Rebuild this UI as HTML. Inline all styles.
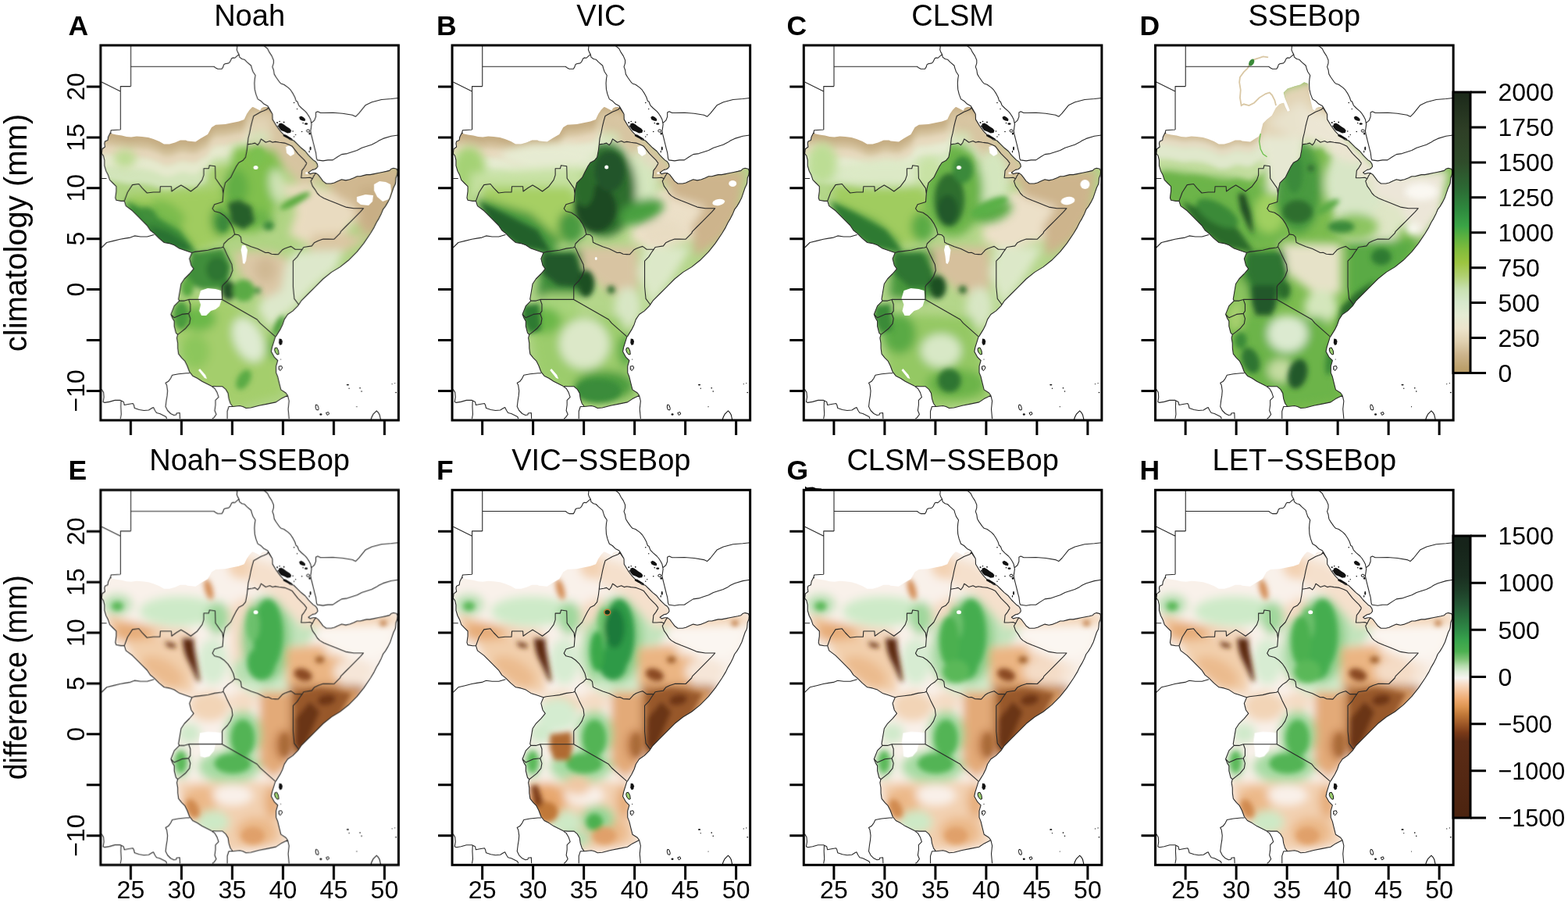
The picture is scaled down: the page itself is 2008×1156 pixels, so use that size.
<!DOCTYPE html><html><head><meta charset="utf-8"><title>Figure</title><style>html,body{margin:0;padding:0;background:#fff;}svg{display:block;}</style></head><body>
<svg width="2008" height="1156" viewBox="0 0 2008 1156">
<rect width="2008" height="1156" fill="#fff"/>
<defs>
<clipPath id="dom" clipPathUnits="userSpaceOnUse"><path d="M13.4 113.0 L20.2 114.5 L27.2 115.5 L33.2 117.0 L39.2 117.5 L46.2 116.5 L53.2 117.0 L61.2 118.0 L67.7 120.0 L75.2 123.0 L81.2 126.4 L88.2 126.4 L95.2 124.5 L102.2 121.5 L109.2 121.5 L111.2 122.5 L121.6 123.4 L128.5 119.0 L137.2 114.0 L142.2 105.0 L147.5 101.8 L159.6 100.9 L168.2 99.2 L176.9 97.5 L183.9 94.9 L187.2 88.0 L190.8 82.8 L194.2 79.3 L195.1 79.0 L199.2 81.0 L204.4 83.7 L206.0 80.5 L209.1 79.0 L213.0 79.0 L215.3 80.5 L218.4 85.2 L220.0 88.0 L220.2 94.9 L225.4 103.5 L230.6 110.4 L235.7 115.6 L242.7 120.8 L247.4 122.0 L251.6 126.2 L256.8 131.3 L262.0 135.5 L266.1 140.7 L269.2 143.8 L272.3 146.9 L275.5 149.0 L277.5 152.1 L278.0 155.2 L276.5 157.3 L274.4 158.8 L271.3 159.4 L268.2 161.4 L266.1 163.0 L268.2 164.6 L272.3 163.5 L275.5 163.5 L278.6 165.6 L281.7 169.7 L284.8 173.9 L288.9 177.0 L295.2 177.0 L299.3 176.0 L303.5 173.9 L308.7 171.8 L313.9 172.9 L319.1 171.8 L324.2 169.7 L328.4 167.7 L332.5 167.7 L336.7 166.6 L340.8 165.6 L345.0 165.6 L350.2 164.6 L355.4 163.5 L360.6 162.5 L365.8 161.4 L369.9 160.4 L372.0 158.3 L375.1 157.3 L379.3 158.3 L380.3 161.4 L379.8 165.6 L378.2 169.7 L377.7 176.0 L377.2 178.1 L375.1 182.2 L373.0 188.4 L370.9 194.7 L367.8 200.9 L364.7 206.1 L361.6 210.2 L359.5 215.4 L356.4 221.6 L353.3 226.8 L350.2 233.1 L345.6 240.7 L336.9 253.6 L328.3 264.4 L317.4 275.3 L306.6 283.9 L295.8 290.4 L285.0 299.0 L274.2 309.9 L265.5 318.5 L256.9 327.2 L252.6 333.6 L246.1 340.1 L239.6 344.5 L235.3 350.9 L233.1 357.4 L229.9 363.9 L224.5 372.6 L223.7 373.4 L219.5 386.9 L218.5 392.1 L222.6 399.4 L226.8 403.5 L224.7 410.8 L224.7 419.1 L226.8 424.3 L228.8 432.6 L230.9 440.9 L237.2 445.0 L239.6 448.3 L230.9 452.6 L224.5 456.9 L213.6 459.1 L202.8 461.2 L192.3 464.0 L186.2 464.5 L182.2 462.5 L178.2 461.5 L169.2 462.5 L166.2 458.5 L164.2 452.4 L163.2 445.4 L160.2 440.3 L156.1 436.8 L148.1 436.8 L142.0 436.3 L136.0 433.3 L130.0 430.3 L123.9 426.3 L117.9 423.2 L113.9 418.2 L110.9 410.2 L107.8 404.1 L103.8 400.1 L99.8 395.1 L98.8 388.0 L98.7 381.2 L97.6 374.7 L98.7 370.4 L96.5 368.2 L94.3 359.6 L94.3 353.1 L92.2 349.8 L90.0 344.4 L94.3 333.6 L100.8 327.1 L99.7 325.0 L100.8 318.5 L103.0 305.5 L107.3 299.0 L113.8 292.5 L119.2 286.1 L116.0 281.7 L113.8 273.1 L117.0 265.5 L113.8 264.4 L107.3 262.3 L100.8 260.1 L94.3 255.8 L87.8 253.6 L81.4 252.5 L74.9 247.1 L68.4 240.6 L63.6 236.8 L59.4 230.5 L53.2 224.3 L47.0 218.1 L40.7 211.8 L32.4 205.6 L30.4 199.4 L26.2 199.4 L20.0 198.3 L18.9 195.2 L20.0 186.9 L20.0 180.7 L15.8 176.5 L11.7 172.4 L9.6 166.1 L7.5 162.0 L7.0 161.2 L4.9 154.1 L4.9 147.0 L3.5 141.3 L1.3 138.5 L2.0 132.8 L5.6 130.0 L4.9 125.7 L5.6 122.9 L9.1 121.5 L9.8 117.2 L12.7 111.5 L13.4 113.0Z"/></clipPath>
<clipPath id="domD" clipPathUnits="userSpaceOnUse"><path d="M13.4 113.0 L20.2 114.5 L27.2 115.5 L33.2 117.0 L39.2 117.5 L46.2 116.5 L53.2 117.0 L61.2 118.0 L67.7 120.0 L75.2 123.0 L81.2 126.4 L88.2 126.4 L95.2 124.5 L102.2 121.5 L109.2 121.5 L111.2 122.5 L121.6 123.4 L128.5 119.0 L137.2 114.0 L142.2 105.0 L147.5 101.8 L159.6 100.9 L168.2 99.2 L176.9 97.5 L183.9 94.9 L187.2 88.0 L190.8 82.8 L194.2 79.3 L195.1 79.0 L199.2 81.0 L204.4 83.7 L206.0 80.5 L209.1 79.0 L213.0 79.0 L215.3 80.5 L218.4 85.2 L220.0 88.0 L220.2 94.9 L225.4 103.5 L230.6 110.4 L235.7 115.6 L242.7 120.8 L247.4 122.0 L251.6 126.2 L256.8 131.3 L262.0 135.5 L266.1 140.7 L269.2 143.8 L272.3 146.9 L275.5 149.0 L277.5 152.1 L278.0 155.2 L276.5 157.3 L274.4 158.8 L271.3 159.4 L268.2 161.4 L266.1 163.0 L268.2 164.6 L272.3 163.5 L275.5 163.5 L278.6 165.6 L281.7 169.7 L284.8 173.9 L288.9 177.0 L295.2 177.0 L299.3 176.0 L303.5 173.9 L308.7 171.8 L313.9 172.9 L319.1 171.8 L324.2 169.7 L328.4 167.7 L332.5 167.7 L336.7 166.6 L340.8 165.6 L345.0 165.6 L350.2 164.6 L355.4 163.5 L360.6 162.5 L365.8 161.4 L369.9 160.4 L372.0 158.3 L375.1 157.3 L379.3 158.3 L380.3 161.4 L379.8 165.6 L378.2 169.7 L377.7 176.0 L377.2 178.1 L375.1 182.2 L373.0 188.4 L370.9 194.7 L367.8 200.9 L364.7 206.1 L361.6 210.2 L359.5 215.4 L356.4 221.6 L353.3 226.8 L350.2 233.1 L345.6 240.7 L336.9 253.6 L328.3 264.4 L317.4 275.3 L306.6 283.9 L295.8 290.4 L285.0 299.0 L274.2 309.9 L265.5 318.5 L256.9 327.2 L252.6 333.6 L246.1 340.1 L239.6 344.5 L235.3 350.9 L233.1 357.4 L229.9 363.9 L224.5 372.6 L223.7 373.4 L219.5 386.9 L218.5 392.1 L222.6 399.4 L226.8 403.5 L224.7 410.8 L224.7 419.1 L226.8 424.3 L228.8 432.6 L230.9 440.9 L237.2 445.0 L239.6 448.3 L230.9 452.6 L224.5 456.9 L213.6 459.1 L202.8 461.2 L192.3 464.0 L186.2 464.5 L182.2 462.5 L178.2 461.5 L169.2 462.5 L166.2 458.5 L164.2 452.4 L163.2 445.4 L160.2 440.3 L156.1 436.8 L148.1 436.8 L142.0 436.3 L136.0 433.3 L130.0 430.3 L123.9 426.3 L117.9 423.2 L113.9 418.2 L110.9 410.2 L107.8 404.1 L103.8 400.1 L99.8 395.1 L98.8 388.0 L98.7 381.2 L97.6 374.7 L98.7 370.4 L96.5 368.2 L94.3 359.6 L94.3 353.1 L92.2 349.8 L90.0 344.4 L94.3 333.6 L100.8 327.1 L99.7 325.0 L100.8 318.5 L103.0 305.5 L107.3 299.0 L113.8 292.5 L119.2 286.1 L116.0 281.7 L113.8 273.1 L117.0 265.5 L113.8 264.4 L107.3 262.3 L100.8 260.1 L94.3 255.8 L87.8 253.6 L81.4 252.5 L74.9 247.1 L68.4 240.6 L63.6 236.8 L59.4 230.5 L53.2 224.3 L47.0 218.1 L40.7 211.8 L32.4 205.6 L30.4 199.4 L26.2 199.4 L20.0 198.3 L18.9 195.2 L20.0 186.9 L20.0 180.7 L15.8 176.5 L11.7 172.4 L9.6 166.1 L7.5 162.0 L7.0 161.2 L4.9 154.1 L4.9 147.0 L3.5 141.3 L1.3 138.5 L2.0 132.8 L5.6 130.0 L4.9 125.7 L5.6 122.9 L9.1 121.5 L9.8 117.2 L12.7 111.5 L13.4 113.0Z"/><path d="M117.2 128.0 L123.2 123.0 L129.8 119.7 L134.7 113.1 L138.0 100.0 L143.0 95.0 L149.5 90.0 L154.5 80.2 L159.4 75.3 L164.3 73.7 L166.0 78.6 L169.3 85.2 L172.6 83.5 L166.0 67.1 L164.3 60.5 L169.3 55.6 L179.1 52.3 L185.7 50.6 L190.6 47.3 L195.6 49.0 L197.2 63.8 L198.9 72.0 L201.2 82.0 L191.2 102.0 L171.2 117.0 L141.2 127.0Z"/></clipPath>
<clipPath id="cETH" clipPathUnits="userSpaceOnUse"><path d="M188.2 126.9 L194.2 126.0 L197.7 125.1 L201.2 127.7 L203.7 124.3 L205.5 119.9 L208.1 121.7 L211.5 124.3 L216.7 122.5 L220.2 124.3 L223.6 123.4 L228.8 124.3 L235.7 125.1 L241.2 127.2 L245.4 129.3 L248.5 133.4 L252.6 138.6 L256.8 142.8 L260.9 146.9 L264.0 151.1 L260.9 156.3 L257.8 160.4 L257.3 165.6 L256.8 169.7 L262.0 169.7 L268.2 169.2 L271.3 170.8 L269.2 173.9 L271.3 180.1 L274.4 184.3 L277.5 189.5 L280.6 192.6 L285.8 195.7 L293.1 198.8 L301.4 201.9 L308.7 205.0 L313.9 207.1 L324.2 208.7 L336.7 208.7 L332.5 213.3 L326.3 219.6 L320.1 225.8 L313.9 232.0 L307.6 238.3 L306.6 240.7 L299.1 248.2 L291.2 248.1 L284.9 248.1 L278.7 250.2 L273.5 252.8 L270.4 256.9 L263.1 258.0 L260.0 258.5 L257.9 261.6 L256.9 261.3 L249.1 261.3 L243.9 257.4 L240.3 258.5 L235.6 260.3 L232.5 262.1 L227.3 267.8 L223.7 267.6 L219.0 267.3 L214.8 265.2 L211.2 265.5 L201.2 260.5 L192.8 257.7 L183.9 254.0 L180.4 252.3 L179.5 245.4 L176.9 242.8 L171.7 241.9 L170.0 235.0 L166.6 228.1 L163.1 222.9 L157.9 217.7 L152.7 214.2 L145.8 212.5 L143.2 209.0 L145.8 203.8 L156.2 200.4 L157.0 190.0 L157.9 183.1 L159.6 176.2 L163.1 172.7 L166.6 169.2 L170.0 162.3 L173.5 155.4 L176.9 150.2 L182.1 147.6 L185.6 143.3 L187.3 134.7 L188.2 126.9Z"/></clipPath>
<clipPath id="cUGA" clipPathUnits="userSpaceOnUse"><path d="M117.0 265.5 L120.3 264.4 L128.9 263.4 L137.6 262.3 L146.2 260.1 L154.9 259.0 L157.0 258.0 L158.7 261.0 L162.3 269.1 L168.0 280.5 L169.0 288.2 L166.2 295.8 L162.3 301.5 L156.6 307.2 L155.7 309.0 L155.7 325.4 L112.7 325.4 L107.3 327.1 L100.8 327.1 L99.7 325.0 L100.8 318.5 L103.0 305.5 L107.3 299.0 L113.8 292.5 L119.2 286.1 L116.0 281.7 L113.8 273.1 L117.0 265.5Z"/></clipPath>
<clipPath id="cSSD" clipPathUnits="userSpaceOnUse"><path d="M30.4 199.4 L34.5 188.2 L40.7 178.6 L49.0 177.5 L53.2 182.7 L59.4 189.0 L67.7 188.0 L76.0 188.0 L76.5 180.7 L90.6 180.7 L91.0 187.0 L96.8 182.8 L103.0 179.0 L109.3 182.8 L115.5 187.0 L123.8 180.7 L130.0 172.4 L132.1 166.1 L132.1 157.8 L138.4 157.8 L139.4 153.7 L146.7 154.7 L147.1 170.3 L152.9 178.6 L156.0 182.8 L157.0 190.0 L156.2 200.4 L145.8 203.8 L143.2 209.0 L145.8 212.5 L152.7 214.2 L157.9 217.7 L163.1 222.9 L166.6 228.1 L170.0 235.0 L171.7 241.9 L168.3 245.4 L163.1 248.8 L157.9 254.0 L157.0 258.0 L154.9 259.0 L146.2 260.1 L137.6 262.3 L128.9 263.4 L120.3 264.4 L117.0 265.5 L113.8 264.4 L107.3 262.3 L100.8 260.1 L94.3 255.8 L87.8 253.6 L81.4 252.5 L74.9 247.1 L68.4 240.6 L63.6 236.8 L59.4 230.5 L53.2 224.3 L47.0 218.1 L40.7 211.8 L32.4 205.6 L30.4 199.4Z"/></clipPath>
<clipPath id="frm" clipPathUnits="userSpaceOnUse"><rect x="0" y="0" width="381.6" height="480.0"/></clipPath>
<filter id="bl2" x="-10%" y="-10%" width="120%" height="120%"><feGaussianBlur stdDeviation="2"/></filter>
<filter id="bl3" x="-10%" y="-10%" width="120%" height="120%"><feGaussianBlur stdDeviation="3"/></filter>
<filter id="bl4" x="-10%" y="-10%" width="120%" height="120%"><feGaussianBlur stdDeviation="4"/></filter>
<filter id="bl6" x="-10%" y="-10%" width="120%" height="120%"><feGaussianBlur stdDeviation="6"/></filter>
<linearGradient id="cb1" x1="0" y1="1" x2="0" y2="0"><stop offset="0.0000" stop-color="#b89c66"/><stop offset="0.0180" stop-color="#bca06c"/><stop offset="0.0650" stop-color="#ccb48c"/><stop offset="0.1120" stop-color="#e0d0b0"/><stop offset="0.1590" stop-color="#ece4cc"/><stop offset="0.2060" stop-color="#e4ecd4"/><stop offset="0.2520" stop-color="#d6e8cc"/><stop offset="0.2990" stop-color="#c8e0b0"/><stop offset="0.3460" stop-color="#b0d070"/><stop offset="0.3930" stop-color="#9cc440"/><stop offset="0.4400" stop-color="#80bc3c"/><stop offset="0.4870" stop-color="#5ab040"/><stop offset="0.5240" stop-color="#3aa446"/><stop offset="0.5810" stop-color="#2e8a3e"/><stop offset="0.6560" stop-color="#2c6a34"/><stop offset="0.7500" stop-color="#2f4c2a"/><stop offset="0.8620" stop-color="#2e3f26"/><stop offset="0.9940" stop-color="#1c2a1a"/><stop offset="1.0000" stop-color="#1c2a1a"/></linearGradient>
<linearGradient id="cb2" x1="0" y1="1" x2="0" y2="0"><stop offset="0.0000" stop-color="#4a2210"/><stop offset="0.0110" stop-color="#4c2410"/><stop offset="0.2710" stop-color="#5c2c16"/><stop offset="0.3020" stop-color="#7a3a18"/><stop offset="0.3350" stop-color="#a05a28"/><stop offset="0.3660" stop-color="#c07838"/><stop offset="0.3930" stop-color="#dc9450"/><stop offset="0.4210" stop-color="#eeaa70"/><stop offset="0.4490" stop-color="#f4c49c"/><stop offset="0.4740" stop-color="#f8dcc6"/><stop offset="0.4960" stop-color="#f6f4f0"/><stop offset="0.5180" stop-color="#dcecd6"/><stop offset="0.5400" stop-color="#b4dcac"/><stop offset="0.5620" stop-color="#80c478"/><stop offset="0.5900" stop-color="#4cb050"/><stop offset="0.6290" stop-color="#38a44c"/><stop offset="0.6680" stop-color="#2e8a46"/><stop offset="0.7120" stop-color="#28703c"/><stop offset="0.7560" stop-color="#245634"/><stop offset="0.8090" stop-color="#1e3e28"/><stop offset="0.8560" stop-color="#1a2e20"/><stop offset="0.9610" stop-color="#16241a"/><stop offset="1.0000" stop-color="#16221a"/></linearGradient>
</defs>
<g transform="translate(128.80 58.00)">
<g clip-path="url(#frm)">
<g clip-path="url(#dom)"><g filter="url(#bl3)"><path d="M-8.8 42.0 L391.2 42.0 L391.2 482.0 L-8.8 482.0Z" fill="#b0d484"/><path d="M-6.6 83.0 L13.4 83.0 L20.2 84.5 L27.2 85.5 L33.2 87.0 L39.2 87.5 L46.2 86.5 L53.2 87.0 L61.2 88.0 L67.7 90.0 L75.2 93.0 L81.2 96.4 L88.2 96.4 L95.2 94.5 L102.2 91.5 L109.2 91.5 L111.2 92.5 L121.6 93.4 L128.5 89.0 L137.2 84.0 L142.2 75.0 L147.5 71.8 L159.6 70.9 L168.2 69.2 L176.9 67.5 L183.9 64.9 L187.2 58.0 L190.8 52.8 L194.2 49.3 L195.1 49.0 L199.2 51.0 L204.4 53.7 L206.0 50.5 L209.1 49.0 L213.0 49.0 L215.3 50.5 L218.4 55.2 L220.0 58.0 L240.0 58.0 L240.0 95.0 L220.0 95.0 L218.4 92.2 L215.3 87.5 L213.0 86.0 L209.1 86.0 L206.0 87.5 L204.4 90.7 L199.2 88.0 L195.1 86.0 L194.2 86.3 L190.8 89.8 L187.2 95.0 L183.9 101.9 L176.9 104.5 L168.2 106.2 L159.6 107.9 L147.5 108.8 L142.2 112.0 L137.2 121.0 L128.5 126.0 L121.6 130.4 L111.2 129.5 L109.2 128.5 L102.2 128.5 L95.2 131.5 L88.2 133.4 L81.2 133.4 L75.2 130.0 L67.7 127.0 L61.2 125.0 L53.2 124.0 L46.2 123.5 L39.2 124.5 L33.2 124.0 L27.2 122.5 L20.2 121.5 L13.4 120.0 L-6.6 120.0Z" fill="#c6ad84"/><path d="M-6.6 120.0 L13.4 120.0 L20.2 121.5 L27.2 122.5 L33.2 124.0 L39.2 124.5 L46.2 123.5 L53.2 124.0 L61.2 125.0 L67.7 127.0 L75.2 130.0 L81.2 133.4 L88.2 133.4 L95.2 131.5 L102.2 128.5 L109.2 128.5 L111.2 129.5 L121.6 130.4 L128.5 126.0 L137.2 121.0 L142.2 112.0 L147.5 108.8 L159.6 107.9 L168.2 106.2 L176.9 104.5 L183.9 101.9 L187.2 95.0 L190.8 89.8 L194.2 86.3 L195.1 86.0 L199.2 88.0 L204.4 90.7 L206.0 87.5 L209.1 86.0 L213.0 86.0 L215.3 87.5 L218.4 92.2 L220.0 95.0 L240.0 95.0 L240.0 103.0 L220.0 103.0 L218.4 100.2 L215.3 95.5 L213.0 94.0 L209.1 94.0 L206.0 95.5 L204.4 98.7 L199.2 96.0 L195.1 94.0 L194.2 94.3 L190.8 97.8 L187.2 103.0 L183.9 109.9 L176.9 112.5 L168.2 114.2 L159.6 115.9 L147.5 116.8 L142.2 120.0 L137.2 129.0 L128.5 134.0 L121.6 138.4 L111.2 137.5 L109.2 136.5 L102.2 136.5 L95.2 139.5 L88.2 141.4 L81.2 141.4 L75.2 138.0 L67.7 135.0 L61.2 133.0 L53.2 132.0 L46.2 131.5 L39.2 132.5 L33.2 132.0 L27.2 130.5 L20.2 129.5 L13.4 128.0 L-6.6 128.0Z" fill="#d3bf99"/><path d="M-6.6 128.0 L13.4 128.0 L20.2 129.5 L27.2 130.5 L33.2 132.0 L39.2 132.5 L46.2 131.5 L53.2 132.0 L61.2 133.0 L67.7 135.0 L75.2 138.0 L81.2 141.4 L88.2 141.4 L95.2 139.5 L102.2 136.5 L109.2 136.5 L111.2 137.5 L121.6 138.4 L128.5 134.0 L137.2 129.0 L142.2 120.0 L147.5 116.8 L159.6 115.9 L168.2 114.2 L176.9 112.5 L183.9 109.9 L187.2 103.0 L190.8 97.8 L194.2 94.3 L195.1 94.0 L199.2 96.0 L204.4 98.7 L206.0 95.5 L209.1 94.0 L213.0 94.0 L215.3 95.5 L218.4 100.2 L220.0 103.0 L240.0 103.0 L240.0 115.0 L220.0 115.0 L218.4 112.2 L215.3 107.5 L213.0 106.0 L209.1 106.0 L206.0 107.5 L204.4 110.7 L199.2 108.0 L195.1 106.0 L194.2 106.3 L190.8 109.8 L187.2 115.0 L183.9 121.9 L176.9 124.5 L168.2 126.2 L159.6 127.9 L147.5 128.8 L142.2 132.0 L137.2 141.0 L128.5 146.0 L121.6 150.4 L111.2 149.5 L109.2 148.5 L102.2 148.5 L95.2 151.5 L88.2 153.4 L81.2 153.4 L75.2 150.0 L67.7 147.0 L61.2 145.0 L53.2 144.0 L46.2 143.5 L39.2 144.5 L33.2 144.0 L27.2 142.5 L20.2 141.5 L13.4 140.0 L-6.6 140.0Z" fill="#e5d6ba"/><path d="M-6.6 140.0 L13.4 140.0 L20.2 141.5 L27.2 142.5 L33.2 144.0 L39.2 144.5 L46.2 143.5 L53.2 144.0 L61.2 145.0 L67.7 147.0 L75.2 150.0 L81.2 153.4 L88.2 153.4 L95.2 151.5 L102.2 148.5 L109.2 148.5 L111.2 149.5 L121.6 150.4 L128.5 146.0 L137.2 141.0 L142.2 132.0 L147.5 128.8 L159.6 127.9 L168.2 126.2 L176.9 124.5 L183.9 121.9 L187.2 115.0 L190.8 109.8 L194.2 106.3 L195.1 106.0 L199.2 108.0 L204.4 110.7 L206.0 107.5 L209.1 106.0 L213.0 106.0 L215.3 107.5 L218.4 112.2 L220.0 115.0 L240.0 115.0 L240.0 130.0 L220.0 130.0 L218.4 127.2 L215.3 122.5 L213.0 121.0 L209.1 121.0 L206.0 122.5 L204.4 125.7 L199.2 123.0 L195.1 121.0 L194.2 121.3 L190.8 124.8 L187.2 130.0 L183.9 136.9 L176.9 139.5 L168.2 141.2 L159.6 142.9 L147.5 143.8 L142.2 147.0 L137.2 156.0 L128.5 161.0 L121.6 165.4 L111.2 164.5 L109.2 163.5 L102.2 163.5 L95.2 166.5 L88.2 168.4 L81.2 168.4 L75.2 165.0 L67.7 162.0 L61.2 160.0 L53.2 159.0 L46.2 158.5 L39.2 159.5 L33.2 159.0 L27.2 157.5 L20.2 156.5 L13.4 155.0 L-6.6 155.0Z" fill="#e5e9cd"/><path d="M-6.6 155.0 L13.4 155.0 L20.2 156.5 L27.2 157.5 L33.2 159.0 L39.2 159.5 L46.2 158.5 L53.2 159.0 L61.2 160.0 L67.7 162.0 L75.2 165.0 L81.2 168.4 L88.2 168.4 L95.2 166.5 L102.2 163.5 L109.2 163.5 L111.2 164.5 L121.6 165.4 L128.5 161.0 L137.2 156.0 L142.2 147.0 L147.5 143.8 L159.6 142.9 L168.2 141.2 L176.9 139.5 L183.9 136.9 L187.2 130.0 L190.8 124.8 L194.2 121.3 L195.1 121.0 L199.2 123.0 L204.4 125.7 L206.0 122.5 L209.1 121.0 L213.0 121.0 L215.3 122.5 L218.4 127.2 L220.0 130.0 L240.0 130.0 L240.0 148.0 L220.0 148.0 L218.4 145.2 L215.3 140.5 L213.0 139.0 L209.1 139.0 L206.0 140.5 L204.4 143.7 L199.2 141.0 L195.1 139.0 L194.2 139.3 L190.8 142.8 L187.2 148.0 L183.9 154.9 L176.9 157.5 L168.2 159.2 L159.6 160.9 L147.5 161.8 L142.2 165.0 L137.2 174.0 L128.5 179.0 L121.6 183.4 L111.2 182.5 L109.2 181.5 L102.2 181.5 L95.2 184.5 L88.2 186.4 L81.2 186.4 L75.2 183.0 L67.7 180.0 L61.2 178.0 L53.2 177.0 L46.2 176.5 L39.2 177.5 L33.2 177.0 L27.2 175.5 L20.2 174.5 L13.4 173.0 L-6.6 173.0Z" fill="#d3e5bb"/></g><g filter="url(#bl6)"><ellipse transform="translate(31.2 145.0) rotate(0.0)" rx="14.0" ry="12.0" fill="#bcdb92"/><ellipse transform="translate(156.2 167.0) rotate(0.0)" rx="20.0" ry="16.0" fill="#a8d070"/><path d="M31.2 192.0 L156.2 182.0 L171.2 242.0 L121.2 264.0 L61.2 242.0Z" fill="#a0cc5e"/><path d="M29.2 198.0 L91.2 218.0 L123.2 264.0 L76.2 262.0 L43.2 234.0Z" fill="#62ae46"/><ellipse transform="translate(86.2 214.0) rotate(30.0)" rx="25.0" ry="12.0" fill="#7cbc4e"/><ellipse transform="translate(155.2 224.0) rotate(0.0)" rx="14.0" ry="20.0" fill="#4f9e40"/><path d="M171.2 130.0 L216.2 127.0 L233.2 142.0 L233.2 192.0 L201.2 240.0 L159.2 240.0 L157.2 190.0Z" fill="#80c04e"/><ellipse transform="translate(226.2 180.0) rotate(-10.0)" rx="10.0" ry="22.0" fill="#cde2b4"/><ellipse transform="translate(173.2 182.0) rotate(0.0)" rx="16.0" ry="24.0" fill="#62ae44"/><ellipse transform="translate(201.2 222.0) rotate(0.0)" rx="20.0" ry="12.0" fill="#6cb448"/><path d="M189.2 82.0 L220.2 82.0 L271.2 140.0 L283.2 154.0 L283.2 172.0 L257.2 180.0 L236.2 157.0 L223.2 134.0 L191.2 128.0Z" fill="#d7c4a0"/><path d="M191.2 92.0 L216.2 92.0 L221.2 127.0 L193.2 126.0Z" fill="#e2d4b6"/><ellipse transform="translate(204.2 118.0) rotate(0.0)" rx="12.0" ry="7.0" fill="#d2e4b8"/><path d="M231.2 178.0 L271.2 178.0 L311.2 192.0 L337.2 210.0 L311.2 242.0 L271.2 258.0 L241.2 242.0 L251.2 212.0Z" fill="#e9dbc0"/><path d="M276.2 164.0 L386.2 152.0 L386.2 182.0 L363.2 227.0 L341.2 247.0 L326.2 227.0 L326.2 207.0 L301.2 192.0Z" fill="#d0b890"/><path d="M331.2 182.0 L376.2 177.0 L366.2 222.0 L351.2 242.0 L336.2 232.0Z" fill="#c8ae85"/><path d="M271.2 242.0 L311.2 240.0 L341.2 247.0 L301.2 272.0 L266.2 262.0Z" fill="#dac6a2"/><path d="M249.2 264.0 L311.2 262.0 L301.2 287.0 L271.2 312.0 L251.2 334.0 L216.2 362.0 L201.2 337.0 L221.2 302.0Z" fill="#dde8cb"/><path d="M171.2 264.0 L216.2 264.0 L239.2 272.0 L231.2 314.0 L211.2 324.0 L191.2 312.0 L176.2 287.0Z" fill="#dbc7a6"/><ellipse transform="translate(211.2 287.0) rotate(0.0)" rx="14.0" ry="16.0" fill="#d0b994"/><path d="M99.2 326.0 L161.2 326.0 L223.2 372.0 L233.2 447.0 L171.2 464.0 L111.2 422.0 L93.2 362.0Z" fill="#a4ce6c"/><ellipse transform="translate(189.2 377.0) rotate(-25.0)" rx="18.0" ry="30.0" fill="#dfebd2"/><ellipse transform="translate(126.2 350.0) rotate(0.0)" rx="22.0" ry="16.0" fill="#6cb848"/><ellipse transform="translate(121.2 392.0) rotate(0.0)" rx="18.0" ry="22.0" fill="#8cc65c"/><ellipse transform="translate(221.2 387.0) rotate(0.0)" rx="6.0" ry="16.0" fill="#5aaa44"/></g><g filter="url(#bl3)"><path d="M33.2 200.0 L71.2 220.0 L101.2 238.0 L123.2 266.0 L103.2 264.0 L76.2 256.0 L49.2 238.0Z" fill="#3a8a38"/><path d="M61.2 230.0 L86.2 238.0 L111.2 254.0 L117.2 264.0 L93.2 260.0 L71.2 248.0Z" fill="#2c7230"/><ellipse transform="translate(61.2 217.0) rotate(35.0)" rx="12.0" ry="8.0" fill="#3f8e3a"/><path d="M163.2 202.0 L177.2 198.0 L193.2 206.0 L197.2 226.0 L183.2 236.0 L167.2 228.0Z" fill="#285e2a"/><ellipse transform="translate(157.2 227.0) rotate(0.0)" rx="8.0" ry="12.0" fill="#3b883a"/><ellipse transform="translate(215.2 231.0) rotate(0.0)" rx="7.0" ry="6.0" fill="#3b883a"/><ellipse transform="translate(249.2 199.0) rotate(-28.0)" rx="22.0" ry="5.0" fill="#58aa3e"/><ellipse transform="translate(201.2 142.0) rotate(0.0)" rx="10.0" ry="12.0" fill="#7cc050"/><path d="M117.2 266.0 L157.2 260.0 L167.2 282.0 L163.2 304.0 L155.2 312.0 L129.2 312.0 L107.2 302.0 L113.2 280.0Z" fill="#3f8e3a"/><ellipse transform="translate(149.2 287.0) rotate(0.0)" rx="14.0" ry="16.0" fill="#2e7430"/><ellipse transform="translate(164.2 314.0) rotate(0.0)" rx="9.0" ry="12.0" fill="#234f26"/><ellipse transform="translate(111.2 310.0) rotate(0.0)" rx="8.0" ry="12.0" fill="#56a640"/><ellipse transform="translate(183.2 314.0) rotate(0.0)" rx="14.0" ry="14.0" fill="#5aaa44"/><ellipse transform="translate(201.2 314.0) rotate(0.0)" rx="4.0" ry="4.0" fill="#3a8c3a"/><ellipse transform="translate(228.2 359.0) rotate(25.0)" rx="5.0" ry="14.0" fill="#4c9e3e"/><ellipse transform="translate(103.2 346.0) rotate(0.0)" rx="10.0" ry="18.0" fill="#4a9a3e"/><ellipse transform="translate(183.2 428.0) rotate(30.0)" rx="8.0" ry="14.0" fill="#5aaa44"/></g><path d="M237.2 130.0 L242.2 128.0 L247.2 132.0 L248.2 139.0 L243.2 142.0 L238.2 138.0Z" fill="#ffffff"/><ellipse transform="translate(264.2 163.5) rotate(0.0)" rx="2.0" ry="1.5" fill="#ffffff"/><path d="M128.2 314.0 L137.2 311.0 L147.2 312.0 L154.2 314.0 L155.2 325.0 L152.2 334.0 L147.2 338.0 L141.2 340.0 L135.2 346.0 L129.2 346.0 L126.2 340.0 L128.2 332.0 L125.2 324.0Z" fill="#ffffff"/><ellipse transform="translate(198.7 156.5) rotate(0.0)" rx="3.0" ry="2.5" fill="#ffffff"/><path d="M181.2 256.0 L185.2 256.0 L188.2 262.0 L187.2 269.0 L186.2 276.0 L184.2 280.0 L182.2 279.0 L181.2 270.0 L179.7 262.0Z" fill="#ffffff"/><path d="M125.2 416.0 L127.2 414.0 L134.2 422.0 L136.2 427.0 L133.2 426.0Z" fill="#ffffff"/><path d="M328.2 194.0 L339.2 191.0 L349.2 192.0 L348.2 200.0 L343.2 205.0 L333.2 204.0 L328.2 200.0Z" fill="#ffffff"/><path d="M350.2 178.0 L357.2 174.0 L365.2 175.0 L371.2 178.0 L372.2 187.0 L369.2 197.0 L361.2 200.0 L354.2 194.0 L350.2 186.0Z" fill="#ffffff"/></g>
<path d="M38.7 0.0 L38.7 52.6 M38.7 52.6 L25.5 52.6 L25.5 108.0 M1.3 47.0 L25.5 59.0 M1.2 170.5 L7.7 170.5 M38.7 27.2 L145.2 27.2 L147.6 29.1 L149.9 30.3 L155.3 30.3 L156.9 27.6 L157.7 24.9 L159.2 23.7 L163.9 22.9 L165.5 21.4 L167.8 16.7 L169.4 15.9 L171.7 16.3 L174.8 13.6 L177.2 11.6 M177.2 11.6 L175.6 8.9 L174.4 5.8 L174.8 2.7 L174.8 0.0 M177.2 11.6 L177.9 15.1 L181.0 17.5 L184.2 18.2 L187.3 21.4 L192.7 26.0 L193.5 29.1 L195.1 33.8 L198.2 38.5 L197.4 43.2 L197.0 48.6 L197.4 56.4 L198.9 62.6 L201.3 68.9 L205.2 71.2 L209.1 75.1 L213.7 77.4 L215.3 79.8 L217.6 83.7 L220.0 88.0 M208.2 0.0 L209.8 1.1 L213.7 4.2 L216.1 8.9 L219.2 13.6 L221.5 19.0 L221.5 22.9 L220.0 27.6 L221.5 31.5 L222.3 36.9 L224.6 40.8 L228.5 46.3 L230.9 49.0 L234.8 50.2 L240.2 54.1 L243.3 57.2 L246.4 61.9 L248.8 66.5 L250.3 71.2 L251.9 72.0 L253.8 76.8 L257.4 80.5 L262.2 84.7 L264.7 87.7 L267.1 91.4 L268.9 95.0 L269.5 98.0 L270.1 101.1 L269.5 105.9 L268.9 109.6 L269.5 113.2 L270.7 118.0 L271.9 122.9 L273.1 127.7 L274.3 132.6 L275.6 137.4 L276.2 142.0 L276.5 144.8 L277.5 146.9 L284.8 147.9 L291.0 146.9 L297.3 146.9 L303.5 142.8 L308.7 139.6 L315.9 138.6 L322.2 136.5 L328.4 134.5 L334.6 131.3 L340.8 129.3 L347.1 127.2 L353.3 124.1 L356.4 122.0 L361.8 119.4 L372.2 116.3 L381.2 115.0 M269.5 99.9 L273.7 96.2 L275.6 91.4 L275.6 85.9 L278.0 84.7 L281.6 86.5 L286.2 86.5 L297.5 86.2 L309.9 87.2 L322.4 89.3 L326.5 91.3 L330.7 87.2 L339.0 76.8 L347.3 72.7 L359.7 69.5 L372.2 68.5 L381.2 67.5 M220.0 88.0 L214.5 79.8 L213.0 82.1 L209.1 83.7 L205.2 85.2 L201.3 87.5 L196.0 90.5 L194.2 96.6 L192.5 103.5 L190.8 112.2 L189.0 119.1 L188.2 126.9 M188.2 126.9 L194.2 126.0 L197.7 125.1 L201.2 127.7 L203.7 124.3 L205.5 119.9 L208.1 121.7 L211.5 124.3 L216.7 122.5 L220.2 124.3 L223.6 123.4 L228.8 124.3 L235.7 125.1 L241.2 127.2 L245.4 129.3 L248.5 133.4 L252.6 138.6 L256.8 142.8 L260.9 146.9 L264.0 151.1 M264.0 151.1 L260.9 156.3 L257.8 160.4 L257.3 165.6 L256.8 169.7 L262.0 169.7 L268.2 169.2 L271.3 170.8 L273.4 166.6 L275.5 163.5 M271.3 170.8 L269.2 173.9 L271.3 180.1 L274.4 184.3 L277.5 189.5 L280.6 192.6 L285.8 195.7 L293.1 198.8 L301.4 201.9 L308.7 205.0 L313.9 207.1 L324.2 208.7 L336.7 208.7 L332.5 213.3 L326.3 219.6 L320.1 225.8 L313.9 232.0 L307.6 238.3 L306.6 240.7 L299.1 248.2 L291.2 248.1 L284.9 248.1 L278.7 250.2 L273.5 252.8 L270.4 256.9 L263.1 258.0 L260.0 258.5 L257.9 261.6 M188.2 126.9 L187.3 134.7 L185.6 143.3 L182.1 147.6 L176.9 150.2 L173.5 155.4 L170.0 162.3 L166.6 169.2 L163.1 172.7 L159.6 176.2 L157.9 183.1 L157.0 190.0 M30.4 199.4 L34.5 188.2 L40.7 178.6 L49.0 177.5 L53.2 182.7 L59.4 189.0 L67.7 188.0 L76.0 188.0 L76.5 180.7 L90.6 180.7 L91.0 187.0 L96.8 182.8 L103.0 179.0 L109.3 182.8 L115.5 187.0 L123.8 180.7 L130.0 172.4 L132.1 166.1 L132.1 157.8 L138.4 157.8 L139.4 153.7 L146.7 154.7 L147.1 170.3 L152.9 178.6 L156.0 182.8 L157.0 190.0 M157.0 190.0 L156.2 200.4 L145.8 203.8 L143.2 209.0 L145.8 212.5 L152.7 214.2 L157.9 217.7 L163.1 222.9 L166.6 228.1 L170.0 235.0 L171.7 241.9 M171.7 241.9 L176.9 242.8 L179.5 245.4 L180.4 252.3 L183.9 254.0 L192.8 257.7 L201.2 260.5 L211.2 265.5 L214.8 265.2 L219.0 267.3 L223.7 267.6 L227.3 267.8 L232.5 262.1 L235.6 260.3 L240.3 258.5 L243.9 257.4 L249.1 261.3 L256.9 261.3 L257.9 261.6 M171.7 241.9 L168.3 245.4 L163.1 248.8 L157.9 254.0 L157.0 258.0 M117.0 265.5 L120.3 264.4 L128.9 263.4 L137.6 262.3 L146.2 260.1 L154.9 259.0 L157.0 258.0 M157.0 258.0 L158.7 261.0 L162.3 269.1 L168.0 280.5 L169.0 288.2 L166.2 295.8 L162.3 301.5 L156.6 307.2 L155.7 309.0 L155.7 325.4 M155.7 325.4 L112.7 325.4 L107.3 327.1 L100.8 327.1 M112.7 325.4 L114.9 331.5 L114.9 340.1 L112.7 343.4 L104.0 344.4 L94.3 348.8 L90.0 344.4 M112.7 343.4 L114.9 349.8 L113.8 356.3 L108.4 362.8 L103.0 367.1 L98.7 370.4 M155.7 325.4 L200.4 351.0 L204.2 355.7 L223.4 372.6 M253.7 332.0 L248.0 324.3 L246.5 309.0 L246.5 292.0 L246.5 276.1 L251.7 270.9 L255.3 265.2 L257.9 261.6 M1.2 259.0 L7.8 252.5 L16.5 250.4 L25.1 248.2 L31.6 247.1 L38.1 246.1 L43.5 243.9 L51.1 245.0 L59.7 245.0 L68.4 242.5 M113.9 419.7 L109.8 419.7 L99.8 420.7 L91.7 422.2 L89.7 426.3 L86.7 430.3 L83.2 432.3 L84.7 435.3 L85.7 442.4 L85.2 448.4 L84.2 454.4 L83.2 462.5 L85.7 467.5 L89.7 471.5 L93.8 473.5 L96.8 473.0 L97.3 471.0 L101.3 470.5 L101.6 478.0 M142.5 436.8 L146.1 439.3 L149.1 444.4 L151.1 450.4 L147.1 454.4 L147.1 460.5 L146.1 467.5 L148.1 472.5 L145.1 476.6 L143.1 478.0 M169.2 462.5 L164.2 462.5 L162.2 468.5 L162.2 478.0 M1.2 440.3 L3.7 444.4 L4.2 450.4 L3.2 456.4 L5.2 457.4 L11.3 456.4 L18.3 454.4 L25.4 454.4 L29.4 456.4 L30.4 460.5 L35.4 459.5 L41.4 458.5 L42.5 460.5 L43.5 464.5 L49.5 466.5 L55.5 467.5 L61.6 467.0 L65.6 464.5 L67.6 463.5 L69.6 467.5 L71.6 470.5 L75.7 471.5 L79.7 473.5 L83.7 475.5 L84.7 478.0 M26.2 454.4 L25.9 462.5 L26.4 472.5 L25.4 478.0 M239.6 448.3 L241.3 455.4 L240.2 465.8 L241.3 478.0 M220.0 88.0 L220.2 94.9 L225.4 103.5 L230.6 110.4 L235.7 115.6 L242.7 120.8 L247.4 122.0 L251.6 126.2 L256.8 131.3 L262.0 135.5 L266.1 140.7 L269.2 143.8 L272.3 146.9 L275.5 149.0 L277.5 152.1 L278.0 155.2 L276.5 157.3 L274.4 158.8 L271.3 159.4 L268.2 161.4 L266.1 163.0 L268.2 164.6 L272.3 163.5 L275.5 163.5 L278.6 165.6 L281.7 169.7 L284.8 173.9 L288.9 177.0 L295.2 177.0 L299.3 176.0 L303.5 173.9 L308.7 171.8 L313.9 172.9 L319.1 171.8 L324.2 169.7 L328.4 167.7 L332.5 167.7 L336.7 166.6 L340.8 165.6 L345.0 165.6 L350.2 164.6 L355.4 163.5 L360.6 162.5 L365.8 161.4 L369.9 160.4 L372.0 158.3 L375.1 157.3 L379.3 158.3 L380.3 161.4 L379.8 165.6 L378.2 169.7 L377.7 176.0 L377.2 178.1 L375.1 182.2 L373.0 188.4 L370.9 194.7 L367.8 200.9 L364.7 206.1 L361.6 210.2 L359.5 215.4 L356.4 221.6 L353.3 226.8 L350.2 233.1 L345.6 240.7 L336.9 253.6 L328.3 264.4 L317.4 275.3 L306.6 283.9 L295.8 290.4 L285.0 299.0 L274.2 309.9 L265.5 318.5 L256.9 327.2 L252.6 333.6 L246.1 340.1 L239.6 344.5 L235.3 350.9 L233.1 357.4 L229.9 363.9 L224.5 372.6 L223.7 373.4 L219.5 386.9 L218.5 392.1 L222.6 399.4 L226.8 403.5 L224.7 410.8 L224.7 419.1 L226.8 424.3 L228.8 432.6 L230.9 440.9 L237.2 445.0 L239.6 448.3 M239.6 448.3 L230.9 452.6 L224.5 456.9 L213.6 459.1 L202.8 461.2 L192.3 464.0 L186.2 464.5 L182.2 462.5 L178.2 461.5 L169.2 462.5 M169.2 462.5 L166.2 458.5 L164.2 452.4 L163.2 445.4 L160.2 440.3 L156.1 436.8 L148.1 436.8 L142.0 436.3 L136.0 433.3 L130.0 430.3 L123.9 426.3 L117.9 423.2 L113.9 418.2 L110.9 410.2 L107.8 404.1 L103.8 400.1 L99.8 395.1 L98.8 388.0 L98.7 381.2 L97.6 374.7 L98.7 370.4 L96.5 368.2 L94.3 359.6 L94.3 353.1 L92.2 349.8 L90.0 344.4 L94.3 333.6 L100.8 327.1 L99.7 325.0 L100.8 318.5 L103.0 305.5 L107.3 299.0 L113.8 292.5 L119.2 286.1 L116.0 281.7 L113.8 273.1 L117.0 265.5 L113.8 264.4 L107.3 262.3 L100.8 260.1 L94.3 255.8 L87.8 253.6 L81.4 252.5 L74.9 247.1 L68.4 240.6 L63.6 236.8 L59.4 230.5 L53.2 224.3 L47.0 218.1 L40.7 211.8 L32.4 205.6 L30.4 199.4 M30.4 199.4 L26.2 199.4 L20.0 198.3 L18.9 195.2 L20.0 186.9 L20.0 180.7 L15.8 176.5 L11.7 172.4 L9.6 166.1 L7.5 162.0 L7.0 161.2 L4.9 154.1 L4.9 147.0 L3.5 141.3 L1.3 138.5 L2.0 132.8 L5.6 130.0 L4.9 125.7 L5.6 122.9 L9.1 121.5 L9.8 117.2 L12.7 111.5 L13.4 113.0 M25.5 108.0 L13.4 108.7 L12.7 111.5" fill="none" stroke="#2a2a2a" stroke-width="1.1" stroke-linejoin="round"/>
<path d="M228.2 100.5 L231.2 99.5 L234.2 101.0 L238.2 104.0 L242.2 106.5 L244.2 109.0 L243.2 112.0 L239.2 112.5 L235.2 110.5 L231.2 109.0 L228.2 105.5Z" fill="#111"/><path d="M234.2 114.0 L237.2 114.5 L241.2 117.0 L245.2 119.5 L246.2 121.5 L242.2 120.0 L237.2 118.0 L233.7 116.0Z" fill="#111"/><path d="M254.2 92.0 L256.7 90.5 L259.7 92.0 L262.2 94.5 L261.7 97.0 L258.2 96.5 L255.2 95.0Z" fill="#111"/><ellipse transform="translate(226.2 99.0) rotate(0.0)" rx="1.0" ry="1.0" fill="#111"/><ellipse transform="translate(227.7 103.5) rotate(0.0)" rx="1.2" ry="1.0" fill="#111"/><ellipse transform="translate(229.2 97.5) rotate(0.0)" rx="0.8" ry="0.8" fill="#111"/><ellipse transform="translate(234.7 98.5) rotate(0.0)" rx="0.9" ry="0.9" fill="#111"/><ellipse transform="translate(246.2 110.0) rotate(0.0)" rx="0.8" ry="0.8" fill="#111"/><ellipse transform="translate(249.7 114.5) rotate(0.0)" rx="0.7" ry="0.7" fill="#111"/><ellipse transform="translate(263.2 100.5) rotate(0.0)" rx="2.0" ry="1.2" fill="#111"/><ellipse transform="translate(259.2 99.5) rotate(0.0)" rx="0.8" ry="0.8" fill="#111"/><ellipse transform="translate(267.7 113.0) rotate(0.0)" rx="1.2" ry="1.5" fill="#111"/><ellipse transform="translate(268.7 132.0) rotate(0.0)" rx="1.0" ry="2.5" fill="#111"/><ellipse transform="translate(267.2 136.0) rotate(0.0)" rx="0.6" ry="1.5" fill="#111"/><ellipse transform="translate(247.7 117.0) rotate(0.0)" rx="0.7" ry="0.7" fill="#111"/><ellipse transform="translate(247.7 73.5) rotate(0.0)" rx="0.8" ry="0.8" fill="#111"/><ellipse transform="translate(251.7 81.5) rotate(0.0)" rx="0.7" ry="0.7" fill="#111"/><ellipse transform="translate(257.7 110.5) rotate(0.0)" rx="0.8" ry="0.8" fill="#111"/><ellipse cx="265.7" cy="109.5" rx="2" ry="1.6" fill="none" stroke="#111" stroke-width="1"/><path d="M228.7 375.5 L231.7 376.0 L233.0 379.0 L232.2 383.0 L229.7 384.0 L228.2 381.0Z" fill="#111"/><path d="M223.2 387.5 L225.7 387.0 L227.7 391.0 L228.2 395.5 L226.2 396.0 L223.7 393.0 L222.7 390.0Z" fill="#9cd070" stroke="#111" stroke-width="1"/><path d="M228.2 411.0 L231.7 410.5 L232.7 413.0 L230.2 416.5 L228.2 415.0Z" fill="none" stroke="#111" stroke-width="1"/><path d="M275.7 460.0 L277.7 460.5 L279.2 464.5 L278.7 467.0 L276.2 466.5 L275.2 463.0Z" fill="none" stroke="#111" stroke-width="1"/><path d="M288.7 470.5 L291.7 469.5 L292.7 472.0 L290.2 473.5Z" fill="none" stroke="#111" stroke-width="1"/><ellipse transform="translate(282.0 472.5) rotate(0.0)" rx="1.5" ry="1.2" fill="#111"/><ellipse transform="translate(316.5 434.6) rotate(0.0)" rx="1.6" ry="0.9" fill="#111"/><ellipse transform="translate(318.2 439.3) rotate(0.0)" rx="0.7" ry="0.7" fill="#111"/><ellipse transform="translate(332.2 438.8) rotate(0.0)" rx="0.9" ry="0.8" fill="#111"/><ellipse transform="translate(334.2 443.0) rotate(0.0)" rx="0.8" ry="0.8" fill="#111"/><ellipse transform="translate(328.0 462.7) rotate(0.0)" rx="0.6" ry="0.6" fill="#111"/><ellipse transform="translate(373.2 433.6) rotate(0.0)" rx="0.6" ry="0.6" fill="#111"/><ellipse transform="translate(376.8 432.6) rotate(0.0)" rx="0.6" ry="0.6" fill="#111"/><ellipse transform="translate(378.2 444.5) rotate(0.0)" rx="0.9" ry="0.8" fill="#111"/><ellipse transform="translate(230.7 402.0) rotate(0.0)" rx="0.6" ry="0.6" fill="#111"/><ellipse transform="translate(229.2 414.0) rotate(0.0)" rx="0.5" ry="0.5" fill="#111"/><path d="M346.2 479.0 L347.2 476.0 L349.2 472.0 L353.4 467.9 L355.5 470.0 L357.2 473.0 L358.6 479.0" fill="none" stroke="#111" stroke-width="1.1"/>
</g>
<rect x="0" y="0" width="381.6" height="480.0" fill="none" stroke="#000" stroke-width="3"/>
<path d="M38.6 480.0 V499.0 M103.6 480.0 V499.0 M168.6 480.0 V499.0 M233.6 480.0 V499.0 M298.6 480.0 V499.0 M363.6 480.0 V499.0 M0 53.0 H-18 M0 117.9 H-18 M0 182.8 H-18 M0 247.7 H-18 M0 312.6 H-18 M0 377.5 H-18 M0 442.4 H-18" stroke="#000" stroke-width="3" fill="none"/>
<text transform="translate(-21 53.0) rotate(-90)" text-anchor="middle" font-family="'Liberation Sans', Arial, Helvetica, sans-serif" font-size="32">20</text>
<text transform="translate(-21 117.9) rotate(-90)" text-anchor="middle" font-family="'Liberation Sans', Arial, Helvetica, sans-serif" font-size="32">15</text>
<text transform="translate(-21 182.8) rotate(-90)" text-anchor="middle" font-family="'Liberation Sans', Arial, Helvetica, sans-serif" font-size="32">10</text>
<text transform="translate(-21 247.7) rotate(-90)" text-anchor="middle" font-family="'Liberation Sans', Arial, Helvetica, sans-serif" font-size="32">5</text>
<text transform="translate(-21 312.6) rotate(-90)" text-anchor="middle" font-family="'Liberation Sans', Arial, Helvetica, sans-serif" font-size="32">0</text>
<text transform="translate(-21 442.4) rotate(-90)" text-anchor="middle" font-family="'Liberation Sans', Arial, Helvetica, sans-serif" font-size="32">−10</text>
<text x="190.8" y="-25.1" text-anchor="middle" font-family="'Liberation Sans', Arial, Helvetica, sans-serif" font-size="38">Noah</text>
<text x="-41.2" y="-13.4" font-family="'Liberation Sans', Arial, Helvetica, sans-serif" font-size="35.5" font-weight="bold">A</text>
</g>
<g transform="translate(579.05 58.00)">
<g clip-path="url(#frm)">
<g clip-path="url(#dom)"><g filter="url(#bl3)"><path d="M-19.2 -7.7 L392.1 -7.7 L392.1 489.3 L-19.2 489.3Z" fill="#b4d68a"/><path d="M-6.6 83.0 L13.4 83.0 L20.2 84.5 L27.2 85.5 L33.2 87.0 L39.2 87.5 L46.2 86.5 L53.2 87.0 L61.2 88.0 L67.7 90.0 L75.2 93.0 L81.2 96.4 L88.2 96.4 L95.2 94.5 L102.2 91.5 L109.2 91.5 L111.2 92.5 L121.6 93.4 L128.5 89.0 L137.2 84.0 L142.2 75.0 L147.5 71.8 L159.6 70.9 L168.2 69.2 L176.9 67.5 L183.9 64.9 L187.2 58.0 L190.8 52.8 L194.2 49.3 L195.1 49.0 L199.2 51.0 L204.4 53.7 L206.0 50.5 L209.1 49.0 L213.0 49.0 L215.3 50.5 L218.4 55.2 L220.0 58.0 L240.0 58.0 L240.0 95.0 L220.0 95.0 L218.4 92.2 L215.3 87.5 L213.0 86.0 L209.1 86.0 L206.0 87.5 L204.4 90.7 L199.2 88.0 L195.1 86.0 L194.2 86.3 L190.8 89.8 L187.2 95.0 L183.9 101.9 L176.9 104.5 L168.2 106.2 L159.6 107.9 L147.5 108.8 L142.2 112.0 L137.2 121.0 L128.5 126.0 L121.6 130.4 L111.2 129.5 L109.2 128.5 L102.2 128.5 L95.2 131.5 L88.2 133.4 L81.2 133.4 L75.2 130.0 L67.7 127.0 L61.2 125.0 L53.2 124.0 L46.2 123.5 L39.2 124.5 L33.2 124.0 L27.2 122.5 L20.2 121.5 L13.4 120.0 L-6.6 120.0Z" fill="#c6ad84"/><path d="M-6.6 120.0 L13.4 120.0 L20.2 121.5 L27.2 122.5 L33.2 124.0 L39.2 124.5 L46.2 123.5 L53.2 124.0 L61.2 125.0 L67.7 127.0 L75.2 130.0 L81.2 133.4 L88.2 133.4 L95.2 131.5 L102.2 128.5 L109.2 128.5 L111.2 129.5 L121.6 130.4 L128.5 126.0 L137.2 121.0 L142.2 112.0 L147.5 108.8 L159.6 107.9 L168.2 106.2 L176.9 104.5 L183.9 101.9 L187.2 95.0 L190.8 89.8 L194.2 86.3 L195.1 86.0 L199.2 88.0 L204.4 90.7 L206.0 87.5 L209.1 86.0 L213.0 86.0 L215.3 87.5 L218.4 92.2 L220.0 95.0 L240.0 95.0 L240.0 103.0 L220.0 103.0 L218.4 100.2 L215.3 95.5 L213.0 94.0 L209.1 94.0 L206.0 95.5 L204.4 98.7 L199.2 96.0 L195.1 94.0 L194.2 94.3 L190.8 97.8 L187.2 103.0 L183.9 109.9 L176.9 112.5 L168.2 114.2 L159.6 115.9 L147.5 116.8 L142.2 120.0 L137.2 129.0 L128.5 134.0 L121.6 138.4 L111.2 137.5 L109.2 136.5 L102.2 136.5 L95.2 139.5 L88.2 141.4 L81.2 141.4 L75.2 138.0 L67.7 135.0 L61.2 133.0 L53.2 132.0 L46.2 131.5 L39.2 132.5 L33.2 132.0 L27.2 130.5 L20.2 129.5 L13.4 128.0 L-6.6 128.0Z" fill="#d5c19c"/><path d="M-6.6 128.0 L13.4 128.0 L20.2 129.5 L27.2 130.5 L33.2 132.0 L39.2 132.5 L46.2 131.5 L53.2 132.0 L61.2 133.0 L67.7 135.0 L75.2 138.0 L81.2 141.4 L88.2 141.4 L95.2 139.5 L102.2 136.5 L109.2 136.5 L111.2 137.5 L121.6 138.4 L128.5 134.0 L137.2 129.0 L142.2 120.0 L147.5 116.8 L159.6 115.9 L168.2 114.2 L176.9 112.5 L183.9 109.9 L187.2 103.0 L190.8 97.8 L194.2 94.3 L195.1 94.0 L199.2 96.0 L204.4 98.7 L206.0 95.5 L209.1 94.0 L213.0 94.0 L215.3 95.5 L218.4 100.2 L220.0 103.0 L240.0 103.0 L240.0 115.0 L220.0 115.0 L218.4 112.2 L215.3 107.5 L213.0 106.0 L209.1 106.0 L206.0 107.5 L204.4 110.7 L199.2 108.0 L195.1 106.0 L194.2 106.3 L190.8 109.8 L187.2 115.0 L183.9 121.9 L176.9 124.5 L168.2 126.2 L159.6 127.9 L147.5 128.8 L142.2 132.0 L137.2 141.0 L128.5 146.0 L121.6 150.4 L111.2 149.5 L109.2 148.5 L102.2 148.5 L95.2 151.5 L88.2 153.4 L81.2 153.4 L75.2 150.0 L67.7 147.0 L61.2 145.0 L53.2 144.0 L46.2 143.5 L39.2 144.5 L33.2 144.0 L27.2 142.5 L20.2 141.5 L13.4 140.0 L-6.6 140.0Z" fill="#e7d9be"/><path d="M-6.6 140.0 L13.4 140.0 L20.2 141.5 L27.2 142.5 L33.2 144.0 L39.2 144.5 L46.2 143.5 L53.2 144.0 L61.2 145.0 L67.7 147.0 L75.2 150.0 L81.2 153.4 L88.2 153.4 L95.2 151.5 L102.2 148.5 L109.2 148.5 L111.2 149.5 L121.6 150.4 L128.5 146.0 L137.2 141.0 L142.2 132.0 L147.5 128.8 L159.6 127.9 L168.2 126.2 L176.9 124.5 L183.9 121.9 L187.2 115.0 L190.8 109.8 L194.2 106.3 L195.1 106.0 L199.2 108.0 L204.4 110.7 L206.0 107.5 L209.1 106.0 L213.0 106.0 L215.3 107.5 L218.4 112.2 L220.0 115.0 L240.0 115.0 L240.0 130.0 L220.0 130.0 L218.4 127.2 L215.3 122.5 L213.0 121.0 L209.1 121.0 L206.0 122.5 L204.4 125.7 L199.2 123.0 L195.1 121.0 L194.2 121.3 L190.8 124.8 L187.2 130.0 L183.9 136.9 L176.9 139.5 L168.2 141.2 L159.6 142.9 L147.5 143.8 L142.2 147.0 L137.2 156.0 L128.5 161.0 L121.6 165.4 L111.2 164.5 L109.2 163.5 L102.2 163.5 L95.2 166.5 L88.2 168.4 L81.2 168.4 L75.2 165.0 L67.7 162.0 L61.2 160.0 L53.2 159.0 L46.2 158.5 L39.2 159.5 L33.2 159.0 L27.2 157.5 L20.2 156.5 L13.4 155.0 L-6.6 155.0Z" fill="#e6ebd2"/><path d="M-6.6 155.0 L13.4 155.0 L20.2 156.5 L27.2 157.5 L33.2 159.0 L39.2 159.5 L46.2 158.5 L53.2 159.0 L61.2 160.0 L67.7 162.0 L75.2 165.0 L81.2 168.4 L88.2 168.4 L95.2 166.5 L102.2 163.5 L109.2 163.5 L111.2 164.5 L121.6 165.4 L128.5 161.0 L137.2 156.0 L142.2 147.0 L147.5 143.8 L159.6 142.9 L168.2 141.2 L176.9 139.5 L183.9 136.9 L187.2 130.0 L190.8 124.8 L194.2 121.3 L195.1 121.0 L199.2 123.0 L204.4 125.7 L206.0 122.5 L209.1 121.0 L213.0 121.0 L215.3 122.5 L218.4 127.2 L220.0 130.0 L240.0 130.0 L240.0 148.0 L220.0 148.0 L218.4 145.2 L215.3 140.5 L213.0 139.0 L209.1 139.0 L206.0 140.5 L204.4 143.7 L199.2 141.0 L195.1 139.0 L194.2 139.3 L190.8 142.8 L187.2 148.0 L183.9 154.9 L176.9 157.5 L168.2 159.2 L159.6 160.9 L147.5 161.8 L142.2 165.0 L137.2 174.0 L128.5 179.0 L121.6 183.4 L111.2 182.5 L109.2 181.5 L102.2 181.5 L95.2 184.5 L88.2 186.4 L81.2 186.4 L75.2 183.0 L67.7 180.0 L61.2 178.0 L53.2 177.0 L46.2 176.5 L39.2 177.5 L33.2 177.0 L27.2 175.5 L20.2 174.5 L13.4 173.0 L-6.6 173.0Z" fill="#d6e7c0"/></g><g filter="url(#bl6)"><ellipse transform="translate(21.5 159.4) rotate(0.0)" rx="21.4" ry="30.0" fill="#a4d274"/><ellipse transform="translate(122.2 142.3) rotate(0.0)" rx="60.0" ry="17.1" fill="#e6ebd2"/><path d="M23.6 163.7 L165.0 155.1 L169.3 189.4 L23.6 193.7Z" fill="#c6e1a2"/><path d="M36.5 180.8 L152.2 180.8 L169.3 215.1 L160.7 249.4 L109.3 257.9 L45.1 215.1Z" fill="#a6cf64"/><path d="M30.1 193.7 L100.8 215.1 L139.3 249.4 L126.5 268.6 L83.6 260.1 L49.4 232.2Z" fill="#4a9a40"/><ellipse transform="translate(152.2 232.2) rotate(0.0)" rx="17.1" ry="21.4" fill="#4a9a40"/><path d="M186.5 82.3 L220.7 90.8 L280.7 150.8 L289.3 172.2 L259.3 176.5 L237.9 163.7 L220.7 129.4 L190.7 120.8Z" fill="#d7c4a0"/><ellipse transform="translate(202.7 117.8) rotate(0.0)" rx="12.0" ry="6.9" fill="#d2e4b8"/><path d="M229.3 193.7 L280.7 180.8 L336.4 208.7 L306.4 249.4 L255.0 262.2 L229.3 249.4Z" fill="#ece0c8"/><path d="M272.1 163.7 L375.0 159.4 L366.4 215.1 L345.0 249.4 L310.7 270.8 L306.4 232.2 L323.6 206.5 L280.7 193.7Z" fill="#cdb48c"/><path d="M246.4 257.9 L306.4 257.9 L280.7 300.8 L255.0 335.1 L237.9 292.2Z" fill="#dce8c8"/><path d="M160.7 257.9 L237.9 257.9 L237.9 317.9 L203.6 317.9 L169.3 292.2Z" fill="#d8c4a2"/><ellipse transform="translate(225.0 335.1) rotate(0.0)" rx="17.1" ry="25.7" fill="#d8e6c4"/><path d="M113.6 266.5 L165.0 262.2 L169.3 317.9 L152.2 326.5 L109.3 322.2Z" fill="#3f8e3a"/><path d="M117.9 317.9 L160.7 317.9 L160.7 347.9 L117.9 347.9Z" fill="#a8d47c"/><path d="M96.5 343.6 L216.4 347.9 L237.9 455.0 L165.0 463.6 L109.3 420.7Z" fill="#9ccc6c"/><ellipse transform="translate(169.3 382.2) rotate(0.0)" rx="32.1" ry="32.1" fill="#dce8c8"/><ellipse transform="translate(117.9 352.2) rotate(0.0)" rx="21.4" ry="17.1" fill="#6cb848"/><ellipse transform="translate(195.0 435.7) rotate(0.0)" rx="38.6" ry="19.3" fill="#4e9e40"/><ellipse transform="translate(222.9 390.8) rotate(0.0)" rx="10.7" ry="21.4" fill="#5aaa44"/></g><g clip-path="url(#cETH)"><g filter="url(#bl6)"><ellipse transform="translate(242.2 172.2) rotate(0.0)" rx="21.4" ry="38.6" fill="#d4e6be"/><ellipse transform="translate(195.0 185.1) rotate(0.0)" rx="40.7" ry="60.0" fill="#2e6e2e"/><ellipse transform="translate(242.2 213.0) rotate(-20.0)" rx="30.0" ry="15.0" fill="#4aa040"/><ellipse transform="translate(259.3 138.0) rotate(0.0)" rx="19.3" ry="19.3" fill="#e2dcc0"/><ellipse transform="translate(272.1 240.8) rotate(0.0)" rx="25.7" ry="17.1" fill="#e8dcc2"/></g></g><g clip-path="url(#cETH)"><g filter="url(#bl3)"><ellipse transform="translate(184.3 208.7) rotate(0.0)" rx="25.7" ry="30.0" fill="#1f4a22"/><ellipse transform="translate(201.5 161.5) rotate(0.0)" rx="19.3" ry="25.7" fill="#24542a"/><ellipse transform="translate(169.3 180.8) rotate(0.0)" rx="12.9" ry="25.7" fill="#2a6a2c"/></g></g><g filter="url(#bl3)"><path d="M34.4 200.1 L66.5 215.1 L109.3 236.5 L126.5 264.4 L87.9 257.9 L53.6 232.2Z" fill="#24602a"/><path d="M115.8 266.5 L156.5 266.5 L165.0 292.2 L160.7 309.4 L135.0 307.2 L115.8 292.2Z" fill="#24582a"/><ellipse transform="translate(171.5 305.1) rotate(0.0)" rx="10.7" ry="17.1" fill="#1f4f24"/><ellipse transform="translate(203.6 312.8) rotate(0.0)" rx="5.1" ry="5.1" fill="#2a6a2c"/><path d="M90.1 332.9 L111.5 330.8 L113.6 365.1 L98.6 369.3 L90.1 352.2Z" fill="#2e7a32"/><ellipse transform="translate(186.5 442.2) rotate(0.0)" rx="30.0" ry="15.0" fill="#3a8c3a"/></g><path d="M237.2 130.0 L242.2 128.0 L247.2 132.0 L248.2 139.0 L243.2 142.0 L238.2 138.0Z" fill="#ffffff"/><ellipse transform="translate(264.2 163.5) rotate(0.0)" rx="2.0" ry="1.5" fill="#ffffff"/><ellipse transform="translate(197.7 156.0) rotate(0.0)" rx="2.5" ry="2.5" fill="#ffffff"/><ellipse transform="translate(184.2 273.0) rotate(0.0)" rx="1.5" ry="2.0" fill="#ffffff"/><path d="M125.2 416.0 L127.2 414.0 L134.2 422.0 L136.2 427.0 L133.2 426.0Z" fill="#ffffff"/><ellipse transform="translate(341.2 201.0) rotate(-10.0)" rx="8.0" ry="4.0" fill="#ffffff"/><ellipse transform="translate(359.2 177.0) rotate(0.0)" rx="5.0" ry="4.0" fill="#ffffff"/></g>
<path d="M38.7 0.0 L38.7 52.6 M38.7 52.6 L25.5 52.6 L25.5 108.0 M1.3 47.0 L25.5 59.0 M1.2 170.5 L7.7 170.5 M38.7 27.2 L145.2 27.2 L147.6 29.1 L149.9 30.3 L155.3 30.3 L156.9 27.6 L157.7 24.9 L159.2 23.7 L163.9 22.9 L165.5 21.4 L167.8 16.7 L169.4 15.9 L171.7 16.3 L174.8 13.6 L177.2 11.6 M177.2 11.6 L175.6 8.9 L174.4 5.8 L174.8 2.7 L174.8 0.0 M177.2 11.6 L177.9 15.1 L181.0 17.5 L184.2 18.2 L187.3 21.4 L192.7 26.0 L193.5 29.1 L195.1 33.8 L198.2 38.5 L197.4 43.2 L197.0 48.6 L197.4 56.4 L198.9 62.6 L201.3 68.9 L205.2 71.2 L209.1 75.1 L213.7 77.4 L215.3 79.8 L217.6 83.7 L220.0 88.0 M208.2 0.0 L209.8 1.1 L213.7 4.2 L216.1 8.9 L219.2 13.6 L221.5 19.0 L221.5 22.9 L220.0 27.6 L221.5 31.5 L222.3 36.9 L224.6 40.8 L228.5 46.3 L230.9 49.0 L234.8 50.2 L240.2 54.1 L243.3 57.2 L246.4 61.9 L248.8 66.5 L250.3 71.2 L251.9 72.0 L253.8 76.8 L257.4 80.5 L262.2 84.7 L264.7 87.7 L267.1 91.4 L268.9 95.0 L269.5 98.0 L270.1 101.1 L269.5 105.9 L268.9 109.6 L269.5 113.2 L270.7 118.0 L271.9 122.9 L273.1 127.7 L274.3 132.6 L275.6 137.4 L276.2 142.0 L276.5 144.8 L277.5 146.9 L284.8 147.9 L291.0 146.9 L297.3 146.9 L303.5 142.8 L308.7 139.6 L315.9 138.6 L322.2 136.5 L328.4 134.5 L334.6 131.3 L340.8 129.3 L347.1 127.2 L353.3 124.1 L356.4 122.0 L361.8 119.4 L372.2 116.3 L381.2 115.0 M269.5 99.9 L273.7 96.2 L275.6 91.4 L275.6 85.9 L278.0 84.7 L281.6 86.5 L286.2 86.5 L297.5 86.2 L309.9 87.2 L322.4 89.3 L326.5 91.3 L330.7 87.2 L339.0 76.8 L347.3 72.7 L359.7 69.5 L372.2 68.5 L381.2 67.5 M220.0 88.0 L214.5 79.8 L213.0 82.1 L209.1 83.7 L205.2 85.2 L201.3 87.5 L196.0 90.5 L194.2 96.6 L192.5 103.5 L190.8 112.2 L189.0 119.1 L188.2 126.9 M188.2 126.9 L194.2 126.0 L197.7 125.1 L201.2 127.7 L203.7 124.3 L205.5 119.9 L208.1 121.7 L211.5 124.3 L216.7 122.5 L220.2 124.3 L223.6 123.4 L228.8 124.3 L235.7 125.1 L241.2 127.2 L245.4 129.3 L248.5 133.4 L252.6 138.6 L256.8 142.8 L260.9 146.9 L264.0 151.1 M264.0 151.1 L260.9 156.3 L257.8 160.4 L257.3 165.6 L256.8 169.7 L262.0 169.7 L268.2 169.2 L271.3 170.8 L273.4 166.6 L275.5 163.5 M271.3 170.8 L269.2 173.9 L271.3 180.1 L274.4 184.3 L277.5 189.5 L280.6 192.6 L285.8 195.7 L293.1 198.8 L301.4 201.9 L308.7 205.0 L313.9 207.1 L324.2 208.7 L336.7 208.7 L332.5 213.3 L326.3 219.6 L320.1 225.8 L313.9 232.0 L307.6 238.3 L306.6 240.7 L299.1 248.2 L291.2 248.1 L284.9 248.1 L278.7 250.2 L273.5 252.8 L270.4 256.9 L263.1 258.0 L260.0 258.5 L257.9 261.6 M188.2 126.9 L187.3 134.7 L185.6 143.3 L182.1 147.6 L176.9 150.2 L173.5 155.4 L170.0 162.3 L166.6 169.2 L163.1 172.7 L159.6 176.2 L157.9 183.1 L157.0 190.0 M30.4 199.4 L34.5 188.2 L40.7 178.6 L49.0 177.5 L53.2 182.7 L59.4 189.0 L67.7 188.0 L76.0 188.0 L76.5 180.7 L90.6 180.7 L91.0 187.0 L96.8 182.8 L103.0 179.0 L109.3 182.8 L115.5 187.0 L123.8 180.7 L130.0 172.4 L132.1 166.1 L132.1 157.8 L138.4 157.8 L139.4 153.7 L146.7 154.7 L147.1 170.3 L152.9 178.6 L156.0 182.8 L157.0 190.0 M157.0 190.0 L156.2 200.4 L145.8 203.8 L143.2 209.0 L145.8 212.5 L152.7 214.2 L157.9 217.7 L163.1 222.9 L166.6 228.1 L170.0 235.0 L171.7 241.9 M171.7 241.9 L176.9 242.8 L179.5 245.4 L180.4 252.3 L183.9 254.0 L192.8 257.7 L201.2 260.5 L211.2 265.5 L214.8 265.2 L219.0 267.3 L223.7 267.6 L227.3 267.8 L232.5 262.1 L235.6 260.3 L240.3 258.5 L243.9 257.4 L249.1 261.3 L256.9 261.3 L257.9 261.6 M171.7 241.9 L168.3 245.4 L163.1 248.8 L157.9 254.0 L157.0 258.0 M117.0 265.5 L120.3 264.4 L128.9 263.4 L137.6 262.3 L146.2 260.1 L154.9 259.0 L157.0 258.0 M157.0 258.0 L158.7 261.0 L162.3 269.1 L168.0 280.5 L169.0 288.2 L166.2 295.8 L162.3 301.5 L156.6 307.2 L155.7 309.0 L155.7 325.4 M155.7 325.4 L112.7 325.4 L107.3 327.1 L100.8 327.1 M112.7 325.4 L114.9 331.5 L114.9 340.1 L112.7 343.4 L104.0 344.4 L94.3 348.8 L90.0 344.4 M112.7 343.4 L114.9 349.8 L113.8 356.3 L108.4 362.8 L103.0 367.1 L98.7 370.4 M155.7 325.4 L200.4 351.0 L204.2 355.7 L223.4 372.6 M253.7 332.0 L248.0 324.3 L246.5 309.0 L246.5 292.0 L246.5 276.1 L251.7 270.9 L255.3 265.2 L257.9 261.6 M1.2 259.0 L7.8 252.5 L16.5 250.4 L25.1 248.2 L31.6 247.1 L38.1 246.1 L43.5 243.9 L51.1 245.0 L59.7 245.0 L68.4 242.5 M113.9 419.7 L109.8 419.7 L99.8 420.7 L91.7 422.2 L89.7 426.3 L86.7 430.3 L83.2 432.3 L84.7 435.3 L85.7 442.4 L85.2 448.4 L84.2 454.4 L83.2 462.5 L85.7 467.5 L89.7 471.5 L93.8 473.5 L96.8 473.0 L97.3 471.0 L101.3 470.5 L101.6 478.0 M142.5 436.8 L146.1 439.3 L149.1 444.4 L151.1 450.4 L147.1 454.4 L147.1 460.5 L146.1 467.5 L148.1 472.5 L145.1 476.6 L143.1 478.0 M169.2 462.5 L164.2 462.5 L162.2 468.5 L162.2 478.0 M1.2 440.3 L3.7 444.4 L4.2 450.4 L3.2 456.4 L5.2 457.4 L11.3 456.4 L18.3 454.4 L25.4 454.4 L29.4 456.4 L30.4 460.5 L35.4 459.5 L41.4 458.5 L42.5 460.5 L43.5 464.5 L49.5 466.5 L55.5 467.5 L61.6 467.0 L65.6 464.5 L67.6 463.5 L69.6 467.5 L71.6 470.5 L75.7 471.5 L79.7 473.5 L83.7 475.5 L84.7 478.0 M26.2 454.4 L25.9 462.5 L26.4 472.5 L25.4 478.0 M239.6 448.3 L241.3 455.4 L240.2 465.8 L241.3 478.0 M220.0 88.0 L220.2 94.9 L225.4 103.5 L230.6 110.4 L235.7 115.6 L242.7 120.8 L247.4 122.0 L251.6 126.2 L256.8 131.3 L262.0 135.5 L266.1 140.7 L269.2 143.8 L272.3 146.9 L275.5 149.0 L277.5 152.1 L278.0 155.2 L276.5 157.3 L274.4 158.8 L271.3 159.4 L268.2 161.4 L266.1 163.0 L268.2 164.6 L272.3 163.5 L275.5 163.5 L278.6 165.6 L281.7 169.7 L284.8 173.9 L288.9 177.0 L295.2 177.0 L299.3 176.0 L303.5 173.9 L308.7 171.8 L313.9 172.9 L319.1 171.8 L324.2 169.7 L328.4 167.7 L332.5 167.7 L336.7 166.6 L340.8 165.6 L345.0 165.6 L350.2 164.6 L355.4 163.5 L360.6 162.5 L365.8 161.4 L369.9 160.4 L372.0 158.3 L375.1 157.3 L379.3 158.3 L380.3 161.4 L379.8 165.6 L378.2 169.7 L377.7 176.0 L377.2 178.1 L375.1 182.2 L373.0 188.4 L370.9 194.7 L367.8 200.9 L364.7 206.1 L361.6 210.2 L359.5 215.4 L356.4 221.6 L353.3 226.8 L350.2 233.1 L345.6 240.7 L336.9 253.6 L328.3 264.4 L317.4 275.3 L306.6 283.9 L295.8 290.4 L285.0 299.0 L274.2 309.9 L265.5 318.5 L256.9 327.2 L252.6 333.6 L246.1 340.1 L239.6 344.5 L235.3 350.9 L233.1 357.4 L229.9 363.9 L224.5 372.6 L223.7 373.4 L219.5 386.9 L218.5 392.1 L222.6 399.4 L226.8 403.5 L224.7 410.8 L224.7 419.1 L226.8 424.3 L228.8 432.6 L230.9 440.9 L237.2 445.0 L239.6 448.3 M239.6 448.3 L230.9 452.6 L224.5 456.9 L213.6 459.1 L202.8 461.2 L192.3 464.0 L186.2 464.5 L182.2 462.5 L178.2 461.5 L169.2 462.5 M169.2 462.5 L166.2 458.5 L164.2 452.4 L163.2 445.4 L160.2 440.3 L156.1 436.8 L148.1 436.8 L142.0 436.3 L136.0 433.3 L130.0 430.3 L123.9 426.3 L117.9 423.2 L113.9 418.2 L110.9 410.2 L107.8 404.1 L103.8 400.1 L99.8 395.1 L98.8 388.0 L98.7 381.2 L97.6 374.7 L98.7 370.4 L96.5 368.2 L94.3 359.6 L94.3 353.1 L92.2 349.8 L90.0 344.4 L94.3 333.6 L100.8 327.1 L99.7 325.0 L100.8 318.5 L103.0 305.5 L107.3 299.0 L113.8 292.5 L119.2 286.1 L116.0 281.7 L113.8 273.1 L117.0 265.5 L113.8 264.4 L107.3 262.3 L100.8 260.1 L94.3 255.8 L87.8 253.6 L81.4 252.5 L74.9 247.1 L68.4 240.6 L63.6 236.8 L59.4 230.5 L53.2 224.3 L47.0 218.1 L40.7 211.8 L32.4 205.6 L30.4 199.4 M30.4 199.4 L26.2 199.4 L20.0 198.3 L18.9 195.2 L20.0 186.9 L20.0 180.7 L15.8 176.5 L11.7 172.4 L9.6 166.1 L7.5 162.0 L7.0 161.2 L4.9 154.1 L4.9 147.0 L3.5 141.3 L1.3 138.5 L2.0 132.8 L5.6 130.0 L4.9 125.7 L5.6 122.9 L9.1 121.5 L9.8 117.2 L12.7 111.5 L13.4 113.0 M25.5 108.0 L13.4 108.7 L12.7 111.5" fill="none" stroke="#2a2a2a" stroke-width="1.1" stroke-linejoin="round"/>
<path d="M228.2 100.5 L231.2 99.5 L234.2 101.0 L238.2 104.0 L242.2 106.5 L244.2 109.0 L243.2 112.0 L239.2 112.5 L235.2 110.5 L231.2 109.0 L228.2 105.5Z" fill="#111"/><path d="M234.2 114.0 L237.2 114.5 L241.2 117.0 L245.2 119.5 L246.2 121.5 L242.2 120.0 L237.2 118.0 L233.7 116.0Z" fill="#111"/><path d="M254.2 92.0 L256.7 90.5 L259.7 92.0 L262.2 94.5 L261.7 97.0 L258.2 96.5 L255.2 95.0Z" fill="#111"/><ellipse transform="translate(226.2 99.0) rotate(0.0)" rx="1.0" ry="1.0" fill="#111"/><ellipse transform="translate(227.7 103.5) rotate(0.0)" rx="1.2" ry="1.0" fill="#111"/><ellipse transform="translate(229.2 97.5) rotate(0.0)" rx="0.8" ry="0.8" fill="#111"/><ellipse transform="translate(234.7 98.5) rotate(0.0)" rx="0.9" ry="0.9" fill="#111"/><ellipse transform="translate(246.2 110.0) rotate(0.0)" rx="0.8" ry="0.8" fill="#111"/><ellipse transform="translate(249.7 114.5) rotate(0.0)" rx="0.7" ry="0.7" fill="#111"/><ellipse transform="translate(263.2 100.5) rotate(0.0)" rx="2.0" ry="1.2" fill="#111"/><ellipse transform="translate(259.2 99.5) rotate(0.0)" rx="0.8" ry="0.8" fill="#111"/><ellipse transform="translate(267.7 113.0) rotate(0.0)" rx="1.2" ry="1.5" fill="#111"/><ellipse transform="translate(268.7 132.0) rotate(0.0)" rx="1.0" ry="2.5" fill="#111"/><ellipse transform="translate(267.2 136.0) rotate(0.0)" rx="0.6" ry="1.5" fill="#111"/><ellipse transform="translate(247.7 117.0) rotate(0.0)" rx="0.7" ry="0.7" fill="#111"/><ellipse transform="translate(247.7 73.5) rotate(0.0)" rx="0.8" ry="0.8" fill="#111"/><ellipse transform="translate(251.7 81.5) rotate(0.0)" rx="0.7" ry="0.7" fill="#111"/><ellipse transform="translate(257.7 110.5) rotate(0.0)" rx="0.8" ry="0.8" fill="#111"/><ellipse cx="265.7" cy="109.5" rx="2" ry="1.6" fill="none" stroke="#111" stroke-width="1"/><path d="M228.7 375.5 L231.7 376.0 L233.0 379.0 L232.2 383.0 L229.7 384.0 L228.2 381.0Z" fill="#111"/><path d="M223.2 387.5 L225.7 387.0 L227.7 391.0 L228.2 395.5 L226.2 396.0 L223.7 393.0 L222.7 390.0Z" fill="#9cd070" stroke="#111" stroke-width="1"/><path d="M228.2 411.0 L231.7 410.5 L232.7 413.0 L230.2 416.5 L228.2 415.0Z" fill="none" stroke="#111" stroke-width="1"/><path d="M275.7 460.0 L277.7 460.5 L279.2 464.5 L278.7 467.0 L276.2 466.5 L275.2 463.0Z" fill="none" stroke="#111" stroke-width="1"/><path d="M288.7 470.5 L291.7 469.5 L292.7 472.0 L290.2 473.5Z" fill="none" stroke="#111" stroke-width="1"/><ellipse transform="translate(282.0 472.5) rotate(0.0)" rx="1.5" ry="1.2" fill="#111"/><ellipse transform="translate(316.5 434.6) rotate(0.0)" rx="1.6" ry="0.9" fill="#111"/><ellipse transform="translate(318.2 439.3) rotate(0.0)" rx="0.7" ry="0.7" fill="#111"/><ellipse transform="translate(332.2 438.8) rotate(0.0)" rx="0.9" ry="0.8" fill="#111"/><ellipse transform="translate(334.2 443.0) rotate(0.0)" rx="0.8" ry="0.8" fill="#111"/><ellipse transform="translate(328.0 462.7) rotate(0.0)" rx="0.6" ry="0.6" fill="#111"/><ellipse transform="translate(373.2 433.6) rotate(0.0)" rx="0.6" ry="0.6" fill="#111"/><ellipse transform="translate(376.8 432.6) rotate(0.0)" rx="0.6" ry="0.6" fill="#111"/><ellipse transform="translate(378.2 444.5) rotate(0.0)" rx="0.9" ry="0.8" fill="#111"/><ellipse transform="translate(230.7 402.0) rotate(0.0)" rx="0.6" ry="0.6" fill="#111"/><ellipse transform="translate(229.2 414.0) rotate(0.0)" rx="0.5" ry="0.5" fill="#111"/><path d="M346.2 479.0 L347.2 476.0 L349.2 472.0 L353.4 467.9 L355.5 470.0 L357.2 473.0 L358.6 479.0" fill="none" stroke="#111" stroke-width="1.1"/>
</g>
<rect x="0" y="0" width="381.6" height="480.0" fill="none" stroke="#000" stroke-width="3"/>
<path d="M38.6 480.0 V499.0 M103.6 480.0 V499.0 M168.6 480.0 V499.0 M233.6 480.0 V499.0 M298.6 480.0 V499.0 M363.6 480.0 V499.0 M0 53.0 H-18 M0 117.9 H-18 M0 182.8 H-18 M0 247.7 H-18 M0 312.6 H-18 M0 377.5 H-18 M0 442.4 H-18" stroke="#000" stroke-width="3" fill="none"/>
<text x="190.8" y="-25.1" text-anchor="middle" font-family="'Liberation Sans', Arial, Helvetica, sans-serif" font-size="38">VIC</text>
<text x="-20.0" y="-13.4" font-family="'Liberation Sans', Arial, Helvetica, sans-serif" font-size="35.5" font-weight="bold">B</text>
</g>
<g transform="translate(1029.30 58.00)">
<g clip-path="url(#frm)">
<g clip-path="url(#dom)"><g filter="url(#bl3)"><path d="M-19.2 -7.7 L392.1 -7.7 L392.1 489.3 L-19.2 489.3Z" fill="#b4d68a"/><path d="M-6.6 83.0 L13.4 83.0 L20.2 84.5 L27.2 85.5 L33.2 87.0 L39.2 87.5 L46.2 86.5 L53.2 87.0 L61.2 88.0 L67.7 90.0 L75.2 93.0 L81.2 96.4 L88.2 96.4 L95.2 94.5 L102.2 91.5 L109.2 91.5 L111.2 92.5 L121.6 93.4 L128.5 89.0 L137.2 84.0 L142.2 75.0 L147.5 71.8 L159.6 70.9 L168.2 69.2 L176.9 67.5 L183.9 64.9 L187.2 58.0 L190.8 52.8 L194.2 49.3 L195.1 49.0 L199.2 51.0 L204.4 53.7 L206.0 50.5 L209.1 49.0 L213.0 49.0 L215.3 50.5 L218.4 55.2 L220.0 58.0 L240.0 58.0 L240.0 95.0 L220.0 95.0 L218.4 92.2 L215.3 87.5 L213.0 86.0 L209.1 86.0 L206.0 87.5 L204.4 90.7 L199.2 88.0 L195.1 86.0 L194.2 86.3 L190.8 89.8 L187.2 95.0 L183.9 101.9 L176.9 104.5 L168.2 106.2 L159.6 107.9 L147.5 108.8 L142.2 112.0 L137.2 121.0 L128.5 126.0 L121.6 130.4 L111.2 129.5 L109.2 128.5 L102.2 128.5 L95.2 131.5 L88.2 133.4 L81.2 133.4 L75.2 130.0 L67.7 127.0 L61.2 125.0 L53.2 124.0 L46.2 123.5 L39.2 124.5 L33.2 124.0 L27.2 122.5 L20.2 121.5 L13.4 120.0 L-6.6 120.0Z" fill="#c6ad84"/><path d="M-6.6 120.0 L13.4 120.0 L20.2 121.5 L27.2 122.5 L33.2 124.0 L39.2 124.5 L46.2 123.5 L53.2 124.0 L61.2 125.0 L67.7 127.0 L75.2 130.0 L81.2 133.4 L88.2 133.4 L95.2 131.5 L102.2 128.5 L109.2 128.5 L111.2 129.5 L121.6 130.4 L128.5 126.0 L137.2 121.0 L142.2 112.0 L147.5 108.8 L159.6 107.9 L168.2 106.2 L176.9 104.5 L183.9 101.9 L187.2 95.0 L190.8 89.8 L194.2 86.3 L195.1 86.0 L199.2 88.0 L204.4 90.7 L206.0 87.5 L209.1 86.0 L213.0 86.0 L215.3 87.5 L218.4 92.2 L220.0 95.0 L240.0 95.0 L240.0 103.0 L220.0 103.0 L218.4 100.2 L215.3 95.5 L213.0 94.0 L209.1 94.0 L206.0 95.5 L204.4 98.7 L199.2 96.0 L195.1 94.0 L194.2 94.3 L190.8 97.8 L187.2 103.0 L183.9 109.9 L176.9 112.5 L168.2 114.2 L159.6 115.9 L147.5 116.8 L142.2 120.0 L137.2 129.0 L128.5 134.0 L121.6 138.4 L111.2 137.5 L109.2 136.5 L102.2 136.5 L95.2 139.5 L88.2 141.4 L81.2 141.4 L75.2 138.0 L67.7 135.0 L61.2 133.0 L53.2 132.0 L46.2 131.5 L39.2 132.5 L33.2 132.0 L27.2 130.5 L20.2 129.5 L13.4 128.0 L-6.6 128.0Z" fill="#d5c19c"/><path d="M-6.6 128.0 L13.4 128.0 L20.2 129.5 L27.2 130.5 L33.2 132.0 L39.2 132.5 L46.2 131.5 L53.2 132.0 L61.2 133.0 L67.7 135.0 L75.2 138.0 L81.2 141.4 L88.2 141.4 L95.2 139.5 L102.2 136.5 L109.2 136.5 L111.2 137.5 L121.6 138.4 L128.5 134.0 L137.2 129.0 L142.2 120.0 L147.5 116.8 L159.6 115.9 L168.2 114.2 L176.9 112.5 L183.9 109.9 L187.2 103.0 L190.8 97.8 L194.2 94.3 L195.1 94.0 L199.2 96.0 L204.4 98.7 L206.0 95.5 L209.1 94.0 L213.0 94.0 L215.3 95.5 L218.4 100.2 L220.0 103.0 L240.0 103.0 L240.0 115.0 L220.0 115.0 L218.4 112.2 L215.3 107.5 L213.0 106.0 L209.1 106.0 L206.0 107.5 L204.4 110.7 L199.2 108.0 L195.1 106.0 L194.2 106.3 L190.8 109.8 L187.2 115.0 L183.9 121.9 L176.9 124.5 L168.2 126.2 L159.6 127.9 L147.5 128.8 L142.2 132.0 L137.2 141.0 L128.5 146.0 L121.6 150.4 L111.2 149.5 L109.2 148.5 L102.2 148.5 L95.2 151.5 L88.2 153.4 L81.2 153.4 L75.2 150.0 L67.7 147.0 L61.2 145.0 L53.2 144.0 L46.2 143.5 L39.2 144.5 L33.2 144.0 L27.2 142.5 L20.2 141.5 L13.4 140.0 L-6.6 140.0Z" fill="#e7d9be"/><path d="M-6.6 140.0 L13.4 140.0 L20.2 141.5 L27.2 142.5 L33.2 144.0 L39.2 144.5 L46.2 143.5 L53.2 144.0 L61.2 145.0 L67.7 147.0 L75.2 150.0 L81.2 153.4 L88.2 153.4 L95.2 151.5 L102.2 148.5 L109.2 148.5 L111.2 149.5 L121.6 150.4 L128.5 146.0 L137.2 141.0 L142.2 132.0 L147.5 128.8 L159.6 127.9 L168.2 126.2 L176.9 124.5 L183.9 121.9 L187.2 115.0 L190.8 109.8 L194.2 106.3 L195.1 106.0 L199.2 108.0 L204.4 110.7 L206.0 107.5 L209.1 106.0 L213.0 106.0 L215.3 107.5 L218.4 112.2 L220.0 115.0 L240.0 115.0 L240.0 130.0 L220.0 130.0 L218.4 127.2 L215.3 122.5 L213.0 121.0 L209.1 121.0 L206.0 122.5 L204.4 125.7 L199.2 123.0 L195.1 121.0 L194.2 121.3 L190.8 124.8 L187.2 130.0 L183.9 136.9 L176.9 139.5 L168.2 141.2 L159.6 142.9 L147.5 143.8 L142.2 147.0 L137.2 156.0 L128.5 161.0 L121.6 165.4 L111.2 164.5 L109.2 163.5 L102.2 163.5 L95.2 166.5 L88.2 168.4 L81.2 168.4 L75.2 165.0 L67.7 162.0 L61.2 160.0 L53.2 159.0 L46.2 158.5 L39.2 159.5 L33.2 159.0 L27.2 157.5 L20.2 156.5 L13.4 155.0 L-6.6 155.0Z" fill="#e6ebd2"/><path d="M-6.6 155.0 L13.4 155.0 L20.2 156.5 L27.2 157.5 L33.2 159.0 L39.2 159.5 L46.2 158.5 L53.2 159.0 L61.2 160.0 L67.7 162.0 L75.2 165.0 L81.2 168.4 L88.2 168.4 L95.2 166.5 L102.2 163.5 L109.2 163.5 L111.2 164.5 L121.6 165.4 L128.5 161.0 L137.2 156.0 L142.2 147.0 L147.5 143.8 L159.6 142.9 L168.2 141.2 L176.9 139.5 L183.9 136.9 L187.2 130.0 L190.8 124.8 L194.2 121.3 L195.1 121.0 L199.2 123.0 L204.4 125.7 L206.0 122.5 L209.1 121.0 L213.0 121.0 L215.3 122.5 L218.4 127.2 L220.0 130.0 L240.0 130.0 L240.0 148.0 L220.0 148.0 L218.4 145.2 L215.3 140.5 L213.0 139.0 L209.1 139.0 L206.0 140.5 L204.4 143.7 L199.2 141.0 L195.1 139.0 L194.2 139.3 L190.8 142.8 L187.2 148.0 L183.9 154.9 L176.9 157.5 L168.2 159.2 L159.6 160.9 L147.5 161.8 L142.2 165.0 L137.2 174.0 L128.5 179.0 L121.6 183.4 L111.2 182.5 L109.2 181.5 L102.2 181.5 L95.2 184.5 L88.2 186.4 L81.2 186.4 L75.2 183.0 L67.7 180.0 L61.2 178.0 L53.2 177.0 L46.2 176.5 L39.2 177.5 L33.2 177.0 L27.2 175.5 L20.2 174.5 L13.4 173.0 L-6.6 173.0Z" fill="#d6e7c0"/></g><g filter="url(#bl6)"><ellipse transform="translate(23.6 150.8) rotate(0.0)" rx="19.3" ry="25.7" fill="#bcdd94"/><ellipse transform="translate(105.1 163.7) rotate(0.0)" rx="64.3" ry="17.1" fill="#dce9c6"/><ellipse transform="translate(160.7 163.7) rotate(0.0)" rx="17.1" ry="21.4" fill="#c8e2a4"/><path d="M36.5 180.8 L152.2 180.8 L169.3 215.1 L160.7 249.4 L109.3 257.9 L45.1 215.1Z" fill="#a0cc5e"/><path d="M32.2 198.0 L92.2 223.7 L122.2 249.4 L122.2 266.5 L83.6 257.9 L49.4 232.2Z" fill="#5aa646"/><ellipse transform="translate(152.2 232.2) rotate(0.0)" rx="15.0" ry="19.3" fill="#5aaa44"/><path d="M186.5 82.3 L220.7 90.8 L280.7 150.8 L289.3 172.2 L259.3 176.5 L237.9 163.7 L220.7 129.4 L190.7 120.8Z" fill="#d7c4a0"/><ellipse transform="translate(202.7 117.8) rotate(0.0)" rx="12.0" ry="6.9" fill="#d2e4b8"/><path d="M229.3 198.0 L280.7 185.1 L336.4 208.7 L306.4 249.4 L255.0 262.2 L229.3 249.4Z" fill="#ece0c8"/><path d="M272.1 163.7 L375.0 159.4 L366.4 215.1 L345.0 249.4 L310.7 270.8 L306.4 232.2 L323.6 206.5 L280.7 193.7Z" fill="#cdb48c"/><path d="M246.4 257.9 L306.4 257.9 L280.7 300.8 L255.0 335.1 L237.9 292.2Z" fill="#dce8c8"/><path d="M160.7 257.9 L237.9 257.9 L237.9 317.9 L203.6 317.9 L169.3 292.2Z" fill="#d6c09c"/><ellipse transform="translate(225.0 335.1) rotate(0.0)" rx="17.1" ry="25.7" fill="#d8e6c4"/><path d="M113.6 266.5 L165.0 262.2 L169.3 317.9 L152.2 326.5 L109.3 322.2Z" fill="#4a983e"/><path d="M96.5 343.6 L216.4 347.9 L237.9 455.0 L165.0 463.6 L109.3 420.7Z" fill="#94c864"/><ellipse transform="translate(175.7 390.8) rotate(0.0)" rx="25.7" ry="21.4" fill="#d8e8c6"/><ellipse transform="translate(122.2 369.3) rotate(0.0)" rx="21.4" ry="25.7" fill="#5aaa44"/><ellipse transform="translate(195.0 433.6) rotate(0.0)" rx="38.6" ry="19.3" fill="#6cb448"/></g><g clip-path="url(#cETH)"><g filter="url(#bl6)"><ellipse transform="translate(242.2 172.2) rotate(0.0)" rx="21.4" ry="38.6" fill="#d4e6be"/><ellipse transform="translate(190.7 185.1) rotate(0.0)" rx="38.6" ry="60.0" fill="#6cb448"/><ellipse transform="translate(242.2 213.0) rotate(-20.0)" rx="25.7" ry="12.9" fill="#5aaa44"/></g></g><g clip-path="url(#cETH)"><g filter="url(#bl3)"><ellipse transform="translate(186.5 198.0) rotate(0.0)" rx="19.3" ry="34.3" fill="#2e6e2e"/><ellipse transform="translate(184.3 210.8) rotate(0.0)" rx="12.9" ry="19.3" fill="#24582a"/><ellipse transform="translate(203.6 159.4) rotate(0.0)" rx="12.9" ry="17.1" fill="#3a8a3a"/></g></g><g filter="url(#bl3)"><path d="M34.4 200.1 L66.5 215.1 L105.1 236.5 L126.5 264.4 L87.9 257.9 L53.6 232.2Z" fill="#2f7a32"/><ellipse transform="translate(237.9 206.5) rotate(-25.0)" rx="25.7" ry="7.7" fill="#5ab046"/><path d="M115.8 266.5 L152.2 266.5 L165.0 292.2 L160.7 309.4 L135.0 309.4 L115.8 292.2Z" fill="#2e7430"/><ellipse transform="translate(171.5 309.4) rotate(0.0)" rx="10.7" ry="15.0" fill="#1f4f24"/><ellipse transform="translate(203.6 312.8) rotate(0.0)" rx="5.1" ry="5.1" fill="#2a6a2c"/><path d="M90.1 332.9 L111.5 330.8 L113.6 365.1 L98.6 369.3 L90.1 352.2Z" fill="#3a8a38"/><ellipse transform="translate(186.5 429.3) rotate(0.0)" rx="15.0" ry="15.0" fill="#2e7430"/></g><path d="M237.2 130.0 L242.2 128.0 L247.2 132.0 L248.2 139.0 L243.2 142.0 L238.2 138.0Z" fill="#ffffff"/><ellipse transform="translate(264.2 163.5) rotate(0.0)" rx="2.0" ry="1.5" fill="#ffffff"/><path d="M128.2 314.0 L137.2 311.0 L147.2 312.0 L154.2 314.0 L155.2 325.0 L152.2 334.0 L147.2 338.0 L141.2 340.0 L135.2 346.0 L129.2 346.0 L126.2 340.0 L128.2 332.0 L125.2 324.0Z" fill="#ffffff"/><ellipse transform="translate(198.7 156.5) rotate(0.0)" rx="3.0" ry="2.5" fill="#ffffff"/><path d="M181.2 256.0 L185.2 256.0 L188.2 262.0 L187.2 269.0 L186.2 276.0 L184.2 280.0 L182.2 279.0 L181.2 270.0 L179.7 262.0Z" fill="#ffffff"/><path d="M125.2 416.0 L127.2 414.0 L134.2 422.0 L136.2 427.0 L133.2 426.0Z" fill="#ffffff"/><ellipse transform="translate(338.2 199.0) rotate(-10.0)" rx="9.0" ry="5.0" fill="#ffffff"/><ellipse transform="translate(360.2 178.0) rotate(0.0)" rx="6.0" ry="6.0" fill="#ffffff"/></g>
<path d="M38.7 0.0 L38.7 52.6 M38.7 52.6 L25.5 52.6 L25.5 108.0 M1.3 47.0 L25.5 59.0 M1.2 170.5 L7.7 170.5 M38.7 27.2 L145.2 27.2 L147.6 29.1 L149.9 30.3 L155.3 30.3 L156.9 27.6 L157.7 24.9 L159.2 23.7 L163.9 22.9 L165.5 21.4 L167.8 16.7 L169.4 15.9 L171.7 16.3 L174.8 13.6 L177.2 11.6 M177.2 11.6 L175.6 8.9 L174.4 5.8 L174.8 2.7 L174.8 0.0 M177.2 11.6 L177.9 15.1 L181.0 17.5 L184.2 18.2 L187.3 21.4 L192.7 26.0 L193.5 29.1 L195.1 33.8 L198.2 38.5 L197.4 43.2 L197.0 48.6 L197.4 56.4 L198.9 62.6 L201.3 68.9 L205.2 71.2 L209.1 75.1 L213.7 77.4 L215.3 79.8 L217.6 83.7 L220.0 88.0 M208.2 0.0 L209.8 1.1 L213.7 4.2 L216.1 8.9 L219.2 13.6 L221.5 19.0 L221.5 22.9 L220.0 27.6 L221.5 31.5 L222.3 36.9 L224.6 40.8 L228.5 46.3 L230.9 49.0 L234.8 50.2 L240.2 54.1 L243.3 57.2 L246.4 61.9 L248.8 66.5 L250.3 71.2 L251.9 72.0 L253.8 76.8 L257.4 80.5 L262.2 84.7 L264.7 87.7 L267.1 91.4 L268.9 95.0 L269.5 98.0 L270.1 101.1 L269.5 105.9 L268.9 109.6 L269.5 113.2 L270.7 118.0 L271.9 122.9 L273.1 127.7 L274.3 132.6 L275.6 137.4 L276.2 142.0 L276.5 144.8 L277.5 146.9 L284.8 147.9 L291.0 146.9 L297.3 146.9 L303.5 142.8 L308.7 139.6 L315.9 138.6 L322.2 136.5 L328.4 134.5 L334.6 131.3 L340.8 129.3 L347.1 127.2 L353.3 124.1 L356.4 122.0 L361.8 119.4 L372.2 116.3 L381.2 115.0 M269.5 99.9 L273.7 96.2 L275.6 91.4 L275.6 85.9 L278.0 84.7 L281.6 86.5 L286.2 86.5 L297.5 86.2 L309.9 87.2 L322.4 89.3 L326.5 91.3 L330.7 87.2 L339.0 76.8 L347.3 72.7 L359.7 69.5 L372.2 68.5 L381.2 67.5 M220.0 88.0 L214.5 79.8 L213.0 82.1 L209.1 83.7 L205.2 85.2 L201.3 87.5 L196.0 90.5 L194.2 96.6 L192.5 103.5 L190.8 112.2 L189.0 119.1 L188.2 126.9 M188.2 126.9 L194.2 126.0 L197.7 125.1 L201.2 127.7 L203.7 124.3 L205.5 119.9 L208.1 121.7 L211.5 124.3 L216.7 122.5 L220.2 124.3 L223.6 123.4 L228.8 124.3 L235.7 125.1 L241.2 127.2 L245.4 129.3 L248.5 133.4 L252.6 138.6 L256.8 142.8 L260.9 146.9 L264.0 151.1 M264.0 151.1 L260.9 156.3 L257.8 160.4 L257.3 165.6 L256.8 169.7 L262.0 169.7 L268.2 169.2 L271.3 170.8 L273.4 166.6 L275.5 163.5 M271.3 170.8 L269.2 173.9 L271.3 180.1 L274.4 184.3 L277.5 189.5 L280.6 192.6 L285.8 195.7 L293.1 198.8 L301.4 201.9 L308.7 205.0 L313.9 207.1 L324.2 208.7 L336.7 208.7 L332.5 213.3 L326.3 219.6 L320.1 225.8 L313.9 232.0 L307.6 238.3 L306.6 240.7 L299.1 248.2 L291.2 248.1 L284.9 248.1 L278.7 250.2 L273.5 252.8 L270.4 256.9 L263.1 258.0 L260.0 258.5 L257.9 261.6 M188.2 126.9 L187.3 134.7 L185.6 143.3 L182.1 147.6 L176.9 150.2 L173.5 155.4 L170.0 162.3 L166.6 169.2 L163.1 172.7 L159.6 176.2 L157.9 183.1 L157.0 190.0 M30.4 199.4 L34.5 188.2 L40.7 178.6 L49.0 177.5 L53.2 182.7 L59.4 189.0 L67.7 188.0 L76.0 188.0 L76.5 180.7 L90.6 180.7 L91.0 187.0 L96.8 182.8 L103.0 179.0 L109.3 182.8 L115.5 187.0 L123.8 180.7 L130.0 172.4 L132.1 166.1 L132.1 157.8 L138.4 157.8 L139.4 153.7 L146.7 154.7 L147.1 170.3 L152.9 178.6 L156.0 182.8 L157.0 190.0 M157.0 190.0 L156.2 200.4 L145.8 203.8 L143.2 209.0 L145.8 212.5 L152.7 214.2 L157.9 217.7 L163.1 222.9 L166.6 228.1 L170.0 235.0 L171.7 241.9 M171.7 241.9 L176.9 242.8 L179.5 245.4 L180.4 252.3 L183.9 254.0 L192.8 257.7 L201.2 260.5 L211.2 265.5 L214.8 265.2 L219.0 267.3 L223.7 267.6 L227.3 267.8 L232.5 262.1 L235.6 260.3 L240.3 258.5 L243.9 257.4 L249.1 261.3 L256.9 261.3 L257.9 261.6 M171.7 241.9 L168.3 245.4 L163.1 248.8 L157.9 254.0 L157.0 258.0 M117.0 265.5 L120.3 264.4 L128.9 263.4 L137.6 262.3 L146.2 260.1 L154.9 259.0 L157.0 258.0 M157.0 258.0 L158.7 261.0 L162.3 269.1 L168.0 280.5 L169.0 288.2 L166.2 295.8 L162.3 301.5 L156.6 307.2 L155.7 309.0 L155.7 325.4 M155.7 325.4 L112.7 325.4 L107.3 327.1 L100.8 327.1 M112.7 325.4 L114.9 331.5 L114.9 340.1 L112.7 343.4 L104.0 344.4 L94.3 348.8 L90.0 344.4 M112.7 343.4 L114.9 349.8 L113.8 356.3 L108.4 362.8 L103.0 367.1 L98.7 370.4 M155.7 325.4 L200.4 351.0 L204.2 355.7 L223.4 372.6 M253.7 332.0 L248.0 324.3 L246.5 309.0 L246.5 292.0 L246.5 276.1 L251.7 270.9 L255.3 265.2 L257.9 261.6 M1.2 259.0 L7.8 252.5 L16.5 250.4 L25.1 248.2 L31.6 247.1 L38.1 246.1 L43.5 243.9 L51.1 245.0 L59.7 245.0 L68.4 242.5 M113.9 419.7 L109.8 419.7 L99.8 420.7 L91.7 422.2 L89.7 426.3 L86.7 430.3 L83.2 432.3 L84.7 435.3 L85.7 442.4 L85.2 448.4 L84.2 454.4 L83.2 462.5 L85.7 467.5 L89.7 471.5 L93.8 473.5 L96.8 473.0 L97.3 471.0 L101.3 470.5 L101.6 478.0 M142.5 436.8 L146.1 439.3 L149.1 444.4 L151.1 450.4 L147.1 454.4 L147.1 460.5 L146.1 467.5 L148.1 472.5 L145.1 476.6 L143.1 478.0 M169.2 462.5 L164.2 462.5 L162.2 468.5 L162.2 478.0 M1.2 440.3 L3.7 444.4 L4.2 450.4 L3.2 456.4 L5.2 457.4 L11.3 456.4 L18.3 454.4 L25.4 454.4 L29.4 456.4 L30.4 460.5 L35.4 459.5 L41.4 458.5 L42.5 460.5 L43.5 464.5 L49.5 466.5 L55.5 467.5 L61.6 467.0 L65.6 464.5 L67.6 463.5 L69.6 467.5 L71.6 470.5 L75.7 471.5 L79.7 473.5 L83.7 475.5 L84.7 478.0 M26.2 454.4 L25.9 462.5 L26.4 472.5 L25.4 478.0 M239.6 448.3 L241.3 455.4 L240.2 465.8 L241.3 478.0 M220.0 88.0 L220.2 94.9 L225.4 103.5 L230.6 110.4 L235.7 115.6 L242.7 120.8 L247.4 122.0 L251.6 126.2 L256.8 131.3 L262.0 135.5 L266.1 140.7 L269.2 143.8 L272.3 146.9 L275.5 149.0 L277.5 152.1 L278.0 155.2 L276.5 157.3 L274.4 158.8 L271.3 159.4 L268.2 161.4 L266.1 163.0 L268.2 164.6 L272.3 163.5 L275.5 163.5 L278.6 165.6 L281.7 169.7 L284.8 173.9 L288.9 177.0 L295.2 177.0 L299.3 176.0 L303.5 173.9 L308.7 171.8 L313.9 172.9 L319.1 171.8 L324.2 169.7 L328.4 167.7 L332.5 167.7 L336.7 166.6 L340.8 165.6 L345.0 165.6 L350.2 164.6 L355.4 163.5 L360.6 162.5 L365.8 161.4 L369.9 160.4 L372.0 158.3 L375.1 157.3 L379.3 158.3 L380.3 161.4 L379.8 165.6 L378.2 169.7 L377.7 176.0 L377.2 178.1 L375.1 182.2 L373.0 188.4 L370.9 194.7 L367.8 200.9 L364.7 206.1 L361.6 210.2 L359.5 215.4 L356.4 221.6 L353.3 226.8 L350.2 233.1 L345.6 240.7 L336.9 253.6 L328.3 264.4 L317.4 275.3 L306.6 283.9 L295.8 290.4 L285.0 299.0 L274.2 309.9 L265.5 318.5 L256.9 327.2 L252.6 333.6 L246.1 340.1 L239.6 344.5 L235.3 350.9 L233.1 357.4 L229.9 363.9 L224.5 372.6 L223.7 373.4 L219.5 386.9 L218.5 392.1 L222.6 399.4 L226.8 403.5 L224.7 410.8 L224.7 419.1 L226.8 424.3 L228.8 432.6 L230.9 440.9 L237.2 445.0 L239.6 448.3 M239.6 448.3 L230.9 452.6 L224.5 456.9 L213.6 459.1 L202.8 461.2 L192.3 464.0 L186.2 464.5 L182.2 462.5 L178.2 461.5 L169.2 462.5 M169.2 462.5 L166.2 458.5 L164.2 452.4 L163.2 445.4 L160.2 440.3 L156.1 436.8 L148.1 436.8 L142.0 436.3 L136.0 433.3 L130.0 430.3 L123.9 426.3 L117.9 423.2 L113.9 418.2 L110.9 410.2 L107.8 404.1 L103.8 400.1 L99.8 395.1 L98.8 388.0 L98.7 381.2 L97.6 374.7 L98.7 370.4 L96.5 368.2 L94.3 359.6 L94.3 353.1 L92.2 349.8 L90.0 344.4 L94.3 333.6 L100.8 327.1 L99.7 325.0 L100.8 318.5 L103.0 305.5 L107.3 299.0 L113.8 292.5 L119.2 286.1 L116.0 281.7 L113.8 273.1 L117.0 265.5 L113.8 264.4 L107.3 262.3 L100.8 260.1 L94.3 255.8 L87.8 253.6 L81.4 252.5 L74.9 247.1 L68.4 240.6 L63.6 236.8 L59.4 230.5 L53.2 224.3 L47.0 218.1 L40.7 211.8 L32.4 205.6 L30.4 199.4 M30.4 199.4 L26.2 199.4 L20.0 198.3 L18.9 195.2 L20.0 186.9 L20.0 180.7 L15.8 176.5 L11.7 172.4 L9.6 166.1 L7.5 162.0 L7.0 161.2 L4.9 154.1 L4.9 147.0 L3.5 141.3 L1.3 138.5 L2.0 132.8 L5.6 130.0 L4.9 125.7 L5.6 122.9 L9.1 121.5 L9.8 117.2 L12.7 111.5 L13.4 113.0 M25.5 108.0 L13.4 108.7 L12.7 111.5" fill="none" stroke="#2a2a2a" stroke-width="1.1" stroke-linejoin="round"/>
<path d="M228.2 100.5 L231.2 99.5 L234.2 101.0 L238.2 104.0 L242.2 106.5 L244.2 109.0 L243.2 112.0 L239.2 112.5 L235.2 110.5 L231.2 109.0 L228.2 105.5Z" fill="#111"/><path d="M234.2 114.0 L237.2 114.5 L241.2 117.0 L245.2 119.5 L246.2 121.5 L242.2 120.0 L237.2 118.0 L233.7 116.0Z" fill="#111"/><path d="M254.2 92.0 L256.7 90.5 L259.7 92.0 L262.2 94.5 L261.7 97.0 L258.2 96.5 L255.2 95.0Z" fill="#111"/><ellipse transform="translate(226.2 99.0) rotate(0.0)" rx="1.0" ry="1.0" fill="#111"/><ellipse transform="translate(227.7 103.5) rotate(0.0)" rx="1.2" ry="1.0" fill="#111"/><ellipse transform="translate(229.2 97.5) rotate(0.0)" rx="0.8" ry="0.8" fill="#111"/><ellipse transform="translate(234.7 98.5) rotate(0.0)" rx="0.9" ry="0.9" fill="#111"/><ellipse transform="translate(246.2 110.0) rotate(0.0)" rx="0.8" ry="0.8" fill="#111"/><ellipse transform="translate(249.7 114.5) rotate(0.0)" rx="0.7" ry="0.7" fill="#111"/><ellipse transform="translate(263.2 100.5) rotate(0.0)" rx="2.0" ry="1.2" fill="#111"/><ellipse transform="translate(259.2 99.5) rotate(0.0)" rx="0.8" ry="0.8" fill="#111"/><ellipse transform="translate(267.7 113.0) rotate(0.0)" rx="1.2" ry="1.5" fill="#111"/><ellipse transform="translate(268.7 132.0) rotate(0.0)" rx="1.0" ry="2.5" fill="#111"/><ellipse transform="translate(267.2 136.0) rotate(0.0)" rx="0.6" ry="1.5" fill="#111"/><ellipse transform="translate(247.7 117.0) rotate(0.0)" rx="0.7" ry="0.7" fill="#111"/><ellipse transform="translate(247.7 73.5) rotate(0.0)" rx="0.8" ry="0.8" fill="#111"/><ellipse transform="translate(251.7 81.5) rotate(0.0)" rx="0.7" ry="0.7" fill="#111"/><ellipse transform="translate(257.7 110.5) rotate(0.0)" rx="0.8" ry="0.8" fill="#111"/><ellipse cx="265.7" cy="109.5" rx="2" ry="1.6" fill="none" stroke="#111" stroke-width="1"/><path d="M228.7 375.5 L231.7 376.0 L233.0 379.0 L232.2 383.0 L229.7 384.0 L228.2 381.0Z" fill="#111"/><path d="M223.2 387.5 L225.7 387.0 L227.7 391.0 L228.2 395.5 L226.2 396.0 L223.7 393.0 L222.7 390.0Z" fill="#9cd070" stroke="#111" stroke-width="1"/><path d="M228.2 411.0 L231.7 410.5 L232.7 413.0 L230.2 416.5 L228.2 415.0Z" fill="none" stroke="#111" stroke-width="1"/><path d="M275.7 460.0 L277.7 460.5 L279.2 464.5 L278.7 467.0 L276.2 466.5 L275.2 463.0Z" fill="none" stroke="#111" stroke-width="1"/><path d="M288.7 470.5 L291.7 469.5 L292.7 472.0 L290.2 473.5Z" fill="none" stroke="#111" stroke-width="1"/><ellipse transform="translate(282.0 472.5) rotate(0.0)" rx="1.5" ry="1.2" fill="#111"/><ellipse transform="translate(316.5 434.6) rotate(0.0)" rx="1.6" ry="0.9" fill="#111"/><ellipse transform="translate(318.2 439.3) rotate(0.0)" rx="0.7" ry="0.7" fill="#111"/><ellipse transform="translate(332.2 438.8) rotate(0.0)" rx="0.9" ry="0.8" fill="#111"/><ellipse transform="translate(334.2 443.0) rotate(0.0)" rx="0.8" ry="0.8" fill="#111"/><ellipse transform="translate(328.0 462.7) rotate(0.0)" rx="0.6" ry="0.6" fill="#111"/><ellipse transform="translate(373.2 433.6) rotate(0.0)" rx="0.6" ry="0.6" fill="#111"/><ellipse transform="translate(376.8 432.6) rotate(0.0)" rx="0.6" ry="0.6" fill="#111"/><ellipse transform="translate(378.2 444.5) rotate(0.0)" rx="0.9" ry="0.8" fill="#111"/><ellipse transform="translate(230.7 402.0) rotate(0.0)" rx="0.6" ry="0.6" fill="#111"/><ellipse transform="translate(229.2 414.0) rotate(0.0)" rx="0.5" ry="0.5" fill="#111"/><path d="M346.2 479.0 L347.2 476.0 L349.2 472.0 L353.4 467.9 L355.5 470.0 L357.2 473.0 L358.6 479.0" fill="none" stroke="#111" stroke-width="1.1"/>
</g>
<rect x="0" y="0" width="381.6" height="480.0" fill="none" stroke="#000" stroke-width="3"/>
<path d="M38.6 480.0 V499.0 M103.6 480.0 V499.0 M168.6 480.0 V499.0 M233.6 480.0 V499.0 M298.6 480.0 V499.0 M363.6 480.0 V499.0 M0 53.0 H-18 M0 117.9 H-18 M0 182.8 H-18 M0 247.7 H-18 M0 312.6 H-18 M0 377.5 H-18 M0 442.4 H-18" stroke="#000" stroke-width="3" fill="none"/>
<text x="190.8" y="-25.1" text-anchor="middle" font-family="'Liberation Sans', Arial, Helvetica, sans-serif" font-size="38">CLSM</text>
<text x="-21.7" y="-13.4" font-family="'Liberation Sans', Arial, Helvetica, sans-serif" font-size="35.5" font-weight="bold">C</text>
</g>
<g transform="translate(1479.55 58.00)">
<g clip-path="url(#frm)">
<g clip-path="url(#domD)"><g filter="url(#bl3)"><path d="M-19.2 -7.7 L392.1 -7.7 L392.1 489.3 L-19.2 489.3Z" fill="#7cbc50"/><path d="M-6.6 83.0 L13.4 83.0 L20.2 84.5 L27.2 85.5 L33.2 87.0 L39.2 87.5 L46.2 86.5 L53.2 87.0 L61.2 88.0 L67.7 90.0 L75.2 93.0 L81.2 96.4 L88.2 96.4 L95.2 94.5 L102.2 91.5 L109.2 91.5 L111.2 92.5 L121.6 93.4 L128.5 89.0 L137.2 84.0 L142.2 75.0 L147.5 71.8 L159.6 70.9 L168.2 69.2 L176.9 67.5 L183.9 64.9 L187.2 58.0 L190.8 52.8 L194.2 49.3 L195.1 49.0 L199.2 51.0 L204.4 53.7 L206.0 50.5 L209.1 49.0 L213.0 49.0 L215.3 50.5 L218.4 55.2 L220.0 58.0 L240.0 58.0 L240.0 93.0 L220.0 93.0 L218.4 90.2 L215.3 85.5 L213.0 84.0 L209.1 84.0 L206.0 85.5 L204.4 88.7 L199.2 86.0 L195.1 84.0 L194.2 84.3 L190.8 87.8 L187.2 93.0 L183.9 99.9 L176.9 102.5 L168.2 104.2 L159.6 105.9 L147.5 106.8 L142.2 110.0 L137.2 119.0 L128.5 124.0 L121.6 128.4 L111.2 127.5 L109.2 126.5 L102.2 126.5 L95.2 129.5 L88.2 131.4 L81.2 131.4 L75.2 128.0 L67.7 125.0 L61.2 123.0 L53.2 122.0 L46.2 121.5 L39.2 122.5 L33.2 122.0 L27.2 120.5 L20.2 119.5 L13.4 118.0 L-6.6 118.0Z" fill="#d4c09c"/><path d="M-6.6 118.0 L13.4 118.0 L20.2 119.5 L27.2 120.5 L33.2 122.0 L39.2 122.5 L46.2 121.5 L53.2 122.0 L61.2 123.0 L67.7 125.0 L75.2 128.0 L81.2 131.4 L88.2 131.4 L95.2 129.5 L102.2 126.5 L109.2 126.5 L111.2 127.5 L121.6 128.4 L128.5 124.0 L137.2 119.0 L142.2 110.0 L147.5 106.8 L159.6 105.9 L168.2 104.2 L176.9 102.5 L183.9 99.9 L187.2 93.0 L190.8 87.8 L194.2 84.3 L195.1 84.0 L199.2 86.0 L204.4 88.7 L206.0 85.5 L209.1 84.0 L213.0 84.0 L215.3 85.5 L218.4 90.2 L220.0 93.0 L240.0 93.0 L240.0 102.0 L220.0 102.0 L218.4 99.2 L215.3 94.5 L213.0 93.0 L209.1 93.0 L206.0 94.5 L204.4 97.7 L199.2 95.0 L195.1 93.0 L194.2 93.3 L190.8 96.8 L187.2 102.0 L183.9 108.9 L176.9 111.5 L168.2 113.2 L159.6 114.9 L147.5 115.8 L142.2 119.0 L137.2 128.0 L128.5 133.0 L121.6 137.4 L111.2 136.5 L109.2 135.5 L102.2 135.5 L95.2 138.5 L88.2 140.4 L81.2 140.4 L75.2 137.0 L67.7 134.0 L61.2 132.0 L53.2 131.0 L46.2 130.5 L39.2 131.5 L33.2 131.0 L27.2 129.5 L20.2 128.5 L13.4 127.0 L-6.6 127.0Z" fill="#e6dcc4"/><path d="M-6.6 127.0 L13.4 127.0 L20.2 128.5 L27.2 129.5 L33.2 131.0 L39.2 131.5 L46.2 130.5 L53.2 131.0 L61.2 132.0 L67.7 134.0 L75.2 137.0 L81.2 140.4 L88.2 140.4 L95.2 138.5 L102.2 135.5 L109.2 135.5 L111.2 136.5 L121.6 137.4 L128.5 133.0 L137.2 128.0 L142.2 119.0 L147.5 115.8 L159.6 114.9 L168.2 113.2 L176.9 111.5 L183.9 108.9 L187.2 102.0 L190.8 96.8 L194.2 93.3 L195.1 93.0 L199.2 95.0 L204.4 97.7 L206.0 94.5 L209.1 93.0 L213.0 93.0 L215.3 94.5 L218.4 99.2 L220.0 102.0 L240.0 102.0 L240.0 120.0 L220.0 120.0 L218.4 117.2 L215.3 112.5 L213.0 111.0 L209.1 111.0 L206.0 112.5 L204.4 115.7 L199.2 113.0 L195.1 111.0 L194.2 111.3 L190.8 114.8 L187.2 120.0 L183.9 126.9 L176.9 129.5 L168.2 131.2 L159.6 132.9 L147.5 133.8 L142.2 137.0 L137.2 146.0 L128.5 151.0 L121.6 155.4 L111.2 154.5 L109.2 153.5 L102.2 153.5 L95.2 156.5 L88.2 158.4 L81.2 158.4 L75.2 155.0 L67.7 152.0 L61.2 150.0 L53.2 149.0 L46.2 148.5 L39.2 149.5 L33.2 149.0 L27.2 147.5 L20.2 146.5 L13.4 145.0 L-6.6 145.0Z" fill="#e0e8cc"/><path d="M-6.6 145.0 L13.4 145.0 L20.2 146.5 L27.2 147.5 L33.2 149.0 L39.2 149.5 L46.2 148.5 L53.2 149.0 L61.2 150.0 L67.7 152.0 L75.2 155.0 L81.2 158.4 L88.2 158.4 L95.2 156.5 L102.2 153.5 L109.2 153.5 L111.2 154.5 L121.6 155.4 L128.5 151.0 L137.2 146.0 L142.2 137.0 L147.5 133.8 L159.6 132.9 L168.2 131.2 L176.9 129.5 L183.9 126.9 L187.2 120.0 L190.8 114.8 L194.2 111.3 L195.1 111.0 L199.2 113.0 L204.4 115.7 L206.0 112.5 L209.1 111.0 L213.0 111.0 L215.3 112.5 L218.4 117.2 L220.0 120.0 L240.0 120.0 L240.0 138.0 L220.0 138.0 L218.4 135.2 L215.3 130.5 L213.0 129.0 L209.1 129.0 L206.0 130.5 L204.4 133.7 L199.2 131.0 L195.1 129.0 L194.2 129.3 L190.8 132.8 L187.2 138.0 L183.9 144.9 L176.9 147.5 L168.2 149.2 L159.6 150.9 L147.5 151.8 L142.2 155.0 L137.2 164.0 L128.5 169.0 L121.6 173.4 L111.2 172.5 L109.2 171.5 L102.2 171.5 L95.2 174.5 L88.2 176.4 L81.2 176.4 L75.2 173.0 L67.7 170.0 L61.2 168.0 L53.2 167.0 L46.2 166.5 L39.2 167.5 L33.2 167.0 L27.2 165.5 L20.2 164.5 L13.4 163.0 L-6.6 163.0Z" fill="#c4dea0"/></g><g filter="url(#bl6)"><path d="M135.0 120.8 L139.3 78.0 L169.3 52.3 L195.0 48.0 L212.2 82.3 L186.5 120.8Z" fill="#e2d4b6"/><path d="M135.0 116.6 L186.5 116.6 L190.7 133.7 L182.2 189.4 L143.6 189.4Z" fill="#e6e8d2"/><path d="M143.6 99.4 L186.5 69.4 L203.6 90.8 L182.2 120.8Z" fill="#e8e2cc"/><path d="M6.5 159.4 L109.3 172.2 L160.7 193.7 L169.3 215.1 L160.7 249.4 L109.3 257.9 L45.1 215.1 L6.5 189.4Z" fill="#6cb448"/><ellipse transform="translate(145.8 215.1) rotate(0.0)" rx="19.3" ry="25.7" fill="#a0d060"/><path d="M186.5 82.3 L220.7 90.8 L280.7 150.8 L289.3 172.2 L259.3 176.5 L237.9 163.7 L220.7 129.4 L190.7 120.8Z" fill="#ece6d4"/><path d="M237.9 155.1 L280.7 180.8 L336.4 208.7 L306.4 249.4 L255.0 262.2 L229.3 232.2Z" fill="#dfe6c6"/><path d="M272.1 163.7 L375.0 159.4 L366.4 215.1 L340.7 249.4 L323.6 232.2 L315.0 206.5 L280.7 193.7Z" fill="#ece6d8"/><path d="M246.4 249.4 L336.4 249.4 L306.4 300.8 L263.6 335.1 L246.4 317.9Z" fill="#5aaa44"/><path d="M160.7 253.7 L237.9 253.7 L237.9 317.9 L203.6 317.9 L169.3 292.2Z" fill="#e6e2c8"/><ellipse transform="translate(212.2 335.1) rotate(0.0)" rx="21.4" ry="21.4" fill="#d4e6bc"/><path d="M113.6 266.5 L165.0 262.2 L169.3 326.5 L152.2 326.5 L109.3 322.2Z" fill="#3a8a38"/><path d="M96.5 343.6 L216.4 347.9 L237.9 455.0 L165.0 463.6 L109.3 420.7Z" fill="#6cb448"/><ellipse transform="translate(169.3 369.3) rotate(0.0)" rx="25.7" ry="23.6" fill="#dcead0"/><ellipse transform="translate(160.7 416.5) rotate(0.0)" rx="17.1" ry="15.0" fill="#c4dca0"/><ellipse transform="translate(109.3 317.9) rotate(0.0)" rx="10.7" ry="17.1" fill="#8cc460"/><ellipse transform="translate(102.9 347.9) rotate(0.0)" rx="10.7" ry="19.3" fill="#a8d070"/></g><g clip-path="url(#cETH)"><g filter="url(#bl6)"><ellipse transform="translate(255.0 176.5) rotate(0.0)" rx="38.6" ry="47.1" fill="#d8e6c6"/><ellipse transform="translate(182.2 180.8) rotate(0.0)" rx="30.0" ry="60.0" fill="#4a9a40"/><ellipse transform="translate(255.0 232.2) rotate(0.0)" rx="30.0" ry="17.1" fill="#8cc460"/><ellipse transform="translate(255.0 133.7) rotate(0.0)" rx="25.7" ry="17.1" fill="#eae4d0"/></g></g><g filter="url(#bl4)"><ellipse transform="translate(340.7 187.2) rotate(0.0)" rx="21.4" ry="11.1" fill="#faf8f2"/><ellipse transform="translate(330.0 234.4) rotate(0.0)" rx="9.4" ry="7.7" fill="#faf8f2"/></g><g clip-path="url(#cETH)"><g filter="url(#bl3)"><ellipse transform="translate(182.2 213.0) rotate(0.0)" rx="19.3" ry="15.0" fill="#2e6e2e"/><ellipse transform="translate(177.9 163.7) rotate(0.0)" rx="10.7" ry="25.7" fill="#3a8a3a"/><ellipse transform="translate(199.3 157.3) rotate(0.0)" rx="3.4" ry="3.4" fill="#24502a"/><ellipse transform="translate(237.9 232.2) rotate(0.0)" rx="17.1" ry="7.7" fill="#3a8a3a"/><ellipse transform="translate(220.7 206.5) rotate(-30.0)" rx="17.1" ry="5.1" fill="#5aaa44"/></g></g><g filter="url(#bl3)"><path d="M34.4 200.1 L66.5 213.0 L105.1 234.4 L126.5 264.4 L87.9 258.8 L53.6 232.2Z" fill="#2a6a2c"/><ellipse transform="translate(79.3 215.1) rotate(30.0)" rx="30.0" ry="12.9" fill="#3a8a38"/><path d="M105.9 190.2 L114.5 189.4 L122.2 215.1 L125.6 242.9 L118.8 232.2 L109.3 210.8Z" fill="#1f4a22"/><path d="M117.9 266.5 L160.7 266.5 L167.2 292.2 L160.7 309.4 L126.5 309.4 L117.9 292.2Z" fill="#2e7430"/><path d="M123.9 307.2 L155.2 307.2 L154.3 335.1 L147.9 345.8 L128.6 345.8 L123.9 330.8Z" fill="#24582a"/><ellipse transform="translate(165.0 313.6) rotate(0.0)" rx="7.7" ry="10.7" fill="#2a6a2c"/><ellipse transform="translate(289.3 270.8) rotate(0.0)" rx="12.9" ry="10.7" fill="#2e7a32"/><path d="M237.9 335.1 L255.0 317.9 L280.7 300.8 L263.6 335.1 L242.2 360.8 L231.4 369.3Z" fill="#2a6a2c"/><ellipse transform="translate(225.0 399.3) rotate(10.0)" rx="6.4" ry="23.6" fill="#3a8a38"/><ellipse transform="translate(182.2 420.7) rotate(15.0)" rx="12.0" ry="19.3" fill="#24582a"/><ellipse transform="translate(122.2 403.6) rotate(-20.0)" rx="10.7" ry="17.1" fill="#2e7430"/><ellipse transform="translate(109.3 377.9) rotate(0.0)" rx="7.7" ry="10.7" fill="#3a8a38"/></g></g><path d="M154.5 77.0 L152.8 70.4 L149.5 63.8 L146.3 60.5 L141.3 62.1 L133.1 67.1 L126.5 73.7 L119.9 77.0 L113.3 75.3 L110.1 77.0 L108.4 67.1 L109.2 57.2 L107.6 47.3 L108.4 40.8 L113.3 34.2 L118.3 29.3 L119.9 26.0 L123.2 19.4 L128.2 17.7 L133.1 16.1 L138.0 14.4 L144.6 15.3" fill="none" stroke="#d9c7a4" stroke-width="1.8"/><path d="M134.7 113.0 L133.1 123.0 L134.7 132.9 L138.0 139.4 L143.0 142.7" fill="none" stroke="#6cc04c" stroke-width="1.3"/><ellipse transform="translate(123.2 22.0) rotate(30.0)" rx="3.0" ry="5.0" fill="#3a8a38"/>
<path d="M38.7 0.0 L38.7 52.6 M38.7 52.6 L25.5 52.6 L25.5 108.0 M1.3 47.0 L25.5 59.0 M1.2 170.5 L7.7 170.5 M38.7 27.2 L145.2 27.2 L147.6 29.1 L149.9 30.3 L155.3 30.3 L156.9 27.6 L157.7 24.9 L159.2 23.7 L163.9 22.9 L165.5 21.4 L167.8 16.7 L169.4 15.9 L171.7 16.3 L174.8 13.6 L177.2 11.6 M177.2 11.6 L175.6 8.9 L174.4 5.8 L174.8 2.7 L174.8 0.0 M177.2 11.6 L177.9 15.1 L181.0 17.5 L184.2 18.2 L187.3 21.4 L192.7 26.0 L193.5 29.1 L195.1 33.8 L198.2 38.5 L197.4 43.2 L197.0 48.6 L197.4 56.4 L198.9 62.6 L201.3 68.9 L205.2 71.2 L209.1 75.1 L213.7 77.4 L215.3 79.8 L217.6 83.7 L220.0 88.0 M208.2 0.0 L209.8 1.1 L213.7 4.2 L216.1 8.9 L219.2 13.6 L221.5 19.0 L221.5 22.9 L220.0 27.6 L221.5 31.5 L222.3 36.9 L224.6 40.8 L228.5 46.3 L230.9 49.0 L234.8 50.2 L240.2 54.1 L243.3 57.2 L246.4 61.9 L248.8 66.5 L250.3 71.2 L251.9 72.0 L253.8 76.8 L257.4 80.5 L262.2 84.7 L264.7 87.7 L267.1 91.4 L268.9 95.0 L269.5 98.0 L270.1 101.1 L269.5 105.9 L268.9 109.6 L269.5 113.2 L270.7 118.0 L271.9 122.9 L273.1 127.7 L274.3 132.6 L275.6 137.4 L276.2 142.0 L276.5 144.8 L277.5 146.9 L284.8 147.9 L291.0 146.9 L297.3 146.9 L303.5 142.8 L308.7 139.6 L315.9 138.6 L322.2 136.5 L328.4 134.5 L334.6 131.3 L340.8 129.3 L347.1 127.2 L353.3 124.1 L356.4 122.0 L361.8 119.4 L372.2 116.3 L381.2 115.0 M269.5 99.9 L273.7 96.2 L275.6 91.4 L275.6 85.9 L278.0 84.7 L281.6 86.5 L286.2 86.5 L297.5 86.2 L309.9 87.2 L322.4 89.3 L326.5 91.3 L330.7 87.2 L339.0 76.8 L347.3 72.7 L359.7 69.5 L372.2 68.5 L381.2 67.5 M220.0 88.0 L214.5 79.8 L213.0 82.1 L209.1 83.7 L205.2 85.2 L201.3 87.5 L196.0 90.5 L194.2 96.6 L192.5 103.5 L190.8 112.2 L189.0 119.1 L188.2 126.9 M188.2 126.9 L194.2 126.0 L197.7 125.1 L201.2 127.7 L203.7 124.3 L205.5 119.9 L208.1 121.7 L211.5 124.3 L216.7 122.5 L220.2 124.3 L223.6 123.4 L228.8 124.3 L235.7 125.1 L241.2 127.2 L245.4 129.3 L248.5 133.4 L252.6 138.6 L256.8 142.8 L260.9 146.9 L264.0 151.1 M264.0 151.1 L260.9 156.3 L257.8 160.4 L257.3 165.6 L256.8 169.7 L262.0 169.7 L268.2 169.2 L271.3 170.8 L273.4 166.6 L275.5 163.5 M271.3 170.8 L269.2 173.9 L271.3 180.1 L274.4 184.3 L277.5 189.5 L280.6 192.6 L285.8 195.7 L293.1 198.8 L301.4 201.9 L308.7 205.0 L313.9 207.1 L324.2 208.7 L336.7 208.7 L332.5 213.3 L326.3 219.6 L320.1 225.8 L313.9 232.0 L307.6 238.3 L306.6 240.7 L299.1 248.2 L291.2 248.1 L284.9 248.1 L278.7 250.2 L273.5 252.8 L270.4 256.9 L263.1 258.0 L260.0 258.5 L257.9 261.6 M188.2 126.9 L187.3 134.7 L185.6 143.3 L182.1 147.6 L176.9 150.2 L173.5 155.4 L170.0 162.3 L166.6 169.2 L163.1 172.7 L159.6 176.2 L157.9 183.1 L157.0 190.0 M30.4 199.4 L34.5 188.2 L40.7 178.6 L49.0 177.5 L53.2 182.7 L59.4 189.0 L67.7 188.0 L76.0 188.0 L76.5 180.7 L90.6 180.7 L91.0 187.0 L96.8 182.8 L103.0 179.0 L109.3 182.8 L115.5 187.0 L123.8 180.7 L130.0 172.4 L132.1 166.1 L132.1 157.8 L138.4 157.8 L139.4 153.7 L146.7 154.7 L147.1 170.3 L152.9 178.6 L156.0 182.8 L157.0 190.0 M157.0 190.0 L156.2 200.4 L145.8 203.8 L143.2 209.0 L145.8 212.5 L152.7 214.2 L157.9 217.7 L163.1 222.9 L166.6 228.1 L170.0 235.0 L171.7 241.9 M171.7 241.9 L176.9 242.8 L179.5 245.4 L180.4 252.3 L183.9 254.0 L192.8 257.7 L201.2 260.5 L211.2 265.5 L214.8 265.2 L219.0 267.3 L223.7 267.6 L227.3 267.8 L232.5 262.1 L235.6 260.3 L240.3 258.5 L243.9 257.4 L249.1 261.3 L256.9 261.3 L257.9 261.6 M171.7 241.9 L168.3 245.4 L163.1 248.8 L157.9 254.0 L157.0 258.0 M117.0 265.5 L120.3 264.4 L128.9 263.4 L137.6 262.3 L146.2 260.1 L154.9 259.0 L157.0 258.0 M157.0 258.0 L158.7 261.0 L162.3 269.1 L168.0 280.5 L169.0 288.2 L166.2 295.8 L162.3 301.5 L156.6 307.2 L155.7 309.0 L155.7 325.4 M155.7 325.4 L112.7 325.4 L107.3 327.1 L100.8 327.1 M112.7 325.4 L114.9 331.5 L114.9 340.1 L112.7 343.4 L104.0 344.4 L94.3 348.8 L90.0 344.4 M112.7 343.4 L114.9 349.8 L113.8 356.3 L108.4 362.8 L103.0 367.1 L98.7 370.4 M155.7 325.4 L200.4 351.0 L204.2 355.7 L223.4 372.6 M253.7 332.0 L248.0 324.3 L246.5 309.0 L246.5 292.0 L246.5 276.1 L251.7 270.9 L255.3 265.2 L257.9 261.6 M1.2 259.0 L7.8 252.5 L16.5 250.4 L25.1 248.2 L31.6 247.1 L38.1 246.1 L43.5 243.9 L51.1 245.0 L59.7 245.0 L68.4 242.5 M113.9 419.7 L109.8 419.7 L99.8 420.7 L91.7 422.2 L89.7 426.3 L86.7 430.3 L83.2 432.3 L84.7 435.3 L85.7 442.4 L85.2 448.4 L84.2 454.4 L83.2 462.5 L85.7 467.5 L89.7 471.5 L93.8 473.5 L96.8 473.0 L97.3 471.0 L101.3 470.5 L101.6 478.0 M142.5 436.8 L146.1 439.3 L149.1 444.4 L151.1 450.4 L147.1 454.4 L147.1 460.5 L146.1 467.5 L148.1 472.5 L145.1 476.6 L143.1 478.0 M169.2 462.5 L164.2 462.5 L162.2 468.5 L162.2 478.0 M1.2 440.3 L3.7 444.4 L4.2 450.4 L3.2 456.4 L5.2 457.4 L11.3 456.4 L18.3 454.4 L25.4 454.4 L29.4 456.4 L30.4 460.5 L35.4 459.5 L41.4 458.5 L42.5 460.5 L43.5 464.5 L49.5 466.5 L55.5 467.5 L61.6 467.0 L65.6 464.5 L67.6 463.5 L69.6 467.5 L71.6 470.5 L75.7 471.5 L79.7 473.5 L83.7 475.5 L84.7 478.0 M26.2 454.4 L25.9 462.5 L26.4 472.5 L25.4 478.0 M239.6 448.3 L241.3 455.4 L240.2 465.8 L241.3 478.0 M220.0 88.0 L220.2 94.9 L225.4 103.5 L230.6 110.4 L235.7 115.6 L242.7 120.8 L247.4 122.0 L251.6 126.2 L256.8 131.3 L262.0 135.5 L266.1 140.7 L269.2 143.8 L272.3 146.9 L275.5 149.0 L277.5 152.1 L278.0 155.2 L276.5 157.3 L274.4 158.8 L271.3 159.4 L268.2 161.4 L266.1 163.0 L268.2 164.6 L272.3 163.5 L275.5 163.5 L278.6 165.6 L281.7 169.7 L284.8 173.9 L288.9 177.0 L295.2 177.0 L299.3 176.0 L303.5 173.9 L308.7 171.8 L313.9 172.9 L319.1 171.8 L324.2 169.7 L328.4 167.7 L332.5 167.7 L336.7 166.6 L340.8 165.6 L345.0 165.6 L350.2 164.6 L355.4 163.5 L360.6 162.5 L365.8 161.4 L369.9 160.4 L372.0 158.3 L375.1 157.3 L379.3 158.3 L380.3 161.4 L379.8 165.6 L378.2 169.7 L377.7 176.0 L377.2 178.1 L375.1 182.2 L373.0 188.4 L370.9 194.7 L367.8 200.9 L364.7 206.1 L361.6 210.2 L359.5 215.4 L356.4 221.6 L353.3 226.8 L350.2 233.1 L345.6 240.7 L336.9 253.6 L328.3 264.4 L317.4 275.3 L306.6 283.9 L295.8 290.4 L285.0 299.0 L274.2 309.9 L265.5 318.5 L256.9 327.2 L252.6 333.6 L246.1 340.1 L239.6 344.5 L235.3 350.9 L233.1 357.4 L229.9 363.9 L224.5 372.6 L223.7 373.4 L219.5 386.9 L218.5 392.1 L222.6 399.4 L226.8 403.5 L224.7 410.8 L224.7 419.1 L226.8 424.3 L228.8 432.6 L230.9 440.9 L237.2 445.0 L239.6 448.3 M239.6 448.3 L230.9 452.6 L224.5 456.9 L213.6 459.1 L202.8 461.2 L192.3 464.0 L186.2 464.5 L182.2 462.5 L178.2 461.5 L169.2 462.5 M169.2 462.5 L166.2 458.5 L164.2 452.4 L163.2 445.4 L160.2 440.3 L156.1 436.8 L148.1 436.8 L142.0 436.3 L136.0 433.3 L130.0 430.3 L123.9 426.3 L117.9 423.2 L113.9 418.2 L110.9 410.2 L107.8 404.1 L103.8 400.1 L99.8 395.1 L98.8 388.0 L98.7 381.2 L97.6 374.7 L98.7 370.4 L96.5 368.2 L94.3 359.6 L94.3 353.1 L92.2 349.8 L90.0 344.4 L94.3 333.6 L100.8 327.1 L99.7 325.0 L100.8 318.5 L103.0 305.5 L107.3 299.0 L113.8 292.5 L119.2 286.1 L116.0 281.7 L113.8 273.1 L117.0 265.5 L113.8 264.4 L107.3 262.3 L100.8 260.1 L94.3 255.8 L87.8 253.6 L81.4 252.5 L74.9 247.1 L68.4 240.6 L63.6 236.8 L59.4 230.5 L53.2 224.3 L47.0 218.1 L40.7 211.8 L32.4 205.6 L30.4 199.4 M30.4 199.4 L26.2 199.4 L20.0 198.3 L18.9 195.2 L20.0 186.9 L20.0 180.7 L15.8 176.5 L11.7 172.4 L9.6 166.1 L7.5 162.0 L7.0 161.2 L4.9 154.1 L4.9 147.0 L3.5 141.3 L1.3 138.5 L2.0 132.8 L5.6 130.0 L4.9 125.7 L5.6 122.9 L9.1 121.5 L9.8 117.2 L12.7 111.5 L13.4 113.0 M25.5 108.0 L13.4 108.7 L12.7 111.5" fill="none" stroke="#2a2a2a" stroke-width="1.1" stroke-linejoin="round"/>
<path d="M228.2 100.5 L231.2 99.5 L234.2 101.0 L238.2 104.0 L242.2 106.5 L244.2 109.0 L243.2 112.0 L239.2 112.5 L235.2 110.5 L231.2 109.0 L228.2 105.5Z" fill="#111"/><path d="M234.2 114.0 L237.2 114.5 L241.2 117.0 L245.2 119.5 L246.2 121.5 L242.2 120.0 L237.2 118.0 L233.7 116.0Z" fill="#111"/><path d="M254.2 92.0 L256.7 90.5 L259.7 92.0 L262.2 94.5 L261.7 97.0 L258.2 96.5 L255.2 95.0Z" fill="#111"/><ellipse transform="translate(226.2 99.0) rotate(0.0)" rx="1.0" ry="1.0" fill="#111"/><ellipse transform="translate(227.7 103.5) rotate(0.0)" rx="1.2" ry="1.0" fill="#111"/><ellipse transform="translate(229.2 97.5) rotate(0.0)" rx="0.8" ry="0.8" fill="#111"/><ellipse transform="translate(234.7 98.5) rotate(0.0)" rx="0.9" ry="0.9" fill="#111"/><ellipse transform="translate(246.2 110.0) rotate(0.0)" rx="0.8" ry="0.8" fill="#111"/><ellipse transform="translate(249.7 114.5) rotate(0.0)" rx="0.7" ry="0.7" fill="#111"/><ellipse transform="translate(263.2 100.5) rotate(0.0)" rx="2.0" ry="1.2" fill="#111"/><ellipse transform="translate(259.2 99.5) rotate(0.0)" rx="0.8" ry="0.8" fill="#111"/><ellipse transform="translate(267.7 113.0) rotate(0.0)" rx="1.2" ry="1.5" fill="#111"/><ellipse transform="translate(268.7 132.0) rotate(0.0)" rx="1.0" ry="2.5" fill="#111"/><ellipse transform="translate(267.2 136.0) rotate(0.0)" rx="0.6" ry="1.5" fill="#111"/><ellipse transform="translate(247.7 117.0) rotate(0.0)" rx="0.7" ry="0.7" fill="#111"/><ellipse transform="translate(247.7 73.5) rotate(0.0)" rx="0.8" ry="0.8" fill="#111"/><ellipse transform="translate(251.7 81.5) rotate(0.0)" rx="0.7" ry="0.7" fill="#111"/><ellipse transform="translate(257.7 110.5) rotate(0.0)" rx="0.8" ry="0.8" fill="#111"/><ellipse cx="265.7" cy="109.5" rx="2" ry="1.6" fill="none" stroke="#111" stroke-width="1"/><path d="M228.7 375.5 L231.7 376.0 L233.0 379.0 L232.2 383.0 L229.7 384.0 L228.2 381.0Z" fill="#111"/><path d="M223.2 387.5 L225.7 387.0 L227.7 391.0 L228.2 395.5 L226.2 396.0 L223.7 393.0 L222.7 390.0Z" fill="#9cd070" stroke="#111" stroke-width="1"/><path d="M228.2 411.0 L231.7 410.5 L232.7 413.0 L230.2 416.5 L228.2 415.0Z" fill="none" stroke="#111" stroke-width="1"/><path d="M275.7 460.0 L277.7 460.5 L279.2 464.5 L278.7 467.0 L276.2 466.5 L275.2 463.0Z" fill="none" stroke="#111" stroke-width="1"/><path d="M288.7 470.5 L291.7 469.5 L292.7 472.0 L290.2 473.5Z" fill="none" stroke="#111" stroke-width="1"/><ellipse transform="translate(282.0 472.5) rotate(0.0)" rx="1.5" ry="1.2" fill="#111"/><ellipse transform="translate(316.5 434.6) rotate(0.0)" rx="1.6" ry="0.9" fill="#111"/><ellipse transform="translate(318.2 439.3) rotate(0.0)" rx="0.7" ry="0.7" fill="#111"/><ellipse transform="translate(332.2 438.8) rotate(0.0)" rx="0.9" ry="0.8" fill="#111"/><ellipse transform="translate(334.2 443.0) rotate(0.0)" rx="0.8" ry="0.8" fill="#111"/><ellipse transform="translate(328.0 462.7) rotate(0.0)" rx="0.6" ry="0.6" fill="#111"/><ellipse transform="translate(373.2 433.6) rotate(0.0)" rx="0.6" ry="0.6" fill="#111"/><ellipse transform="translate(376.8 432.6) rotate(0.0)" rx="0.6" ry="0.6" fill="#111"/><ellipse transform="translate(378.2 444.5) rotate(0.0)" rx="0.9" ry="0.8" fill="#111"/><ellipse transform="translate(230.7 402.0) rotate(0.0)" rx="0.6" ry="0.6" fill="#111"/><ellipse transform="translate(229.2 414.0) rotate(0.0)" rx="0.5" ry="0.5" fill="#111"/><path d="M346.2 479.0 L347.2 476.0 L349.2 472.0 L353.4 467.9 L355.5 470.0 L357.2 473.0 L358.6 479.0" fill="none" stroke="#111" stroke-width="1.1"/>
</g>
<rect x="0" y="0" width="381.6" height="480.0" fill="none" stroke="#000" stroke-width="3"/>
<path d="M38.6 480.0 V499.0 M103.6 480.0 V499.0 M168.6 480.0 V499.0 M233.6 480.0 V499.0 M298.6 480.0 V499.0 M363.6 480.0 V499.0 M0 53.0 H-18 M0 117.9 H-18 M0 182.8 H-18 M0 247.7 H-18 M0 312.6 H-18 M0 377.5 H-18 M0 442.4 H-18" stroke="#000" stroke-width="3" fill="none"/>
<text x="190.8" y="-25.1" text-anchor="middle" font-family="'Liberation Sans', Arial, Helvetica, sans-serif" font-size="38">SSEBop</text>
<text x="-20.0" y="-13.4" font-family="'Liberation Sans', Arial, Helvetica, sans-serif" font-size="35.5" font-weight="bold">D</text>
</g>
<g transform="translate(128.80 627.30)">
<g clip-path="url(#frm)">
<g clip-path="url(#dom)"><g filter="url(#bl6)"><path d="M-19.2 -7.7 L409.2 -7.7 L409.2 506.4 L-19.2 506.4Z" fill="#f9f1ea"/><ellipse transform="translate(21.5 146.5) rotate(0.0)" rx="19.3" ry="13.7" fill="#b9e0b4"/><ellipse transform="translate(100.8 155.1) rotate(0.0)" rx="51.4" ry="19.3" fill="#cdeac8"/><ellipse transform="translate(150.0 163.7) rotate(0.0)" rx="15.0" ry="21.4" fill="#a0d79c"/><path d="M6.5 159.4 L53.6 172.2 L109.3 178.7 L122.2 193.7 L66.5 193.7 L19.4 193.7Z" fill="#eebf92"/><ellipse transform="translate(40.8 180.8) rotate(0.0)" rx="23.6" ry="10.7" fill="#e6ac78"/><ellipse transform="translate(92.2 185.1) rotate(0.0)" rx="25.7" ry="8.6" fill="#f2d6bc"/><ellipse transform="translate(182.2 99.4) rotate(0.0)" rx="19.3" ry="15.0" fill="#f3d2b2"/><path d="M30.1 193.7 L109.3 193.7 L122.2 232.2 L117.9 262.2 L83.6 257.9 L45.1 223.7Z" fill="#f2cfac"/><ellipse transform="translate(79.3 232.2) rotate(30.0)" rx="30.0" ry="15.0" fill="#ebbb8e"/><ellipse transform="translate(143.6 219.4) rotate(0.0)" rx="19.3" ry="30.0" fill="#d7ecd2"/><path d="M165.0 146.5 L192.9 133.7 L192.9 249.4 L169.3 249.4Z" fill="#f5dcc6"/><ellipse transform="translate(252.9 172.2) rotate(0.0)" rx="23.6" ry="27.8" fill="#c2e3bc"/><ellipse transform="translate(212.2 245.1) rotate(0.0)" rx="32.1" ry="19.3" fill="#d0eaca"/><ellipse transform="translate(212.2 191.5) rotate(0.0)" rx="32.1" ry="55.7" fill="#8fcf8c"/><ellipse transform="translate(182.2 232.2) rotate(0.0)" rx="12.9" ry="17.1" fill="#b8e0b2"/><path d="M190.7 86.6 L220.7 95.1 L280.7 150.8 L289.3 172.2 L259.3 176.5 L220.7 133.7 L190.7 120.8Z" fill="#f5e0cc"/><path d="M237.9 202.2 L280.7 198.0 L332.1 208.7 L306.4 249.4 L255.0 262.2 L237.9 249.4Z" fill="#ebb583"/><ellipse transform="translate(306.4 206.5) rotate(0.0)" rx="21.4" ry="7.7" fill="#f6e4d4"/><path d="M272.1 161.5 L379.3 159.4 L366.4 206.5 L332.1 223.7 L280.7 193.7Z" fill="#fbf6f1"/><path d="M272.1 161.5 L379.3 159.4 L381.4 172.2 L272.1 174.4Z" fill="#f3d2b0"/><ellipse transform="translate(323.6 232.2) rotate(0.0)" rx="25.7" ry="17.1" fill="#f6e6d8"/><path d="M242.2 249.4 L280.7 249.4 L323.6 249.4 L342.8 251.5 L315.0 292.2 L280.7 330.8 L246.4 347.9 L237.9 292.2Z" fill="#b77a48"/><ellipse transform="translate(315.0 275.1) rotate(30.0)" rx="17.1" ry="21.4" fill="#d79c68"/><path d="M203.6 257.9 L242.2 257.9 L242.2 352.2 L220.7 369.3 L203.6 352.2Z" fill="#e3aa78"/><ellipse transform="translate(233.6 326.5) rotate(0.0)" rx="10.7" ry="19.3" fill="#c07c48"/><ellipse transform="translate(182.2 313.6) rotate(0.0)" rx="23.6" ry="32.1" fill="#9fd89c"/><ellipse transform="translate(182.2 270.8) rotate(0.0)" rx="17.1" ry="12.9" fill="#f4dcc4"/><ellipse transform="translate(139.3 277.2) rotate(0.0)" rx="25.7" ry="19.3" fill="#f2d4b6"/><ellipse transform="translate(113.6 311.5) rotate(0.0)" rx="15.0" ry="12.9" fill="#cfe9ca"/><ellipse transform="translate(165.0 354.3) rotate(0.0)" rx="40.7" ry="21.4" fill="#a8dca4"/><path d="M96.5 373.6 L225.0 373.6 L237.9 455.0 L165.0 463.6 L109.3 420.7Z" fill="#f2d0b0"/><ellipse transform="translate(126.5 399.3) rotate(-20.0)" rx="23.6" ry="19.3" fill="#ecb98a"/><ellipse transform="translate(143.6 425.0) rotate(0.0)" rx="21.4" ry="15.0" fill="#cde9c6"/><ellipse transform="translate(169.3 390.8) rotate(0.0)" rx="25.7" ry="12.9" fill="#f9f1ea"/><ellipse transform="translate(199.3 437.9) rotate(0.0)" rx="25.7" ry="19.3" fill="#ebb98a"/><ellipse transform="translate(220.7 399.3) rotate(0.0)" rx="10.7" ry="21.4" fill="#e6ad7a"/><ellipse transform="translate(102.9 350.1) rotate(0.0)" rx="10.7" ry="19.3" fill="#a3d9a0"/></g><g filter="url(#bl3)"><ellipse transform="translate(214.3 185.1) rotate(0.0)" rx="19.3" ry="45.0" fill="#45ad50"/><ellipse transform="translate(205.7 221.5) rotate(0.0)" rx="18.0" ry="21.4" fill="#45ad50"/><ellipse transform="translate(195.0 172.2) rotate(0.0)" rx="8.6" ry="21.4" fill="#6cc06c"/><ellipse transform="translate(182.2 317.9) rotate(0.0)" rx="15.0" ry="23.6" fill="#52b455"/><ellipse transform="translate(169.3 350.1) rotate(0.0)" rx="23.6" ry="12.9" fill="#52b455"/><ellipse transform="translate(102.9 347.9) rotate(0.0)" rx="6.9" ry="13.7" fill="#5ab858"/><path d="M248.6 260.1 L280.7 253.7 L321.4 260.1 L306.4 287.9 L280.7 317.9 L263.6 335.1 L250.7 330.8Z" fill="#98582a"/><path d="M249.9 292.2 L267.9 270.8 L280.7 283.6 L264.4 322.2 L255.0 335.1 L248.6 326.5Z" fill="#6a3418"/><ellipse transform="translate(289.3 268.6) rotate(-10.0)" rx="12.0" ry="6.9" fill="#6e3618"/><ellipse transform="translate(259.3 236.5) rotate(20.0)" rx="12.0" ry="7.7" fill="#8a4a20"/><ellipse transform="translate(280.7 217.2) rotate(0.0)" rx="6.0" ry="4.3" fill="#9a5a28"/><ellipse transform="translate(235.7 326.5) rotate(0.0)" rx="6.0" ry="15.0" fill="#a86a38"/><path d="M104.6 190.2 L118.6 190.2 L120.3 204.2 L123.8 224.9 L127.2 245.7 L123.8 244.0 L116.8 228.4 L109.9 214.6 L106.5 204.2Z" fill="#5a2810"/><path d="M82.2 193.8 L96.1 197.3 L96.1 202.5 L85.7 200.7Z" fill="#6a3418"/><ellipse transform="translate(21.5 148.7) rotate(0.0)" rx="7.7" ry="6.0" fill="#5ab858"/><ellipse transform="translate(138.5 127.3) rotate(-15.0)" rx="5.1" ry="13.7" fill="#d48e58"/><ellipse transform="translate(362.1 170.5) rotate(0.0)" rx="4.3" ry="3.4" fill="#b87038"/><ellipse transform="translate(117.9 407.9) rotate(-25.0)" rx="7.7" ry="12.9" fill="#d08a50"/><ellipse transform="translate(195.0 442.2) rotate(0.0)" rx="15.0" ry="10.7" fill="#e0a06a"/></g><path d="M127.2 311.0 L137.2 309.5 L147.2 310.0 L155.2 311.0 L155.7 325.0 L147.2 325.0 L145.2 334.0 L139.2 341.0 L133.2 342.5 L127.7 341.0 L127.2 332.0 L125.7 322.0Z" fill="#ffffff"/><ellipse transform="translate(198.7 156.5) rotate(0.0)" rx="3.0" ry="2.5" fill="#ffffff"/></g>
<path d="M38.7 0.0 L38.7 52.6 M38.7 52.6 L25.5 52.6 L25.5 108.0 M1.3 47.0 L25.5 59.0 M1.2 170.5 L7.7 170.5 M38.7 27.2 L145.2 27.2 L147.6 29.1 L149.9 30.3 L155.3 30.3 L156.9 27.6 L157.7 24.9 L159.2 23.7 L163.9 22.9 L165.5 21.4 L167.8 16.7 L169.4 15.9 L171.7 16.3 L174.8 13.6 L177.2 11.6 M177.2 11.6 L175.6 8.9 L174.4 5.8 L174.8 2.7 L174.8 0.0 M177.2 11.6 L177.9 15.1 L181.0 17.5 L184.2 18.2 L187.3 21.4 L192.7 26.0 L193.5 29.1 L195.1 33.8 L198.2 38.5 L197.4 43.2 L197.0 48.6 L197.4 56.4 L198.9 62.6 L201.3 68.9 L205.2 71.2 L209.1 75.1 L213.7 77.4 L215.3 79.8 L217.6 83.7 L220.0 88.0 M208.2 0.0 L209.8 1.1 L213.7 4.2 L216.1 8.9 L219.2 13.6 L221.5 19.0 L221.5 22.9 L220.0 27.6 L221.5 31.5 L222.3 36.9 L224.6 40.8 L228.5 46.3 L230.9 49.0 L234.8 50.2 L240.2 54.1 L243.3 57.2 L246.4 61.9 L248.8 66.5 L250.3 71.2 L251.9 72.0 L253.8 76.8 L257.4 80.5 L262.2 84.7 L264.7 87.7 L267.1 91.4 L268.9 95.0 L269.5 98.0 L270.1 101.1 L269.5 105.9 L268.9 109.6 L269.5 113.2 L270.7 118.0 L271.9 122.9 L273.1 127.7 L274.3 132.6 L275.6 137.4 L276.2 142.0 L276.5 144.8 L277.5 146.9 L284.8 147.9 L291.0 146.9 L297.3 146.9 L303.5 142.8 L308.7 139.6 L315.9 138.6 L322.2 136.5 L328.4 134.5 L334.6 131.3 L340.8 129.3 L347.1 127.2 L353.3 124.1 L356.4 122.0 L361.8 119.4 L372.2 116.3 L381.2 115.0 M269.5 99.9 L273.7 96.2 L275.6 91.4 L275.6 85.9 L278.0 84.7 L281.6 86.5 L286.2 86.5 L297.5 86.2 L309.9 87.2 L322.4 89.3 L326.5 91.3 L330.7 87.2 L339.0 76.8 L347.3 72.7 L359.7 69.5 L372.2 68.5 L381.2 67.5 M220.0 88.0 L214.5 79.8 L213.0 82.1 L209.1 83.7 L205.2 85.2 L201.3 87.5 L196.0 90.5 L194.2 96.6 L192.5 103.5 L190.8 112.2 L189.0 119.1 L188.2 126.9 M188.2 126.9 L194.2 126.0 L197.7 125.1 L201.2 127.7 L203.7 124.3 L205.5 119.9 L208.1 121.7 L211.5 124.3 L216.7 122.5 L220.2 124.3 L223.6 123.4 L228.8 124.3 L235.7 125.1 L241.2 127.2 L245.4 129.3 L248.5 133.4 L252.6 138.6 L256.8 142.8 L260.9 146.9 L264.0 151.1 M264.0 151.1 L260.9 156.3 L257.8 160.4 L257.3 165.6 L256.8 169.7 L262.0 169.7 L268.2 169.2 L271.3 170.8 L273.4 166.6 L275.5 163.5 M271.3 170.8 L269.2 173.9 L271.3 180.1 L274.4 184.3 L277.5 189.5 L280.6 192.6 L285.8 195.7 L293.1 198.8 L301.4 201.9 L308.7 205.0 L313.9 207.1 L324.2 208.7 L336.7 208.7 L332.5 213.3 L326.3 219.6 L320.1 225.8 L313.9 232.0 L307.6 238.3 L306.6 240.7 L299.1 248.2 L291.2 248.1 L284.9 248.1 L278.7 250.2 L273.5 252.8 L270.4 256.9 L263.1 258.0 L260.0 258.5 L257.9 261.6 M188.2 126.9 L187.3 134.7 L185.6 143.3 L182.1 147.6 L176.9 150.2 L173.5 155.4 L170.0 162.3 L166.6 169.2 L163.1 172.7 L159.6 176.2 L157.9 183.1 L157.0 190.0 M30.4 199.4 L34.5 188.2 L40.7 178.6 L49.0 177.5 L53.2 182.7 L59.4 189.0 L67.7 188.0 L76.0 188.0 L76.5 180.7 L90.6 180.7 L91.0 187.0 L96.8 182.8 L103.0 179.0 L109.3 182.8 L115.5 187.0 L123.8 180.7 L130.0 172.4 L132.1 166.1 L132.1 157.8 L138.4 157.8 L139.4 153.7 L146.7 154.7 L147.1 170.3 L152.9 178.6 L156.0 182.8 L157.0 190.0 M157.0 190.0 L156.2 200.4 L145.8 203.8 L143.2 209.0 L145.8 212.5 L152.7 214.2 L157.9 217.7 L163.1 222.9 L166.6 228.1 L170.0 235.0 L171.7 241.9 M171.7 241.9 L176.9 242.8 L179.5 245.4 L180.4 252.3 L183.9 254.0 L192.8 257.7 L201.2 260.5 L211.2 265.5 L214.8 265.2 L219.0 267.3 L223.7 267.6 L227.3 267.8 L232.5 262.1 L235.6 260.3 L240.3 258.5 L243.9 257.4 L249.1 261.3 L256.9 261.3 L257.9 261.6 M171.7 241.9 L168.3 245.4 L163.1 248.8 L157.9 254.0 L157.0 258.0 M117.0 265.5 L120.3 264.4 L128.9 263.4 L137.6 262.3 L146.2 260.1 L154.9 259.0 L157.0 258.0 M157.0 258.0 L158.7 261.0 L162.3 269.1 L168.0 280.5 L169.0 288.2 L166.2 295.8 L162.3 301.5 L156.6 307.2 L155.7 309.0 L155.7 325.4 M155.7 325.4 L112.7 325.4 L107.3 327.1 L100.8 327.1 M112.7 325.4 L114.9 331.5 L114.9 340.1 L112.7 343.4 L104.0 344.4 L94.3 348.8 L90.0 344.4 M112.7 343.4 L114.9 349.8 L113.8 356.3 L108.4 362.8 L103.0 367.1 L98.7 370.4 M155.7 325.4 L200.4 351.0 L204.2 355.7 L223.4 372.6 M253.7 332.0 L248.0 324.3 L246.5 309.0 L246.5 292.0 L246.5 276.1 L251.7 270.9 L255.3 265.2 L257.9 261.6 M1.2 259.0 L7.8 252.5 L16.5 250.4 L25.1 248.2 L31.6 247.1 L38.1 246.1 L43.5 243.9 L51.1 245.0 L59.7 245.0 L68.4 242.5 M113.9 419.7 L109.8 419.7 L99.8 420.7 L91.7 422.2 L89.7 426.3 L86.7 430.3 L83.2 432.3 L84.7 435.3 L85.7 442.4 L85.2 448.4 L84.2 454.4 L83.2 462.5 L85.7 467.5 L89.7 471.5 L93.8 473.5 L96.8 473.0 L97.3 471.0 L101.3 470.5 L101.6 478.0 M142.5 436.8 L146.1 439.3 L149.1 444.4 L151.1 450.4 L147.1 454.4 L147.1 460.5 L146.1 467.5 L148.1 472.5 L145.1 476.6 L143.1 478.0 M169.2 462.5 L164.2 462.5 L162.2 468.5 L162.2 478.0 M1.2 440.3 L3.7 444.4 L4.2 450.4 L3.2 456.4 L5.2 457.4 L11.3 456.4 L18.3 454.4 L25.4 454.4 L29.4 456.4 L30.4 460.5 L35.4 459.5 L41.4 458.5 L42.5 460.5 L43.5 464.5 L49.5 466.5 L55.5 467.5 L61.6 467.0 L65.6 464.5 L67.6 463.5 L69.6 467.5 L71.6 470.5 L75.7 471.5 L79.7 473.5 L83.7 475.5 L84.7 478.0 M26.2 454.4 L25.9 462.5 L26.4 472.5 L25.4 478.0 M239.6 448.3 L241.3 455.4 L240.2 465.8 L241.3 478.0 M220.0 88.0 L220.2 94.9 L225.4 103.5 L230.6 110.4 L235.7 115.6 L242.7 120.8 L247.4 122.0 L251.6 126.2 L256.8 131.3 L262.0 135.5 L266.1 140.7 L269.2 143.8 L272.3 146.9 L275.5 149.0 L277.5 152.1 L278.0 155.2 L276.5 157.3 L274.4 158.8 L271.3 159.4 L268.2 161.4 L266.1 163.0 L268.2 164.6 L272.3 163.5 L275.5 163.5 L278.6 165.6 L281.7 169.7 L284.8 173.9 L288.9 177.0 L295.2 177.0 L299.3 176.0 L303.5 173.9 L308.7 171.8 L313.9 172.9 L319.1 171.8 L324.2 169.7 L328.4 167.7 L332.5 167.7 L336.7 166.6 L340.8 165.6 L345.0 165.6 L350.2 164.6 L355.4 163.5 L360.6 162.5 L365.8 161.4 L369.9 160.4 L372.0 158.3 L375.1 157.3 L379.3 158.3 L380.3 161.4 L379.8 165.6 L378.2 169.7 L377.7 176.0 L377.2 178.1 L375.1 182.2 L373.0 188.4 L370.9 194.7 L367.8 200.9 L364.7 206.1 L361.6 210.2 L359.5 215.4 L356.4 221.6 L353.3 226.8 L350.2 233.1 L345.6 240.7 L336.9 253.6 L328.3 264.4 L317.4 275.3 L306.6 283.9 L295.8 290.4 L285.0 299.0 L274.2 309.9 L265.5 318.5 L256.9 327.2 L252.6 333.6 L246.1 340.1 L239.6 344.5 L235.3 350.9 L233.1 357.4 L229.9 363.9 L224.5 372.6 L223.7 373.4 L219.5 386.9 L218.5 392.1 L222.6 399.4 L226.8 403.5 L224.7 410.8 L224.7 419.1 L226.8 424.3 L228.8 432.6 L230.9 440.9 L237.2 445.0 L239.6 448.3 M239.6 448.3 L230.9 452.6 L224.5 456.9 L213.6 459.1 L202.8 461.2 L192.3 464.0 L186.2 464.5 L182.2 462.5 L178.2 461.5 L169.2 462.5 M169.2 462.5 L166.2 458.5 L164.2 452.4 L163.2 445.4 L160.2 440.3 L156.1 436.8 L148.1 436.8 L142.0 436.3 L136.0 433.3 L130.0 430.3 L123.9 426.3 L117.9 423.2 L113.9 418.2 L110.9 410.2 L107.8 404.1 L103.8 400.1 L99.8 395.1 L98.8 388.0 L98.7 381.2 L97.6 374.7 L98.7 370.4 L96.5 368.2 L94.3 359.6 L94.3 353.1 L92.2 349.8 L90.0 344.4 L94.3 333.6 L100.8 327.1 L99.7 325.0 L100.8 318.5 L103.0 305.5 L107.3 299.0 L113.8 292.5 L119.2 286.1 L116.0 281.7 L113.8 273.1 L117.0 265.5 L113.8 264.4 L107.3 262.3 L100.8 260.1 L94.3 255.8 L87.8 253.6 L81.4 252.5 L74.9 247.1 L68.4 240.6 L63.6 236.8 L59.4 230.5 L53.2 224.3 L47.0 218.1 L40.7 211.8 L32.4 205.6 L30.4 199.4 M30.4 199.4 L26.2 199.4 L20.0 198.3 L18.9 195.2 L20.0 186.9 L20.0 180.7 L15.8 176.5 L11.7 172.4 L9.6 166.1 L7.5 162.0 L7.0 161.2 L4.9 154.1 L4.9 147.0 L3.5 141.3 L1.3 138.5 L2.0 132.8 L5.6 130.0 L4.9 125.7 L5.6 122.9 L9.1 121.5 L9.8 117.2 L12.7 111.5 L13.4 113.0 M25.5 108.0 L13.4 108.7 L12.7 111.5" fill="none" stroke="#2a2a2a" stroke-width="1.1" stroke-linejoin="round"/>
<path d="M228.2 100.5 L231.2 99.5 L234.2 101.0 L238.2 104.0 L242.2 106.5 L244.2 109.0 L243.2 112.0 L239.2 112.5 L235.2 110.5 L231.2 109.0 L228.2 105.5Z" fill="#111"/><path d="M234.2 114.0 L237.2 114.5 L241.2 117.0 L245.2 119.5 L246.2 121.5 L242.2 120.0 L237.2 118.0 L233.7 116.0Z" fill="#111"/><path d="M254.2 92.0 L256.7 90.5 L259.7 92.0 L262.2 94.5 L261.7 97.0 L258.2 96.5 L255.2 95.0Z" fill="#111"/><ellipse transform="translate(226.2 99.0) rotate(0.0)" rx="1.0" ry="1.0" fill="#111"/><ellipse transform="translate(227.7 103.5) rotate(0.0)" rx="1.2" ry="1.0" fill="#111"/><ellipse transform="translate(229.2 97.5) rotate(0.0)" rx="0.8" ry="0.8" fill="#111"/><ellipse transform="translate(234.7 98.5) rotate(0.0)" rx="0.9" ry="0.9" fill="#111"/><ellipse transform="translate(246.2 110.0) rotate(0.0)" rx="0.8" ry="0.8" fill="#111"/><ellipse transform="translate(249.7 114.5) rotate(0.0)" rx="0.7" ry="0.7" fill="#111"/><ellipse transform="translate(263.2 100.5) rotate(0.0)" rx="2.0" ry="1.2" fill="#111"/><ellipse transform="translate(259.2 99.5) rotate(0.0)" rx="0.8" ry="0.8" fill="#111"/><ellipse transform="translate(267.7 113.0) rotate(0.0)" rx="1.2" ry="1.5" fill="#111"/><ellipse transform="translate(268.7 132.0) rotate(0.0)" rx="1.0" ry="2.5" fill="#111"/><ellipse transform="translate(267.2 136.0) rotate(0.0)" rx="0.6" ry="1.5" fill="#111"/><ellipse transform="translate(247.7 117.0) rotate(0.0)" rx="0.7" ry="0.7" fill="#111"/><ellipse transform="translate(247.7 73.5) rotate(0.0)" rx="0.8" ry="0.8" fill="#111"/><ellipse transform="translate(251.7 81.5) rotate(0.0)" rx="0.7" ry="0.7" fill="#111"/><ellipse transform="translate(257.7 110.5) rotate(0.0)" rx="0.8" ry="0.8" fill="#111"/><ellipse cx="265.7" cy="109.5" rx="2" ry="1.6" fill="none" stroke="#111" stroke-width="1"/><path d="M228.7 375.5 L231.7 376.0 L233.0 379.0 L232.2 383.0 L229.7 384.0 L228.2 381.0Z" fill="#111"/><path d="M223.2 387.5 L225.7 387.0 L227.7 391.0 L228.2 395.5 L226.2 396.0 L223.7 393.0 L222.7 390.0Z" fill="#9cd070" stroke="#111" stroke-width="1"/><path d="M228.2 411.0 L231.7 410.5 L232.7 413.0 L230.2 416.5 L228.2 415.0Z" fill="none" stroke="#111" stroke-width="1"/><path d="M275.7 460.0 L277.7 460.5 L279.2 464.5 L278.7 467.0 L276.2 466.5 L275.2 463.0Z" fill="none" stroke="#111" stroke-width="1"/><path d="M288.7 470.5 L291.7 469.5 L292.7 472.0 L290.2 473.5Z" fill="none" stroke="#111" stroke-width="1"/><ellipse transform="translate(282.0 472.5) rotate(0.0)" rx="1.5" ry="1.2" fill="#111"/><ellipse transform="translate(316.5 434.6) rotate(0.0)" rx="1.6" ry="0.9" fill="#111"/><ellipse transform="translate(318.2 439.3) rotate(0.0)" rx="0.7" ry="0.7" fill="#111"/><ellipse transform="translate(332.2 438.8) rotate(0.0)" rx="0.9" ry="0.8" fill="#111"/><ellipse transform="translate(334.2 443.0) rotate(0.0)" rx="0.8" ry="0.8" fill="#111"/><ellipse transform="translate(328.0 462.7) rotate(0.0)" rx="0.6" ry="0.6" fill="#111"/><ellipse transform="translate(373.2 433.6) rotate(0.0)" rx="0.6" ry="0.6" fill="#111"/><ellipse transform="translate(376.8 432.6) rotate(0.0)" rx="0.6" ry="0.6" fill="#111"/><ellipse transform="translate(378.2 444.5) rotate(0.0)" rx="0.9" ry="0.8" fill="#111"/><ellipse transform="translate(230.7 402.0) rotate(0.0)" rx="0.6" ry="0.6" fill="#111"/><ellipse transform="translate(229.2 414.0) rotate(0.0)" rx="0.5" ry="0.5" fill="#111"/><path d="M346.2 479.0 L347.2 476.0 L349.2 472.0 L353.4 467.9 L355.5 470.0 L357.2 473.0 L358.6 479.0" fill="none" stroke="#111" stroke-width="1.1"/>
</g>
<rect x="0" y="0" width="381.6" height="480.0" fill="none" stroke="#000" stroke-width="3"/>
<path d="M38.6 480.0 V499.0 M103.6 480.0 V499.0 M168.6 480.0 V499.0 M233.6 480.0 V499.0 M298.6 480.0 V499.0 M363.6 480.0 V499.0 M0 53.0 H-18 M0 117.9 H-18 M0 182.8 H-18 M0 247.7 H-18 M0 312.6 H-18 M0 377.5 H-18 M0 442.4 H-18" stroke="#000" stroke-width="3" fill="none"/>
<text transform="translate(-21 53.0) rotate(-90)" text-anchor="middle" font-family="'Liberation Sans', Arial, Helvetica, sans-serif" font-size="32">20</text>
<text transform="translate(-21 117.9) rotate(-90)" text-anchor="middle" font-family="'Liberation Sans', Arial, Helvetica, sans-serif" font-size="32">15</text>
<text transform="translate(-21 182.8) rotate(-90)" text-anchor="middle" font-family="'Liberation Sans', Arial, Helvetica, sans-serif" font-size="32">10</text>
<text transform="translate(-21 247.7) rotate(-90)" text-anchor="middle" font-family="'Liberation Sans', Arial, Helvetica, sans-serif" font-size="32">5</text>
<text transform="translate(-21 312.6) rotate(-90)" text-anchor="middle" font-family="'Liberation Sans', Arial, Helvetica, sans-serif" font-size="32">0</text>
<text transform="translate(-21 442.4) rotate(-90)" text-anchor="middle" font-family="'Liberation Sans', Arial, Helvetica, sans-serif" font-size="32">−10</text>
<text x="38.6" y="522.6" text-anchor="middle" font-family="'Liberation Sans', Arial, Helvetica, sans-serif" font-size="32">25</text>
<text x="103.6" y="522.6" text-anchor="middle" font-family="'Liberation Sans', Arial, Helvetica, sans-serif" font-size="32">30</text>
<text x="168.6" y="522.6" text-anchor="middle" font-family="'Liberation Sans', Arial, Helvetica, sans-serif" font-size="32">35</text>
<text x="233.6" y="522.6" text-anchor="middle" font-family="'Liberation Sans', Arial, Helvetica, sans-serif" font-size="32">40</text>
<text x="298.6" y="522.6" text-anchor="middle" font-family="'Liberation Sans', Arial, Helvetica, sans-serif" font-size="32">45</text>
<text x="363.6" y="522.6" text-anchor="middle" font-family="'Liberation Sans', Arial, Helvetica, sans-serif" font-size="32">50</text>
<text x="190.8" y="-25.1" text-anchor="middle" font-family="'Liberation Sans', Arial, Helvetica, sans-serif" font-size="38">Noah−SSEBop</text>
<text x="-41.2" y="-13.4" font-family="'Liberation Sans', Arial, Helvetica, sans-serif" font-size="35.5" font-weight="bold">E</text>
</g>
<g transform="translate(579.05 627.30)">
<g clip-path="url(#frm)">
<g clip-path="url(#dom)"><g filter="url(#bl6)"><path d="M-19.2 -7.7 L409.2 -7.7 L409.2 506.4 L-19.2 506.4Z" fill="#f9f1ea"/><ellipse transform="translate(21.5 146.5) rotate(0.0)" rx="19.3" ry="13.7" fill="#b9e0b4"/><ellipse transform="translate(100.8 155.1) rotate(0.0)" rx="51.4" ry="19.3" fill="#cdeac8"/><ellipse transform="translate(150.0 163.7) rotate(0.0)" rx="15.0" ry="21.4" fill="#a0d79c"/><path d="M6.5 159.4 L53.6 172.2 L109.3 178.7 L122.2 193.7 L66.5 193.7 L19.4 193.7Z" fill="#eebf92"/><ellipse transform="translate(40.8 180.8) rotate(0.0)" rx="23.6" ry="10.7" fill="#e6ac78"/><ellipse transform="translate(92.2 185.1) rotate(0.0)" rx="25.7" ry="8.6" fill="#f2d6bc"/><ellipse transform="translate(182.2 99.4) rotate(0.0)" rx="19.3" ry="15.0" fill="#f3d2b2"/><path d="M30.1 193.7 L109.3 193.7 L122.2 232.2 L117.9 262.2 L83.6 257.9 L45.1 223.7Z" fill="#f2cfac"/><ellipse transform="translate(79.3 232.2) rotate(30.0)" rx="30.0" ry="15.0" fill="#ebbb8e"/><ellipse transform="translate(143.6 219.4) rotate(0.0)" rx="19.3" ry="30.0" fill="#d7ecd2"/><path d="M165.0 146.5 L192.9 133.7 L192.9 249.4 L169.3 249.4Z" fill="#f5dcc6"/><ellipse transform="translate(252.9 172.2) rotate(0.0)" rx="23.6" ry="27.8" fill="#c2e3bc"/><ellipse transform="translate(212.2 245.1) rotate(0.0)" rx="32.1" ry="19.3" fill="#d0eaca"/><ellipse transform="translate(212.2 191.5) rotate(0.0)" rx="32.1" ry="55.7" fill="#8fcf8c"/><ellipse transform="translate(182.2 232.2) rotate(0.0)" rx="12.9" ry="17.1" fill="#b8e0b2"/><path d="M190.7 86.6 L220.7 95.1 L280.7 150.8 L289.3 172.2 L259.3 176.5 L220.7 133.7 L190.7 120.8Z" fill="#f5e0cc"/><path d="M237.9 202.2 L280.7 198.0 L332.1 208.7 L306.4 249.4 L255.0 262.2 L237.9 249.4Z" fill="#ebb583"/><ellipse transform="translate(306.4 206.5) rotate(0.0)" rx="21.4" ry="7.7" fill="#f6e4d4"/><path d="M272.1 161.5 L379.3 159.4 L366.4 206.5 L332.1 223.7 L280.7 193.7Z" fill="#fbf6f1"/><path d="M272.1 161.5 L379.3 159.4 L381.4 172.2 L272.1 174.4Z" fill="#f3d2b0"/><ellipse transform="translate(323.6 232.2) rotate(0.0)" rx="25.7" ry="17.1" fill="#f6e6d8"/><path d="M242.2 249.4 L280.7 249.4 L323.6 249.4 L342.8 251.5 L315.0 292.2 L280.7 330.8 L246.4 347.9 L237.9 292.2Z" fill="#b77a48"/><ellipse transform="translate(315.0 275.1) rotate(30.0)" rx="17.1" ry="21.4" fill="#d79c68"/><path d="M203.6 257.9 L242.2 257.9 L242.2 352.2 L220.7 369.3 L203.6 352.2Z" fill="#e3aa78"/><ellipse transform="translate(233.6 326.5) rotate(0.0)" rx="10.7" ry="19.3" fill="#c07c48"/><ellipse transform="translate(182.2 313.6) rotate(0.0)" rx="23.6" ry="32.1" fill="#9fd89c"/><ellipse transform="translate(182.2 270.8) rotate(0.0)" rx="17.1" ry="12.9" fill="#f4dcc4"/><ellipse transform="translate(139.3 277.2) rotate(0.0)" rx="25.7" ry="19.3" fill="#f2d4b6"/><ellipse transform="translate(113.6 311.5) rotate(0.0)" rx="15.0" ry="12.9" fill="#cfe9ca"/><ellipse transform="translate(165.0 354.3) rotate(0.0)" rx="40.7" ry="21.4" fill="#a8dca4"/><path d="M96.5 373.6 L225.0 373.6 L237.9 455.0 L165.0 463.6 L109.3 420.7Z" fill="#f2d0b0"/><ellipse transform="translate(126.5 399.3) rotate(-20.0)" rx="23.6" ry="19.3" fill="#ecb98a"/><ellipse transform="translate(143.6 425.0) rotate(0.0)" rx="21.4" ry="15.0" fill="#cde9c6"/><ellipse transform="translate(169.3 390.8) rotate(0.0)" rx="25.7" ry="12.9" fill="#f9f1ea"/><ellipse transform="translate(199.3 437.9) rotate(0.0)" rx="25.7" ry="19.3" fill="#ebb98a"/><ellipse transform="translate(220.7 399.3) rotate(0.0)" rx="10.7" ry="21.4" fill="#e6ad7a"/><ellipse transform="translate(102.9 350.1) rotate(0.0)" rx="10.7" ry="19.3" fill="#a3d9a0"/><ellipse transform="translate(117.9 399.3) rotate(-20.0)" rx="25.7" ry="23.6" fill="#e8a870"/><ellipse transform="translate(160.7 377.9) rotate(0.0)" rx="17.1" ry="12.9" fill="#f0c8a4"/><ellipse transform="translate(182.2 206.5) rotate(0.0)" rx="17.1" ry="38.6" fill="#a8dca4"/><ellipse transform="translate(135.0 287.9) rotate(0.0)" rx="25.7" ry="21.4" fill="#d4ecd0"/><ellipse transform="translate(186.5 420.7) rotate(0.0)" rx="21.4" ry="17.1" fill="#9ad698"/><ellipse transform="translate(160.7 446.5) rotate(0.0)" rx="17.1" ry="10.7" fill="#b8e0b4"/></g><g filter="url(#bl3)"><ellipse transform="translate(214.3 185.1) rotate(0.0)" rx="19.3" ry="45.0" fill="#2e9a46"/><ellipse transform="translate(205.7 221.5) rotate(0.0)" rx="18.0" ry="21.4" fill="#2e9a46"/><ellipse transform="translate(195.0 172.2) rotate(0.0)" rx="8.6" ry="21.4" fill="#6cc06c"/><ellipse transform="translate(182.2 317.9) rotate(0.0)" rx="15.0" ry="23.6" fill="#52b455"/><ellipse transform="translate(169.3 350.1) rotate(0.0)" rx="23.6" ry="12.9" fill="#52b455"/><ellipse transform="translate(102.9 347.9) rotate(0.0)" rx="6.9" ry="13.7" fill="#5ab858"/><path d="M248.6 260.1 L280.7 253.7 L321.4 260.1 L306.4 287.9 L280.7 317.9 L263.6 335.1 L250.7 330.8Z" fill="#98582a"/><path d="M249.9 292.2 L267.9 270.8 L280.7 283.6 L264.4 322.2 L255.0 335.1 L248.6 326.5Z" fill="#6a3418"/><ellipse transform="translate(289.3 268.6) rotate(-10.0)" rx="12.0" ry="6.9" fill="#6e3618"/><ellipse transform="translate(259.3 236.5) rotate(20.0)" rx="12.0" ry="7.7" fill="#8a4a20"/><ellipse transform="translate(280.7 217.2) rotate(0.0)" rx="6.0" ry="4.3" fill="#9a5a28"/><ellipse transform="translate(235.7 326.5) rotate(0.0)" rx="6.0" ry="15.0" fill="#a86a38"/><path d="M104.6 190.2 L118.6 190.2 L120.3 204.2 L123.8 224.9 L127.2 245.7 L123.8 244.0 L116.8 228.4 L109.9 214.6 L106.5 204.2Z" fill="#5a2810"/><path d="M82.2 193.8 L96.1 197.3 L96.1 202.5 L85.7 200.7Z" fill="#6a3418"/><ellipse transform="translate(21.5 148.7) rotate(0.0)" rx="7.7" ry="6.0" fill="#5ab858"/><ellipse transform="translate(138.5 127.3) rotate(-15.0)" rx="5.1" ry="13.7" fill="#d48e58"/><ellipse transform="translate(362.1 170.5) rotate(0.0)" rx="4.3" ry="3.4" fill="#b87038"/><ellipse transform="translate(117.9 407.9) rotate(-25.0)" rx="7.7" ry="12.9" fill="#d08a50"/><ellipse transform="translate(195.0 442.2) rotate(0.0)" rx="15.0" ry="10.7" fill="#e0a06a"/><ellipse transform="translate(207.9 176.5) rotate(0.0)" rx="12.9" ry="25.7" fill="#1f7a3a"/><ellipse transform="translate(185.6 206.5) rotate(0.0)" rx="9.4" ry="25.7" fill="#3aa84a"/><ellipse transform="translate(182.2 425.0) rotate(0.0)" rx="10.7" ry="10.7" fill="#4cb050"/><path d="M125.6 312.8 L152.2 309.4 L154.3 330.8 L150.0 345.8 L130.8 345.8 L124.8 330.8Z" fill="#b06a30"/><path d="M100.8 377.9 L109.3 377.9 L122.2 416.5 L117.9 420.7 L105.1 403.6Z" fill="#7a3a18"/><ellipse transform="translate(122.2 412.2) rotate(0.0)" rx="12.9" ry="12.9" fill="#c07838"/></g><ellipse transform="translate(198.7 156.5) rotate(0.0)" rx="3.5" ry="3.0" fill="#0f3a1a"/><ellipse cx="198.7" cy="156.5" rx="4" ry="3.6" fill="none" stroke="#c07838" stroke-width="1.5"/></g>
<path d="M38.7 0.0 L38.7 52.6 M38.7 52.6 L25.5 52.6 L25.5 108.0 M1.3 47.0 L25.5 59.0 M1.2 170.5 L7.7 170.5 M38.7 27.2 L145.2 27.2 L147.6 29.1 L149.9 30.3 L155.3 30.3 L156.9 27.6 L157.7 24.9 L159.2 23.7 L163.9 22.9 L165.5 21.4 L167.8 16.7 L169.4 15.9 L171.7 16.3 L174.8 13.6 L177.2 11.6 M177.2 11.6 L175.6 8.9 L174.4 5.8 L174.8 2.7 L174.8 0.0 M177.2 11.6 L177.9 15.1 L181.0 17.5 L184.2 18.2 L187.3 21.4 L192.7 26.0 L193.5 29.1 L195.1 33.8 L198.2 38.5 L197.4 43.2 L197.0 48.6 L197.4 56.4 L198.9 62.6 L201.3 68.9 L205.2 71.2 L209.1 75.1 L213.7 77.4 L215.3 79.8 L217.6 83.7 L220.0 88.0 M208.2 0.0 L209.8 1.1 L213.7 4.2 L216.1 8.9 L219.2 13.6 L221.5 19.0 L221.5 22.9 L220.0 27.6 L221.5 31.5 L222.3 36.9 L224.6 40.8 L228.5 46.3 L230.9 49.0 L234.8 50.2 L240.2 54.1 L243.3 57.2 L246.4 61.9 L248.8 66.5 L250.3 71.2 L251.9 72.0 L253.8 76.8 L257.4 80.5 L262.2 84.7 L264.7 87.7 L267.1 91.4 L268.9 95.0 L269.5 98.0 L270.1 101.1 L269.5 105.9 L268.9 109.6 L269.5 113.2 L270.7 118.0 L271.9 122.9 L273.1 127.7 L274.3 132.6 L275.6 137.4 L276.2 142.0 L276.5 144.8 L277.5 146.9 L284.8 147.9 L291.0 146.9 L297.3 146.9 L303.5 142.8 L308.7 139.6 L315.9 138.6 L322.2 136.5 L328.4 134.5 L334.6 131.3 L340.8 129.3 L347.1 127.2 L353.3 124.1 L356.4 122.0 L361.8 119.4 L372.2 116.3 L381.2 115.0 M269.5 99.9 L273.7 96.2 L275.6 91.4 L275.6 85.9 L278.0 84.7 L281.6 86.5 L286.2 86.5 L297.5 86.2 L309.9 87.2 L322.4 89.3 L326.5 91.3 L330.7 87.2 L339.0 76.8 L347.3 72.7 L359.7 69.5 L372.2 68.5 L381.2 67.5 M220.0 88.0 L214.5 79.8 L213.0 82.1 L209.1 83.7 L205.2 85.2 L201.3 87.5 L196.0 90.5 L194.2 96.6 L192.5 103.5 L190.8 112.2 L189.0 119.1 L188.2 126.9 M188.2 126.9 L194.2 126.0 L197.7 125.1 L201.2 127.7 L203.7 124.3 L205.5 119.9 L208.1 121.7 L211.5 124.3 L216.7 122.5 L220.2 124.3 L223.6 123.4 L228.8 124.3 L235.7 125.1 L241.2 127.2 L245.4 129.3 L248.5 133.4 L252.6 138.6 L256.8 142.8 L260.9 146.9 L264.0 151.1 M264.0 151.1 L260.9 156.3 L257.8 160.4 L257.3 165.6 L256.8 169.7 L262.0 169.7 L268.2 169.2 L271.3 170.8 L273.4 166.6 L275.5 163.5 M271.3 170.8 L269.2 173.9 L271.3 180.1 L274.4 184.3 L277.5 189.5 L280.6 192.6 L285.8 195.7 L293.1 198.8 L301.4 201.9 L308.7 205.0 L313.9 207.1 L324.2 208.7 L336.7 208.7 L332.5 213.3 L326.3 219.6 L320.1 225.8 L313.9 232.0 L307.6 238.3 L306.6 240.7 L299.1 248.2 L291.2 248.1 L284.9 248.1 L278.7 250.2 L273.5 252.8 L270.4 256.9 L263.1 258.0 L260.0 258.5 L257.9 261.6 M188.2 126.9 L187.3 134.7 L185.6 143.3 L182.1 147.6 L176.9 150.2 L173.5 155.4 L170.0 162.3 L166.6 169.2 L163.1 172.7 L159.6 176.2 L157.9 183.1 L157.0 190.0 M30.4 199.4 L34.5 188.2 L40.7 178.6 L49.0 177.5 L53.2 182.7 L59.4 189.0 L67.7 188.0 L76.0 188.0 L76.5 180.7 L90.6 180.7 L91.0 187.0 L96.8 182.8 L103.0 179.0 L109.3 182.8 L115.5 187.0 L123.8 180.7 L130.0 172.4 L132.1 166.1 L132.1 157.8 L138.4 157.8 L139.4 153.7 L146.7 154.7 L147.1 170.3 L152.9 178.6 L156.0 182.8 L157.0 190.0 M157.0 190.0 L156.2 200.4 L145.8 203.8 L143.2 209.0 L145.8 212.5 L152.7 214.2 L157.9 217.7 L163.1 222.9 L166.6 228.1 L170.0 235.0 L171.7 241.9 M171.7 241.9 L176.9 242.8 L179.5 245.4 L180.4 252.3 L183.9 254.0 L192.8 257.7 L201.2 260.5 L211.2 265.5 L214.8 265.2 L219.0 267.3 L223.7 267.6 L227.3 267.8 L232.5 262.1 L235.6 260.3 L240.3 258.5 L243.9 257.4 L249.1 261.3 L256.9 261.3 L257.9 261.6 M171.7 241.9 L168.3 245.4 L163.1 248.8 L157.9 254.0 L157.0 258.0 M117.0 265.5 L120.3 264.4 L128.9 263.4 L137.6 262.3 L146.2 260.1 L154.9 259.0 L157.0 258.0 M157.0 258.0 L158.7 261.0 L162.3 269.1 L168.0 280.5 L169.0 288.2 L166.2 295.8 L162.3 301.5 L156.6 307.2 L155.7 309.0 L155.7 325.4 M155.7 325.4 L112.7 325.4 L107.3 327.1 L100.8 327.1 M112.7 325.4 L114.9 331.5 L114.9 340.1 L112.7 343.4 L104.0 344.4 L94.3 348.8 L90.0 344.4 M112.7 343.4 L114.9 349.8 L113.8 356.3 L108.4 362.8 L103.0 367.1 L98.7 370.4 M155.7 325.4 L200.4 351.0 L204.2 355.7 L223.4 372.6 M253.7 332.0 L248.0 324.3 L246.5 309.0 L246.5 292.0 L246.5 276.1 L251.7 270.9 L255.3 265.2 L257.9 261.6 M1.2 259.0 L7.8 252.5 L16.5 250.4 L25.1 248.2 L31.6 247.1 L38.1 246.1 L43.5 243.9 L51.1 245.0 L59.7 245.0 L68.4 242.5 M113.9 419.7 L109.8 419.7 L99.8 420.7 L91.7 422.2 L89.7 426.3 L86.7 430.3 L83.2 432.3 L84.7 435.3 L85.7 442.4 L85.2 448.4 L84.2 454.4 L83.2 462.5 L85.7 467.5 L89.7 471.5 L93.8 473.5 L96.8 473.0 L97.3 471.0 L101.3 470.5 L101.6 478.0 M142.5 436.8 L146.1 439.3 L149.1 444.4 L151.1 450.4 L147.1 454.4 L147.1 460.5 L146.1 467.5 L148.1 472.5 L145.1 476.6 L143.1 478.0 M169.2 462.5 L164.2 462.5 L162.2 468.5 L162.2 478.0 M1.2 440.3 L3.7 444.4 L4.2 450.4 L3.2 456.4 L5.2 457.4 L11.3 456.4 L18.3 454.4 L25.4 454.4 L29.4 456.4 L30.4 460.5 L35.4 459.5 L41.4 458.5 L42.5 460.5 L43.5 464.5 L49.5 466.5 L55.5 467.5 L61.6 467.0 L65.6 464.5 L67.6 463.5 L69.6 467.5 L71.6 470.5 L75.7 471.5 L79.7 473.5 L83.7 475.5 L84.7 478.0 M26.2 454.4 L25.9 462.5 L26.4 472.5 L25.4 478.0 M239.6 448.3 L241.3 455.4 L240.2 465.8 L241.3 478.0 M220.0 88.0 L220.2 94.9 L225.4 103.5 L230.6 110.4 L235.7 115.6 L242.7 120.8 L247.4 122.0 L251.6 126.2 L256.8 131.3 L262.0 135.5 L266.1 140.7 L269.2 143.8 L272.3 146.9 L275.5 149.0 L277.5 152.1 L278.0 155.2 L276.5 157.3 L274.4 158.8 L271.3 159.4 L268.2 161.4 L266.1 163.0 L268.2 164.6 L272.3 163.5 L275.5 163.5 L278.6 165.6 L281.7 169.7 L284.8 173.9 L288.9 177.0 L295.2 177.0 L299.3 176.0 L303.5 173.9 L308.7 171.8 L313.9 172.9 L319.1 171.8 L324.2 169.7 L328.4 167.7 L332.5 167.7 L336.7 166.6 L340.8 165.6 L345.0 165.6 L350.2 164.6 L355.4 163.5 L360.6 162.5 L365.8 161.4 L369.9 160.4 L372.0 158.3 L375.1 157.3 L379.3 158.3 L380.3 161.4 L379.8 165.6 L378.2 169.7 L377.7 176.0 L377.2 178.1 L375.1 182.2 L373.0 188.4 L370.9 194.7 L367.8 200.9 L364.7 206.1 L361.6 210.2 L359.5 215.4 L356.4 221.6 L353.3 226.8 L350.2 233.1 L345.6 240.7 L336.9 253.6 L328.3 264.4 L317.4 275.3 L306.6 283.9 L295.8 290.4 L285.0 299.0 L274.2 309.9 L265.5 318.5 L256.9 327.2 L252.6 333.6 L246.1 340.1 L239.6 344.5 L235.3 350.9 L233.1 357.4 L229.9 363.9 L224.5 372.6 L223.7 373.4 L219.5 386.9 L218.5 392.1 L222.6 399.4 L226.8 403.5 L224.7 410.8 L224.7 419.1 L226.8 424.3 L228.8 432.6 L230.9 440.9 L237.2 445.0 L239.6 448.3 M239.6 448.3 L230.9 452.6 L224.5 456.9 L213.6 459.1 L202.8 461.2 L192.3 464.0 L186.2 464.5 L182.2 462.5 L178.2 461.5 L169.2 462.5 M169.2 462.5 L166.2 458.5 L164.2 452.4 L163.2 445.4 L160.2 440.3 L156.1 436.8 L148.1 436.8 L142.0 436.3 L136.0 433.3 L130.0 430.3 L123.9 426.3 L117.9 423.2 L113.9 418.2 L110.9 410.2 L107.8 404.1 L103.8 400.1 L99.8 395.1 L98.8 388.0 L98.7 381.2 L97.6 374.7 L98.7 370.4 L96.5 368.2 L94.3 359.6 L94.3 353.1 L92.2 349.8 L90.0 344.4 L94.3 333.6 L100.8 327.1 L99.7 325.0 L100.8 318.5 L103.0 305.5 L107.3 299.0 L113.8 292.5 L119.2 286.1 L116.0 281.7 L113.8 273.1 L117.0 265.5 L113.8 264.4 L107.3 262.3 L100.8 260.1 L94.3 255.8 L87.8 253.6 L81.4 252.5 L74.9 247.1 L68.4 240.6 L63.6 236.8 L59.4 230.5 L53.2 224.3 L47.0 218.1 L40.7 211.8 L32.4 205.6 L30.4 199.4 M30.4 199.4 L26.2 199.4 L20.0 198.3 L18.9 195.2 L20.0 186.9 L20.0 180.7 L15.8 176.5 L11.7 172.4 L9.6 166.1 L7.5 162.0 L7.0 161.2 L4.9 154.1 L4.9 147.0 L3.5 141.3 L1.3 138.5 L2.0 132.8 L5.6 130.0 L4.9 125.7 L5.6 122.9 L9.1 121.5 L9.8 117.2 L12.7 111.5 L13.4 113.0 M25.5 108.0 L13.4 108.7 L12.7 111.5" fill="none" stroke="#2a2a2a" stroke-width="1.1" stroke-linejoin="round"/>
<path d="M228.2 100.5 L231.2 99.5 L234.2 101.0 L238.2 104.0 L242.2 106.5 L244.2 109.0 L243.2 112.0 L239.2 112.5 L235.2 110.5 L231.2 109.0 L228.2 105.5Z" fill="#111"/><path d="M234.2 114.0 L237.2 114.5 L241.2 117.0 L245.2 119.5 L246.2 121.5 L242.2 120.0 L237.2 118.0 L233.7 116.0Z" fill="#111"/><path d="M254.2 92.0 L256.7 90.5 L259.7 92.0 L262.2 94.5 L261.7 97.0 L258.2 96.5 L255.2 95.0Z" fill="#111"/><ellipse transform="translate(226.2 99.0) rotate(0.0)" rx="1.0" ry="1.0" fill="#111"/><ellipse transform="translate(227.7 103.5) rotate(0.0)" rx="1.2" ry="1.0" fill="#111"/><ellipse transform="translate(229.2 97.5) rotate(0.0)" rx="0.8" ry="0.8" fill="#111"/><ellipse transform="translate(234.7 98.5) rotate(0.0)" rx="0.9" ry="0.9" fill="#111"/><ellipse transform="translate(246.2 110.0) rotate(0.0)" rx="0.8" ry="0.8" fill="#111"/><ellipse transform="translate(249.7 114.5) rotate(0.0)" rx="0.7" ry="0.7" fill="#111"/><ellipse transform="translate(263.2 100.5) rotate(0.0)" rx="2.0" ry="1.2" fill="#111"/><ellipse transform="translate(259.2 99.5) rotate(0.0)" rx="0.8" ry="0.8" fill="#111"/><ellipse transform="translate(267.7 113.0) rotate(0.0)" rx="1.2" ry="1.5" fill="#111"/><ellipse transform="translate(268.7 132.0) rotate(0.0)" rx="1.0" ry="2.5" fill="#111"/><ellipse transform="translate(267.2 136.0) rotate(0.0)" rx="0.6" ry="1.5" fill="#111"/><ellipse transform="translate(247.7 117.0) rotate(0.0)" rx="0.7" ry="0.7" fill="#111"/><ellipse transform="translate(247.7 73.5) rotate(0.0)" rx="0.8" ry="0.8" fill="#111"/><ellipse transform="translate(251.7 81.5) rotate(0.0)" rx="0.7" ry="0.7" fill="#111"/><ellipse transform="translate(257.7 110.5) rotate(0.0)" rx="0.8" ry="0.8" fill="#111"/><ellipse cx="265.7" cy="109.5" rx="2" ry="1.6" fill="none" stroke="#111" stroke-width="1"/><path d="M228.7 375.5 L231.7 376.0 L233.0 379.0 L232.2 383.0 L229.7 384.0 L228.2 381.0Z" fill="#111"/><path d="M223.2 387.5 L225.7 387.0 L227.7 391.0 L228.2 395.5 L226.2 396.0 L223.7 393.0 L222.7 390.0Z" fill="#9cd070" stroke="#111" stroke-width="1"/><path d="M228.2 411.0 L231.7 410.5 L232.7 413.0 L230.2 416.5 L228.2 415.0Z" fill="none" stroke="#111" stroke-width="1"/><path d="M275.7 460.0 L277.7 460.5 L279.2 464.5 L278.7 467.0 L276.2 466.5 L275.2 463.0Z" fill="none" stroke="#111" stroke-width="1"/><path d="M288.7 470.5 L291.7 469.5 L292.7 472.0 L290.2 473.5Z" fill="none" stroke="#111" stroke-width="1"/><ellipse transform="translate(282.0 472.5) rotate(0.0)" rx="1.5" ry="1.2" fill="#111"/><ellipse transform="translate(316.5 434.6) rotate(0.0)" rx="1.6" ry="0.9" fill="#111"/><ellipse transform="translate(318.2 439.3) rotate(0.0)" rx="0.7" ry="0.7" fill="#111"/><ellipse transform="translate(332.2 438.8) rotate(0.0)" rx="0.9" ry="0.8" fill="#111"/><ellipse transform="translate(334.2 443.0) rotate(0.0)" rx="0.8" ry="0.8" fill="#111"/><ellipse transform="translate(328.0 462.7) rotate(0.0)" rx="0.6" ry="0.6" fill="#111"/><ellipse transform="translate(373.2 433.6) rotate(0.0)" rx="0.6" ry="0.6" fill="#111"/><ellipse transform="translate(376.8 432.6) rotate(0.0)" rx="0.6" ry="0.6" fill="#111"/><ellipse transform="translate(378.2 444.5) rotate(0.0)" rx="0.9" ry="0.8" fill="#111"/><ellipse transform="translate(230.7 402.0) rotate(0.0)" rx="0.6" ry="0.6" fill="#111"/><ellipse transform="translate(229.2 414.0) rotate(0.0)" rx="0.5" ry="0.5" fill="#111"/><path d="M346.2 479.0 L347.2 476.0 L349.2 472.0 L353.4 467.9 L355.5 470.0 L357.2 473.0 L358.6 479.0" fill="none" stroke="#111" stroke-width="1.1"/>
</g>
<rect x="0" y="0" width="381.6" height="480.0" fill="none" stroke="#000" stroke-width="3"/>
<path d="M38.6 480.0 V499.0 M103.6 480.0 V499.0 M168.6 480.0 V499.0 M233.6 480.0 V499.0 M298.6 480.0 V499.0 M363.6 480.0 V499.0 M0 53.0 H-18 M0 117.9 H-18 M0 182.8 H-18 M0 247.7 H-18 M0 312.6 H-18 M0 377.5 H-18 M0 442.4 H-18" stroke="#000" stroke-width="3" fill="none"/>
<text x="38.6" y="522.6" text-anchor="middle" font-family="'Liberation Sans', Arial, Helvetica, sans-serif" font-size="32">25</text>
<text x="103.6" y="522.6" text-anchor="middle" font-family="'Liberation Sans', Arial, Helvetica, sans-serif" font-size="32">30</text>
<text x="168.6" y="522.6" text-anchor="middle" font-family="'Liberation Sans', Arial, Helvetica, sans-serif" font-size="32">35</text>
<text x="233.6" y="522.6" text-anchor="middle" font-family="'Liberation Sans', Arial, Helvetica, sans-serif" font-size="32">40</text>
<text x="298.6" y="522.6" text-anchor="middle" font-family="'Liberation Sans', Arial, Helvetica, sans-serif" font-size="32">45</text>
<text x="363.6" y="522.6" text-anchor="middle" font-family="'Liberation Sans', Arial, Helvetica, sans-serif" font-size="32">50</text>
<text x="190.8" y="-25.1" text-anchor="middle" font-family="'Liberation Sans', Arial, Helvetica, sans-serif" font-size="38">VIC−SSEBop</text>
<text x="-20.0" y="-13.4" font-family="'Liberation Sans', Arial, Helvetica, sans-serif" font-size="35.5" font-weight="bold">F</text>
</g>
<g transform="translate(1029.30 627.30)">
<g clip-path="url(#frm)">
<g clip-path="url(#dom)"><g filter="url(#bl6)"><path d="M-19.2 -7.7 L409.2 -7.7 L409.2 506.4 L-19.2 506.4Z" fill="#f9f1ea"/><ellipse transform="translate(21.5 146.5) rotate(0.0)" rx="19.3" ry="13.7" fill="#b9e0b4"/><ellipse transform="translate(100.8 155.1) rotate(0.0)" rx="51.4" ry="19.3" fill="#cdeac8"/><ellipse transform="translate(150.0 163.7) rotate(0.0)" rx="15.0" ry="21.4" fill="#a0d79c"/><path d="M6.5 159.4 L53.6 172.2 L109.3 178.7 L122.2 193.7 L66.5 193.7 L19.4 193.7Z" fill="#eebf92"/><ellipse transform="translate(40.8 180.8) rotate(0.0)" rx="23.6" ry="10.7" fill="#e6ac78"/><ellipse transform="translate(92.2 185.1) rotate(0.0)" rx="25.7" ry="8.6" fill="#f2d6bc"/><ellipse transform="translate(182.2 99.4) rotate(0.0)" rx="19.3" ry="15.0" fill="#f3d2b2"/><path d="M30.1 193.7 L109.3 193.7 L122.2 232.2 L117.9 262.2 L83.6 257.9 L45.1 223.7Z" fill="#f2cfac"/><ellipse transform="translate(79.3 232.2) rotate(30.0)" rx="30.0" ry="15.0" fill="#ebbb8e"/><ellipse transform="translate(143.6 219.4) rotate(0.0)" rx="19.3" ry="30.0" fill="#d7ecd2"/><path d="M165.0 146.5 L192.9 133.7 L192.9 249.4 L169.3 249.4Z" fill="#f5dcc6"/><ellipse transform="translate(252.9 172.2) rotate(0.0)" rx="23.6" ry="27.8" fill="#c2e3bc"/><ellipse transform="translate(212.2 245.1) rotate(0.0)" rx="32.1" ry="19.3" fill="#d0eaca"/><ellipse transform="translate(212.2 191.5) rotate(0.0)" rx="32.1" ry="55.7" fill="#8fcf8c"/><ellipse transform="translate(182.2 232.2) rotate(0.0)" rx="12.9" ry="17.1" fill="#b8e0b2"/><path d="M190.7 86.6 L220.7 95.1 L280.7 150.8 L289.3 172.2 L259.3 176.5 L220.7 133.7 L190.7 120.8Z" fill="#f5e0cc"/><path d="M237.9 202.2 L280.7 198.0 L332.1 208.7 L306.4 249.4 L255.0 262.2 L237.9 249.4Z" fill="#ebb583"/><ellipse transform="translate(306.4 206.5) rotate(0.0)" rx="21.4" ry="7.7" fill="#f6e4d4"/><path d="M272.1 161.5 L379.3 159.4 L366.4 206.5 L332.1 223.7 L280.7 193.7Z" fill="#fbf6f1"/><path d="M272.1 161.5 L379.3 159.4 L381.4 172.2 L272.1 174.4Z" fill="#f3d2b0"/><ellipse transform="translate(323.6 232.2) rotate(0.0)" rx="25.7" ry="17.1" fill="#f6e6d8"/><path d="M242.2 249.4 L280.7 249.4 L323.6 249.4 L342.8 251.5 L315.0 292.2 L280.7 330.8 L246.4 347.9 L237.9 292.2Z" fill="#b77a48"/><ellipse transform="translate(315.0 275.1) rotate(30.0)" rx="17.1" ry="21.4" fill="#d79c68"/><path d="M203.6 257.9 L242.2 257.9 L242.2 352.2 L220.7 369.3 L203.6 352.2Z" fill="#e3aa78"/><ellipse transform="translate(233.6 326.5) rotate(0.0)" rx="10.7" ry="19.3" fill="#c07c48"/><ellipse transform="translate(182.2 313.6) rotate(0.0)" rx="23.6" ry="32.1" fill="#9fd89c"/><ellipse transform="translate(182.2 270.8) rotate(0.0)" rx="17.1" ry="12.9" fill="#f4dcc4"/><ellipse transform="translate(139.3 277.2) rotate(0.0)" rx="25.7" ry="19.3" fill="#f2d4b6"/><ellipse transform="translate(113.6 311.5) rotate(0.0)" rx="15.0" ry="12.9" fill="#cfe9ca"/><ellipse transform="translate(165.0 354.3) rotate(0.0)" rx="40.7" ry="21.4" fill="#a8dca4"/><path d="M96.5 373.6 L225.0 373.6 L237.9 455.0 L165.0 463.6 L109.3 420.7Z" fill="#f2d0b0"/><ellipse transform="translate(126.5 399.3) rotate(-20.0)" rx="23.6" ry="19.3" fill="#ecb98a"/><ellipse transform="translate(143.6 425.0) rotate(0.0)" rx="21.4" ry="15.0" fill="#cde9c6"/><ellipse transform="translate(169.3 390.8) rotate(0.0)" rx="25.7" ry="12.9" fill="#f9f1ea"/><ellipse transform="translate(199.3 437.9) rotate(0.0)" rx="25.7" ry="19.3" fill="#ebb98a"/><ellipse transform="translate(220.7 399.3) rotate(0.0)" rx="10.7" ry="21.4" fill="#e6ad7a"/><ellipse transform="translate(102.9 350.1) rotate(0.0)" rx="10.7" ry="19.3" fill="#a3d9a0"/><ellipse transform="translate(182.2 206.5) rotate(0.0)" rx="19.3" ry="42.8" fill="#a6d9a2"/><ellipse transform="translate(306.4 232.2) rotate(0.0)" rx="25.7" ry="17.1" fill="#f4dcc6"/></g><g filter="url(#bl3)"><ellipse transform="translate(214.3 185.1) rotate(0.0)" rx="19.3" ry="45.0" fill="#45ad50"/><ellipse transform="translate(205.7 221.5) rotate(0.0)" rx="18.0" ry="21.4" fill="#45ad50"/><ellipse transform="translate(195.0 172.2) rotate(0.0)" rx="8.6" ry="21.4" fill="#6cc06c"/><ellipse transform="translate(182.2 317.9) rotate(0.0)" rx="15.0" ry="23.6" fill="#52b455"/><ellipse transform="translate(169.3 350.1) rotate(0.0)" rx="23.6" ry="12.9" fill="#52b455"/><ellipse transform="translate(102.9 347.9) rotate(0.0)" rx="6.9" ry="13.7" fill="#5ab858"/><path d="M248.6 260.1 L280.7 253.7 L321.4 260.1 L306.4 287.9 L280.7 317.9 L263.6 335.1 L250.7 330.8Z" fill="#98582a"/><path d="M249.9 292.2 L267.9 270.8 L280.7 283.6 L264.4 322.2 L255.0 335.1 L248.6 326.5Z" fill="#6a3418"/><ellipse transform="translate(289.3 268.6) rotate(-10.0)" rx="12.0" ry="6.9" fill="#6e3618"/><ellipse transform="translate(259.3 236.5) rotate(20.0)" rx="12.0" ry="7.7" fill="#8a4a20"/><ellipse transform="translate(280.7 217.2) rotate(0.0)" rx="6.0" ry="4.3" fill="#9a5a28"/><ellipse transform="translate(235.7 326.5) rotate(0.0)" rx="6.0" ry="15.0" fill="#a86a38"/><path d="M104.6 190.2 L118.6 190.2 L120.3 204.2 L123.8 224.9 L127.2 245.7 L123.8 244.0 L116.8 228.4 L109.9 214.6 L106.5 204.2Z" fill="#5a2810"/><path d="M82.2 193.8 L96.1 197.3 L96.1 202.5 L85.7 200.7Z" fill="#6a3418"/><ellipse transform="translate(21.5 148.7) rotate(0.0)" rx="7.7" ry="6.0" fill="#5ab858"/><ellipse transform="translate(138.5 127.3) rotate(-15.0)" rx="5.1" ry="13.7" fill="#d48e58"/><ellipse transform="translate(362.1 170.5) rotate(0.0)" rx="4.3" ry="3.4" fill="#b87038"/><ellipse transform="translate(117.9 407.9) rotate(-25.0)" rx="7.7" ry="12.9" fill="#d08a50"/><ellipse transform="translate(195.0 442.2) rotate(0.0)" rx="15.0" ry="10.7" fill="#e0a06a"/><ellipse transform="translate(186.5 193.7) rotate(0.0)" rx="12.9" ry="32.1" fill="#4cb050"/><ellipse transform="translate(195.0 232.2) rotate(0.0)" rx="17.1" ry="15.0" fill="#5ab858"/></g><path d="M127.2 311.0 L137.2 309.5 L147.2 310.0 L155.2 311.0 L155.7 325.0 L147.2 325.0 L145.2 334.0 L139.2 341.0 L133.2 342.5 L127.7 341.0 L127.2 332.0 L125.7 322.0Z" fill="#ffffff"/><ellipse transform="translate(198.7 156.5) rotate(0.0)" rx="3.0" ry="2.5" fill="#ffffff"/></g>
<path d="M38.7 0.0 L38.7 52.6 M38.7 52.6 L25.5 52.6 L25.5 108.0 M1.3 47.0 L25.5 59.0 M1.2 170.5 L7.7 170.5 M38.7 27.2 L145.2 27.2 L147.6 29.1 L149.9 30.3 L155.3 30.3 L156.9 27.6 L157.7 24.9 L159.2 23.7 L163.9 22.9 L165.5 21.4 L167.8 16.7 L169.4 15.9 L171.7 16.3 L174.8 13.6 L177.2 11.6 M177.2 11.6 L175.6 8.9 L174.4 5.8 L174.8 2.7 L174.8 0.0 M177.2 11.6 L177.9 15.1 L181.0 17.5 L184.2 18.2 L187.3 21.4 L192.7 26.0 L193.5 29.1 L195.1 33.8 L198.2 38.5 L197.4 43.2 L197.0 48.6 L197.4 56.4 L198.9 62.6 L201.3 68.9 L205.2 71.2 L209.1 75.1 L213.7 77.4 L215.3 79.8 L217.6 83.7 L220.0 88.0 M208.2 0.0 L209.8 1.1 L213.7 4.2 L216.1 8.9 L219.2 13.6 L221.5 19.0 L221.5 22.9 L220.0 27.6 L221.5 31.5 L222.3 36.9 L224.6 40.8 L228.5 46.3 L230.9 49.0 L234.8 50.2 L240.2 54.1 L243.3 57.2 L246.4 61.9 L248.8 66.5 L250.3 71.2 L251.9 72.0 L253.8 76.8 L257.4 80.5 L262.2 84.7 L264.7 87.7 L267.1 91.4 L268.9 95.0 L269.5 98.0 L270.1 101.1 L269.5 105.9 L268.9 109.6 L269.5 113.2 L270.7 118.0 L271.9 122.9 L273.1 127.7 L274.3 132.6 L275.6 137.4 L276.2 142.0 L276.5 144.8 L277.5 146.9 L284.8 147.9 L291.0 146.9 L297.3 146.9 L303.5 142.8 L308.7 139.6 L315.9 138.6 L322.2 136.5 L328.4 134.5 L334.6 131.3 L340.8 129.3 L347.1 127.2 L353.3 124.1 L356.4 122.0 L361.8 119.4 L372.2 116.3 L381.2 115.0 M269.5 99.9 L273.7 96.2 L275.6 91.4 L275.6 85.9 L278.0 84.7 L281.6 86.5 L286.2 86.5 L297.5 86.2 L309.9 87.2 L322.4 89.3 L326.5 91.3 L330.7 87.2 L339.0 76.8 L347.3 72.7 L359.7 69.5 L372.2 68.5 L381.2 67.5 M220.0 88.0 L214.5 79.8 L213.0 82.1 L209.1 83.7 L205.2 85.2 L201.3 87.5 L196.0 90.5 L194.2 96.6 L192.5 103.5 L190.8 112.2 L189.0 119.1 L188.2 126.9 M188.2 126.9 L194.2 126.0 L197.7 125.1 L201.2 127.7 L203.7 124.3 L205.5 119.9 L208.1 121.7 L211.5 124.3 L216.7 122.5 L220.2 124.3 L223.6 123.4 L228.8 124.3 L235.7 125.1 L241.2 127.2 L245.4 129.3 L248.5 133.4 L252.6 138.6 L256.8 142.8 L260.9 146.9 L264.0 151.1 M264.0 151.1 L260.9 156.3 L257.8 160.4 L257.3 165.6 L256.8 169.7 L262.0 169.7 L268.2 169.2 L271.3 170.8 L273.4 166.6 L275.5 163.5 M271.3 170.8 L269.2 173.9 L271.3 180.1 L274.4 184.3 L277.5 189.5 L280.6 192.6 L285.8 195.7 L293.1 198.8 L301.4 201.9 L308.7 205.0 L313.9 207.1 L324.2 208.7 L336.7 208.7 L332.5 213.3 L326.3 219.6 L320.1 225.8 L313.9 232.0 L307.6 238.3 L306.6 240.7 L299.1 248.2 L291.2 248.1 L284.9 248.1 L278.7 250.2 L273.5 252.8 L270.4 256.9 L263.1 258.0 L260.0 258.5 L257.9 261.6 M188.2 126.9 L187.3 134.7 L185.6 143.3 L182.1 147.6 L176.9 150.2 L173.5 155.4 L170.0 162.3 L166.6 169.2 L163.1 172.7 L159.6 176.2 L157.9 183.1 L157.0 190.0 M30.4 199.4 L34.5 188.2 L40.7 178.6 L49.0 177.5 L53.2 182.7 L59.4 189.0 L67.7 188.0 L76.0 188.0 L76.5 180.7 L90.6 180.7 L91.0 187.0 L96.8 182.8 L103.0 179.0 L109.3 182.8 L115.5 187.0 L123.8 180.7 L130.0 172.4 L132.1 166.1 L132.1 157.8 L138.4 157.8 L139.4 153.7 L146.7 154.7 L147.1 170.3 L152.9 178.6 L156.0 182.8 L157.0 190.0 M157.0 190.0 L156.2 200.4 L145.8 203.8 L143.2 209.0 L145.8 212.5 L152.7 214.2 L157.9 217.7 L163.1 222.9 L166.6 228.1 L170.0 235.0 L171.7 241.9 M171.7 241.9 L176.9 242.8 L179.5 245.4 L180.4 252.3 L183.9 254.0 L192.8 257.7 L201.2 260.5 L211.2 265.5 L214.8 265.2 L219.0 267.3 L223.7 267.6 L227.3 267.8 L232.5 262.1 L235.6 260.3 L240.3 258.5 L243.9 257.4 L249.1 261.3 L256.9 261.3 L257.9 261.6 M171.7 241.9 L168.3 245.4 L163.1 248.8 L157.9 254.0 L157.0 258.0 M117.0 265.5 L120.3 264.4 L128.9 263.4 L137.6 262.3 L146.2 260.1 L154.9 259.0 L157.0 258.0 M157.0 258.0 L158.7 261.0 L162.3 269.1 L168.0 280.5 L169.0 288.2 L166.2 295.8 L162.3 301.5 L156.6 307.2 L155.7 309.0 L155.7 325.4 M155.7 325.4 L112.7 325.4 L107.3 327.1 L100.8 327.1 M112.7 325.4 L114.9 331.5 L114.9 340.1 L112.7 343.4 L104.0 344.4 L94.3 348.8 L90.0 344.4 M112.7 343.4 L114.9 349.8 L113.8 356.3 L108.4 362.8 L103.0 367.1 L98.7 370.4 M155.7 325.4 L200.4 351.0 L204.2 355.7 L223.4 372.6 M253.7 332.0 L248.0 324.3 L246.5 309.0 L246.5 292.0 L246.5 276.1 L251.7 270.9 L255.3 265.2 L257.9 261.6 M1.2 259.0 L7.8 252.5 L16.5 250.4 L25.1 248.2 L31.6 247.1 L38.1 246.1 L43.5 243.9 L51.1 245.0 L59.7 245.0 L68.4 242.5 M113.9 419.7 L109.8 419.7 L99.8 420.7 L91.7 422.2 L89.7 426.3 L86.7 430.3 L83.2 432.3 L84.7 435.3 L85.7 442.4 L85.2 448.4 L84.2 454.4 L83.2 462.5 L85.7 467.5 L89.7 471.5 L93.8 473.5 L96.8 473.0 L97.3 471.0 L101.3 470.5 L101.6 478.0 M142.5 436.8 L146.1 439.3 L149.1 444.4 L151.1 450.4 L147.1 454.4 L147.1 460.5 L146.1 467.5 L148.1 472.5 L145.1 476.6 L143.1 478.0 M169.2 462.5 L164.2 462.5 L162.2 468.5 L162.2 478.0 M1.2 440.3 L3.7 444.4 L4.2 450.4 L3.2 456.4 L5.2 457.4 L11.3 456.4 L18.3 454.4 L25.4 454.4 L29.4 456.4 L30.4 460.5 L35.4 459.5 L41.4 458.5 L42.5 460.5 L43.5 464.5 L49.5 466.5 L55.5 467.5 L61.6 467.0 L65.6 464.5 L67.6 463.5 L69.6 467.5 L71.6 470.5 L75.7 471.5 L79.7 473.5 L83.7 475.5 L84.7 478.0 M26.2 454.4 L25.9 462.5 L26.4 472.5 L25.4 478.0 M239.6 448.3 L241.3 455.4 L240.2 465.8 L241.3 478.0 M220.0 88.0 L220.2 94.9 L225.4 103.5 L230.6 110.4 L235.7 115.6 L242.7 120.8 L247.4 122.0 L251.6 126.2 L256.8 131.3 L262.0 135.5 L266.1 140.7 L269.2 143.8 L272.3 146.9 L275.5 149.0 L277.5 152.1 L278.0 155.2 L276.5 157.3 L274.4 158.8 L271.3 159.4 L268.2 161.4 L266.1 163.0 L268.2 164.6 L272.3 163.5 L275.5 163.5 L278.6 165.6 L281.7 169.7 L284.8 173.9 L288.9 177.0 L295.2 177.0 L299.3 176.0 L303.5 173.9 L308.7 171.8 L313.9 172.9 L319.1 171.8 L324.2 169.7 L328.4 167.7 L332.5 167.7 L336.7 166.6 L340.8 165.6 L345.0 165.6 L350.2 164.6 L355.4 163.5 L360.6 162.5 L365.8 161.4 L369.9 160.4 L372.0 158.3 L375.1 157.3 L379.3 158.3 L380.3 161.4 L379.8 165.6 L378.2 169.7 L377.7 176.0 L377.2 178.1 L375.1 182.2 L373.0 188.4 L370.9 194.7 L367.8 200.9 L364.7 206.1 L361.6 210.2 L359.5 215.4 L356.4 221.6 L353.3 226.8 L350.2 233.1 L345.6 240.7 L336.9 253.6 L328.3 264.4 L317.4 275.3 L306.6 283.9 L295.8 290.4 L285.0 299.0 L274.2 309.9 L265.5 318.5 L256.9 327.2 L252.6 333.6 L246.1 340.1 L239.6 344.5 L235.3 350.9 L233.1 357.4 L229.9 363.9 L224.5 372.6 L223.7 373.4 L219.5 386.9 L218.5 392.1 L222.6 399.4 L226.8 403.5 L224.7 410.8 L224.7 419.1 L226.8 424.3 L228.8 432.6 L230.9 440.9 L237.2 445.0 L239.6 448.3 M239.6 448.3 L230.9 452.6 L224.5 456.9 L213.6 459.1 L202.8 461.2 L192.3 464.0 L186.2 464.5 L182.2 462.5 L178.2 461.5 L169.2 462.5 M169.2 462.5 L166.2 458.5 L164.2 452.4 L163.2 445.4 L160.2 440.3 L156.1 436.8 L148.1 436.8 L142.0 436.3 L136.0 433.3 L130.0 430.3 L123.9 426.3 L117.9 423.2 L113.9 418.2 L110.9 410.2 L107.8 404.1 L103.8 400.1 L99.8 395.1 L98.8 388.0 L98.7 381.2 L97.6 374.7 L98.7 370.4 L96.5 368.2 L94.3 359.6 L94.3 353.1 L92.2 349.8 L90.0 344.4 L94.3 333.6 L100.8 327.1 L99.7 325.0 L100.8 318.5 L103.0 305.5 L107.3 299.0 L113.8 292.5 L119.2 286.1 L116.0 281.7 L113.8 273.1 L117.0 265.5 L113.8 264.4 L107.3 262.3 L100.8 260.1 L94.3 255.8 L87.8 253.6 L81.4 252.5 L74.9 247.1 L68.4 240.6 L63.6 236.8 L59.4 230.5 L53.2 224.3 L47.0 218.1 L40.7 211.8 L32.4 205.6 L30.4 199.4 M30.4 199.4 L26.2 199.4 L20.0 198.3 L18.9 195.2 L20.0 186.9 L20.0 180.7 L15.8 176.5 L11.7 172.4 L9.6 166.1 L7.5 162.0 L7.0 161.2 L4.9 154.1 L4.9 147.0 L3.5 141.3 L1.3 138.5 L2.0 132.8 L5.6 130.0 L4.9 125.7 L5.6 122.9 L9.1 121.5 L9.8 117.2 L12.7 111.5 L13.4 113.0 M25.5 108.0 L13.4 108.7 L12.7 111.5" fill="none" stroke="#2a2a2a" stroke-width="1.1" stroke-linejoin="round"/>
<path d="M228.2 100.5 L231.2 99.5 L234.2 101.0 L238.2 104.0 L242.2 106.5 L244.2 109.0 L243.2 112.0 L239.2 112.5 L235.2 110.5 L231.2 109.0 L228.2 105.5Z" fill="#111"/><path d="M234.2 114.0 L237.2 114.5 L241.2 117.0 L245.2 119.5 L246.2 121.5 L242.2 120.0 L237.2 118.0 L233.7 116.0Z" fill="#111"/><path d="M254.2 92.0 L256.7 90.5 L259.7 92.0 L262.2 94.5 L261.7 97.0 L258.2 96.5 L255.2 95.0Z" fill="#111"/><ellipse transform="translate(226.2 99.0) rotate(0.0)" rx="1.0" ry="1.0" fill="#111"/><ellipse transform="translate(227.7 103.5) rotate(0.0)" rx="1.2" ry="1.0" fill="#111"/><ellipse transform="translate(229.2 97.5) rotate(0.0)" rx="0.8" ry="0.8" fill="#111"/><ellipse transform="translate(234.7 98.5) rotate(0.0)" rx="0.9" ry="0.9" fill="#111"/><ellipse transform="translate(246.2 110.0) rotate(0.0)" rx="0.8" ry="0.8" fill="#111"/><ellipse transform="translate(249.7 114.5) rotate(0.0)" rx="0.7" ry="0.7" fill="#111"/><ellipse transform="translate(263.2 100.5) rotate(0.0)" rx="2.0" ry="1.2" fill="#111"/><ellipse transform="translate(259.2 99.5) rotate(0.0)" rx="0.8" ry="0.8" fill="#111"/><ellipse transform="translate(267.7 113.0) rotate(0.0)" rx="1.2" ry="1.5" fill="#111"/><ellipse transform="translate(268.7 132.0) rotate(0.0)" rx="1.0" ry="2.5" fill="#111"/><ellipse transform="translate(267.2 136.0) rotate(0.0)" rx="0.6" ry="1.5" fill="#111"/><ellipse transform="translate(247.7 117.0) rotate(0.0)" rx="0.7" ry="0.7" fill="#111"/><ellipse transform="translate(247.7 73.5) rotate(0.0)" rx="0.8" ry="0.8" fill="#111"/><ellipse transform="translate(251.7 81.5) rotate(0.0)" rx="0.7" ry="0.7" fill="#111"/><ellipse transform="translate(257.7 110.5) rotate(0.0)" rx="0.8" ry="0.8" fill="#111"/><ellipse cx="265.7" cy="109.5" rx="2" ry="1.6" fill="none" stroke="#111" stroke-width="1"/><path d="M228.7 375.5 L231.7 376.0 L233.0 379.0 L232.2 383.0 L229.7 384.0 L228.2 381.0Z" fill="#111"/><path d="M223.2 387.5 L225.7 387.0 L227.7 391.0 L228.2 395.5 L226.2 396.0 L223.7 393.0 L222.7 390.0Z" fill="#9cd070" stroke="#111" stroke-width="1"/><path d="M228.2 411.0 L231.7 410.5 L232.7 413.0 L230.2 416.5 L228.2 415.0Z" fill="none" stroke="#111" stroke-width="1"/><path d="M275.7 460.0 L277.7 460.5 L279.2 464.5 L278.7 467.0 L276.2 466.5 L275.2 463.0Z" fill="none" stroke="#111" stroke-width="1"/><path d="M288.7 470.5 L291.7 469.5 L292.7 472.0 L290.2 473.5Z" fill="none" stroke="#111" stroke-width="1"/><ellipse transform="translate(282.0 472.5) rotate(0.0)" rx="1.5" ry="1.2" fill="#111"/><ellipse transform="translate(316.5 434.6) rotate(0.0)" rx="1.6" ry="0.9" fill="#111"/><ellipse transform="translate(318.2 439.3) rotate(0.0)" rx="0.7" ry="0.7" fill="#111"/><ellipse transform="translate(332.2 438.8) rotate(0.0)" rx="0.9" ry="0.8" fill="#111"/><ellipse transform="translate(334.2 443.0) rotate(0.0)" rx="0.8" ry="0.8" fill="#111"/><ellipse transform="translate(328.0 462.7) rotate(0.0)" rx="0.6" ry="0.6" fill="#111"/><ellipse transform="translate(373.2 433.6) rotate(0.0)" rx="0.6" ry="0.6" fill="#111"/><ellipse transform="translate(376.8 432.6) rotate(0.0)" rx="0.6" ry="0.6" fill="#111"/><ellipse transform="translate(378.2 444.5) rotate(0.0)" rx="0.9" ry="0.8" fill="#111"/><ellipse transform="translate(230.7 402.0) rotate(0.0)" rx="0.6" ry="0.6" fill="#111"/><ellipse transform="translate(229.2 414.0) rotate(0.0)" rx="0.5" ry="0.5" fill="#111"/><path d="M346.2 479.0 L347.2 476.0 L349.2 472.0 L353.4 467.9 L355.5 470.0 L357.2 473.0 L358.6 479.0" fill="none" stroke="#111" stroke-width="1.1"/>
</g>
<rect x="0" y="0" width="381.6" height="480.0" fill="none" stroke="#000" stroke-width="3"/>
<path d="M38.6 480.0 V499.0 M103.6 480.0 V499.0 M168.6 480.0 V499.0 M233.6 480.0 V499.0 M298.6 480.0 V499.0 M363.6 480.0 V499.0 M0 53.0 H-18 M0 117.9 H-18 M0 182.8 H-18 M0 247.7 H-18 M0 312.6 H-18 M0 377.5 H-18 M0 442.4 H-18" stroke="#000" stroke-width="3" fill="none"/>
<text x="38.6" y="522.6" text-anchor="middle" font-family="'Liberation Sans', Arial, Helvetica, sans-serif" font-size="32">25</text>
<text x="103.6" y="522.6" text-anchor="middle" font-family="'Liberation Sans', Arial, Helvetica, sans-serif" font-size="32">30</text>
<text x="168.6" y="522.6" text-anchor="middle" font-family="'Liberation Sans', Arial, Helvetica, sans-serif" font-size="32">35</text>
<text x="233.6" y="522.6" text-anchor="middle" font-family="'Liberation Sans', Arial, Helvetica, sans-serif" font-size="32">40</text>
<text x="298.6" y="522.6" text-anchor="middle" font-family="'Liberation Sans', Arial, Helvetica, sans-serif" font-size="32">45</text>
<text x="363.6" y="522.6" text-anchor="middle" font-family="'Liberation Sans', Arial, Helvetica, sans-serif" font-size="32">50</text>
<text x="190.8" y="-25.1" text-anchor="middle" font-family="'Liberation Sans', Arial, Helvetica, sans-serif" font-size="38">CLSM−SSEBop</text>
<text x="-21.7" y="-13.4" font-family="'Liberation Sans', Arial, Helvetica, sans-serif" font-size="35.5" font-weight="bold">G</text>
</g>
<g transform="translate(1479.55 627.30)">
<g clip-path="url(#frm)">
<g clip-path="url(#dom)"><g filter="url(#bl6)"><path d="M-19.2 -7.7 L409.2 -7.7 L409.2 506.4 L-19.2 506.4Z" fill="#f9f1ea"/><ellipse transform="translate(21.5 146.5) rotate(0.0)" rx="19.3" ry="13.7" fill="#b9e0b4"/><ellipse transform="translate(100.8 155.1) rotate(0.0)" rx="51.4" ry="19.3" fill="#cdeac8"/><ellipse transform="translate(150.0 163.7) rotate(0.0)" rx="15.0" ry="21.4" fill="#a0d79c"/><path d="M6.5 159.4 L53.6 172.2 L109.3 178.7 L122.2 193.7 L66.5 193.7 L19.4 193.7Z" fill="#eebf92"/><ellipse transform="translate(40.8 180.8) rotate(0.0)" rx="23.6" ry="10.7" fill="#e6ac78"/><ellipse transform="translate(92.2 185.1) rotate(0.0)" rx="25.7" ry="8.6" fill="#f2d6bc"/><ellipse transform="translate(182.2 99.4) rotate(0.0)" rx="19.3" ry="15.0" fill="#f3d2b2"/><path d="M30.1 193.7 L109.3 193.7 L122.2 232.2 L117.9 262.2 L83.6 257.9 L45.1 223.7Z" fill="#f2cfac"/><ellipse transform="translate(79.3 232.2) rotate(30.0)" rx="30.0" ry="15.0" fill="#ebbb8e"/><ellipse transform="translate(143.6 219.4) rotate(0.0)" rx="19.3" ry="30.0" fill="#d7ecd2"/><path d="M165.0 146.5 L192.9 133.7 L192.9 249.4 L169.3 249.4Z" fill="#f5dcc6"/><ellipse transform="translate(252.9 172.2) rotate(0.0)" rx="23.6" ry="27.8" fill="#c2e3bc"/><ellipse transform="translate(212.2 245.1) rotate(0.0)" rx="32.1" ry="19.3" fill="#d0eaca"/><ellipse transform="translate(212.2 191.5) rotate(0.0)" rx="32.1" ry="55.7" fill="#8fcf8c"/><ellipse transform="translate(182.2 232.2) rotate(0.0)" rx="12.9" ry="17.1" fill="#b8e0b2"/><path d="M190.7 86.6 L220.7 95.1 L280.7 150.8 L289.3 172.2 L259.3 176.5 L220.7 133.7 L190.7 120.8Z" fill="#f5e0cc"/><path d="M237.9 202.2 L280.7 198.0 L332.1 208.7 L306.4 249.4 L255.0 262.2 L237.9 249.4Z" fill="#ebb583"/><ellipse transform="translate(306.4 206.5) rotate(0.0)" rx="21.4" ry="7.7" fill="#f6e4d4"/><path d="M272.1 161.5 L379.3 159.4 L366.4 206.5 L332.1 223.7 L280.7 193.7Z" fill="#fbf6f1"/><path d="M272.1 161.5 L379.3 159.4 L381.4 172.2 L272.1 174.4Z" fill="#f3d2b0"/><ellipse transform="translate(323.6 232.2) rotate(0.0)" rx="25.7" ry="17.1" fill="#f6e6d8"/><path d="M242.2 249.4 L280.7 249.4 L323.6 249.4 L342.8 251.5 L315.0 292.2 L280.7 330.8 L246.4 347.9 L237.9 292.2Z" fill="#b77a48"/><ellipse transform="translate(315.0 275.1) rotate(30.0)" rx="17.1" ry="21.4" fill="#d79c68"/><path d="M203.6 257.9 L242.2 257.9 L242.2 352.2 L220.7 369.3 L203.6 352.2Z" fill="#e3aa78"/><ellipse transform="translate(233.6 326.5) rotate(0.0)" rx="10.7" ry="19.3" fill="#c07c48"/><ellipse transform="translate(182.2 313.6) rotate(0.0)" rx="23.6" ry="32.1" fill="#9fd89c"/><ellipse transform="translate(182.2 270.8) rotate(0.0)" rx="17.1" ry="12.9" fill="#f4dcc4"/><ellipse transform="translate(139.3 277.2) rotate(0.0)" rx="25.7" ry="19.3" fill="#f2d4b6"/><ellipse transform="translate(113.6 311.5) rotate(0.0)" rx="15.0" ry="12.9" fill="#cfe9ca"/><ellipse transform="translate(165.0 354.3) rotate(0.0)" rx="40.7" ry="21.4" fill="#a8dca4"/><path d="M96.5 373.6 L225.0 373.6 L237.9 455.0 L165.0 463.6 L109.3 420.7Z" fill="#f2d0b0"/><ellipse transform="translate(126.5 399.3) rotate(-20.0)" rx="23.6" ry="19.3" fill="#ecb98a"/><ellipse transform="translate(143.6 425.0) rotate(0.0)" rx="21.4" ry="15.0" fill="#cde9c6"/><ellipse transform="translate(169.3 390.8) rotate(0.0)" rx="25.7" ry="12.9" fill="#f9f1ea"/><ellipse transform="translate(199.3 437.9) rotate(0.0)" rx="25.7" ry="19.3" fill="#ebb98a"/><ellipse transform="translate(220.7 399.3) rotate(0.0)" rx="10.7" ry="21.4" fill="#e6ad7a"/><ellipse transform="translate(102.9 350.1) rotate(0.0)" rx="10.7" ry="19.3" fill="#a3d9a0"/><ellipse transform="translate(182.2 206.5) rotate(0.0)" rx="19.3" ry="42.8" fill="#a6d9a2"/><ellipse transform="translate(306.4 232.2) rotate(0.0)" rx="25.7" ry="17.1" fill="#f4dcc6"/></g><g filter="url(#bl3)"><ellipse transform="translate(214.3 185.1) rotate(0.0)" rx="19.3" ry="45.0" fill="#45ad50"/><ellipse transform="translate(205.7 221.5) rotate(0.0)" rx="18.0" ry="21.4" fill="#45ad50"/><ellipse transform="translate(195.0 172.2) rotate(0.0)" rx="8.6" ry="21.4" fill="#6cc06c"/><ellipse transform="translate(182.2 317.9) rotate(0.0)" rx="15.0" ry="23.6" fill="#52b455"/><ellipse transform="translate(169.3 350.1) rotate(0.0)" rx="23.6" ry="12.9" fill="#52b455"/><ellipse transform="translate(102.9 347.9) rotate(0.0)" rx="6.9" ry="13.7" fill="#5ab858"/><path d="M248.6 260.1 L280.7 253.7 L321.4 260.1 L306.4 287.9 L280.7 317.9 L263.6 335.1 L250.7 330.8Z" fill="#98582a"/><path d="M249.9 292.2 L267.9 270.8 L280.7 283.6 L264.4 322.2 L255.0 335.1 L248.6 326.5Z" fill="#6a3418"/><ellipse transform="translate(289.3 268.6) rotate(-10.0)" rx="12.0" ry="6.9" fill="#6e3618"/><ellipse transform="translate(259.3 236.5) rotate(20.0)" rx="12.0" ry="7.7" fill="#8a4a20"/><ellipse transform="translate(280.7 217.2) rotate(0.0)" rx="6.0" ry="4.3" fill="#9a5a28"/><ellipse transform="translate(235.7 326.5) rotate(0.0)" rx="6.0" ry="15.0" fill="#a86a38"/><path d="M104.6 190.2 L118.6 190.2 L120.3 204.2 L123.8 224.9 L127.2 245.7 L123.8 244.0 L116.8 228.4 L109.9 214.6 L106.5 204.2Z" fill="#5a2810"/><path d="M82.2 193.8 L96.1 197.3 L96.1 202.5 L85.7 200.7Z" fill="#6a3418"/><ellipse transform="translate(21.5 148.7) rotate(0.0)" rx="7.7" ry="6.0" fill="#5ab858"/><ellipse transform="translate(138.5 127.3) rotate(-15.0)" rx="5.1" ry="13.7" fill="#d48e58"/><ellipse transform="translate(362.1 170.5) rotate(0.0)" rx="4.3" ry="3.4" fill="#b87038"/><ellipse transform="translate(117.9 407.9) rotate(-25.0)" rx="7.7" ry="12.9" fill="#d08a50"/><ellipse transform="translate(195.0 442.2) rotate(0.0)" rx="15.0" ry="10.7" fill="#e0a06a"/><ellipse transform="translate(186.5 193.7) rotate(0.0)" rx="12.9" ry="32.1" fill="#4cb050"/><ellipse transform="translate(195.0 232.2) rotate(0.0)" rx="17.1" ry="15.0" fill="#5ab858"/></g><path d="M127.2 311.0 L137.2 309.5 L147.2 310.0 L155.2 311.0 L155.7 325.0 L147.2 325.0 L145.2 334.0 L139.2 341.0 L133.2 342.5 L127.7 341.0 L127.2 332.0 L125.7 322.0Z" fill="#ffffff"/><ellipse transform="translate(198.7 156.5) rotate(0.0)" rx="3.0" ry="2.5" fill="#ffffff"/></g>
<path d="M38.7 0.0 L38.7 52.6 M38.7 52.6 L25.5 52.6 L25.5 108.0 M1.3 47.0 L25.5 59.0 M1.2 170.5 L7.7 170.5 M38.7 27.2 L145.2 27.2 L147.6 29.1 L149.9 30.3 L155.3 30.3 L156.9 27.6 L157.7 24.9 L159.2 23.7 L163.9 22.9 L165.5 21.4 L167.8 16.7 L169.4 15.9 L171.7 16.3 L174.8 13.6 L177.2 11.6 M177.2 11.6 L175.6 8.9 L174.4 5.8 L174.8 2.7 L174.8 0.0 M177.2 11.6 L177.9 15.1 L181.0 17.5 L184.2 18.2 L187.3 21.4 L192.7 26.0 L193.5 29.1 L195.1 33.8 L198.2 38.5 L197.4 43.2 L197.0 48.6 L197.4 56.4 L198.9 62.6 L201.3 68.9 L205.2 71.2 L209.1 75.1 L213.7 77.4 L215.3 79.8 L217.6 83.7 L220.0 88.0 M208.2 0.0 L209.8 1.1 L213.7 4.2 L216.1 8.9 L219.2 13.6 L221.5 19.0 L221.5 22.9 L220.0 27.6 L221.5 31.5 L222.3 36.9 L224.6 40.8 L228.5 46.3 L230.9 49.0 L234.8 50.2 L240.2 54.1 L243.3 57.2 L246.4 61.9 L248.8 66.5 L250.3 71.2 L251.9 72.0 L253.8 76.8 L257.4 80.5 L262.2 84.7 L264.7 87.7 L267.1 91.4 L268.9 95.0 L269.5 98.0 L270.1 101.1 L269.5 105.9 L268.9 109.6 L269.5 113.2 L270.7 118.0 L271.9 122.9 L273.1 127.7 L274.3 132.6 L275.6 137.4 L276.2 142.0 L276.5 144.8 L277.5 146.9 L284.8 147.9 L291.0 146.9 L297.3 146.9 L303.5 142.8 L308.7 139.6 L315.9 138.6 L322.2 136.5 L328.4 134.5 L334.6 131.3 L340.8 129.3 L347.1 127.2 L353.3 124.1 L356.4 122.0 L361.8 119.4 L372.2 116.3 L381.2 115.0 M269.5 99.9 L273.7 96.2 L275.6 91.4 L275.6 85.9 L278.0 84.7 L281.6 86.5 L286.2 86.5 L297.5 86.2 L309.9 87.2 L322.4 89.3 L326.5 91.3 L330.7 87.2 L339.0 76.8 L347.3 72.7 L359.7 69.5 L372.2 68.5 L381.2 67.5 M220.0 88.0 L214.5 79.8 L213.0 82.1 L209.1 83.7 L205.2 85.2 L201.3 87.5 L196.0 90.5 L194.2 96.6 L192.5 103.5 L190.8 112.2 L189.0 119.1 L188.2 126.9 M188.2 126.9 L194.2 126.0 L197.7 125.1 L201.2 127.7 L203.7 124.3 L205.5 119.9 L208.1 121.7 L211.5 124.3 L216.7 122.5 L220.2 124.3 L223.6 123.4 L228.8 124.3 L235.7 125.1 L241.2 127.2 L245.4 129.3 L248.5 133.4 L252.6 138.6 L256.8 142.8 L260.9 146.9 L264.0 151.1 M264.0 151.1 L260.9 156.3 L257.8 160.4 L257.3 165.6 L256.8 169.7 L262.0 169.7 L268.2 169.2 L271.3 170.8 L273.4 166.6 L275.5 163.5 M271.3 170.8 L269.2 173.9 L271.3 180.1 L274.4 184.3 L277.5 189.5 L280.6 192.6 L285.8 195.7 L293.1 198.8 L301.4 201.9 L308.7 205.0 L313.9 207.1 L324.2 208.7 L336.7 208.7 L332.5 213.3 L326.3 219.6 L320.1 225.8 L313.9 232.0 L307.6 238.3 L306.6 240.7 L299.1 248.2 L291.2 248.1 L284.9 248.1 L278.7 250.2 L273.5 252.8 L270.4 256.9 L263.1 258.0 L260.0 258.5 L257.9 261.6 M188.2 126.9 L187.3 134.7 L185.6 143.3 L182.1 147.6 L176.9 150.2 L173.5 155.4 L170.0 162.3 L166.6 169.2 L163.1 172.7 L159.6 176.2 L157.9 183.1 L157.0 190.0 M30.4 199.4 L34.5 188.2 L40.7 178.6 L49.0 177.5 L53.2 182.7 L59.4 189.0 L67.7 188.0 L76.0 188.0 L76.5 180.7 L90.6 180.7 L91.0 187.0 L96.8 182.8 L103.0 179.0 L109.3 182.8 L115.5 187.0 L123.8 180.7 L130.0 172.4 L132.1 166.1 L132.1 157.8 L138.4 157.8 L139.4 153.7 L146.7 154.7 L147.1 170.3 L152.9 178.6 L156.0 182.8 L157.0 190.0 M157.0 190.0 L156.2 200.4 L145.8 203.8 L143.2 209.0 L145.8 212.5 L152.7 214.2 L157.9 217.7 L163.1 222.9 L166.6 228.1 L170.0 235.0 L171.7 241.9 M171.7 241.9 L176.9 242.8 L179.5 245.4 L180.4 252.3 L183.9 254.0 L192.8 257.7 L201.2 260.5 L211.2 265.5 L214.8 265.2 L219.0 267.3 L223.7 267.6 L227.3 267.8 L232.5 262.1 L235.6 260.3 L240.3 258.5 L243.9 257.4 L249.1 261.3 L256.9 261.3 L257.9 261.6 M171.7 241.9 L168.3 245.4 L163.1 248.8 L157.9 254.0 L157.0 258.0 M117.0 265.5 L120.3 264.4 L128.9 263.4 L137.6 262.3 L146.2 260.1 L154.9 259.0 L157.0 258.0 M157.0 258.0 L158.7 261.0 L162.3 269.1 L168.0 280.5 L169.0 288.2 L166.2 295.8 L162.3 301.5 L156.6 307.2 L155.7 309.0 L155.7 325.4 M155.7 325.4 L112.7 325.4 L107.3 327.1 L100.8 327.1 M112.7 325.4 L114.9 331.5 L114.9 340.1 L112.7 343.4 L104.0 344.4 L94.3 348.8 L90.0 344.4 M112.7 343.4 L114.9 349.8 L113.8 356.3 L108.4 362.8 L103.0 367.1 L98.7 370.4 M155.7 325.4 L200.4 351.0 L204.2 355.7 L223.4 372.6 M253.7 332.0 L248.0 324.3 L246.5 309.0 L246.5 292.0 L246.5 276.1 L251.7 270.9 L255.3 265.2 L257.9 261.6 M1.2 259.0 L7.8 252.5 L16.5 250.4 L25.1 248.2 L31.6 247.1 L38.1 246.1 L43.5 243.9 L51.1 245.0 L59.7 245.0 L68.4 242.5 M113.9 419.7 L109.8 419.7 L99.8 420.7 L91.7 422.2 L89.7 426.3 L86.7 430.3 L83.2 432.3 L84.7 435.3 L85.7 442.4 L85.2 448.4 L84.2 454.4 L83.2 462.5 L85.7 467.5 L89.7 471.5 L93.8 473.5 L96.8 473.0 L97.3 471.0 L101.3 470.5 L101.6 478.0 M142.5 436.8 L146.1 439.3 L149.1 444.4 L151.1 450.4 L147.1 454.4 L147.1 460.5 L146.1 467.5 L148.1 472.5 L145.1 476.6 L143.1 478.0 M169.2 462.5 L164.2 462.5 L162.2 468.5 L162.2 478.0 M1.2 440.3 L3.7 444.4 L4.2 450.4 L3.2 456.4 L5.2 457.4 L11.3 456.4 L18.3 454.4 L25.4 454.4 L29.4 456.4 L30.4 460.5 L35.4 459.5 L41.4 458.5 L42.5 460.5 L43.5 464.5 L49.5 466.5 L55.5 467.5 L61.6 467.0 L65.6 464.5 L67.6 463.5 L69.6 467.5 L71.6 470.5 L75.7 471.5 L79.7 473.5 L83.7 475.5 L84.7 478.0 M26.2 454.4 L25.9 462.5 L26.4 472.5 L25.4 478.0 M239.6 448.3 L241.3 455.4 L240.2 465.8 L241.3 478.0 M220.0 88.0 L220.2 94.9 L225.4 103.5 L230.6 110.4 L235.7 115.6 L242.7 120.8 L247.4 122.0 L251.6 126.2 L256.8 131.3 L262.0 135.5 L266.1 140.7 L269.2 143.8 L272.3 146.9 L275.5 149.0 L277.5 152.1 L278.0 155.2 L276.5 157.3 L274.4 158.8 L271.3 159.4 L268.2 161.4 L266.1 163.0 L268.2 164.6 L272.3 163.5 L275.5 163.5 L278.6 165.6 L281.7 169.7 L284.8 173.9 L288.9 177.0 L295.2 177.0 L299.3 176.0 L303.5 173.9 L308.7 171.8 L313.9 172.9 L319.1 171.8 L324.2 169.7 L328.4 167.7 L332.5 167.7 L336.7 166.6 L340.8 165.6 L345.0 165.6 L350.2 164.6 L355.4 163.5 L360.6 162.5 L365.8 161.4 L369.9 160.4 L372.0 158.3 L375.1 157.3 L379.3 158.3 L380.3 161.4 L379.8 165.6 L378.2 169.7 L377.7 176.0 L377.2 178.1 L375.1 182.2 L373.0 188.4 L370.9 194.7 L367.8 200.9 L364.7 206.1 L361.6 210.2 L359.5 215.4 L356.4 221.6 L353.3 226.8 L350.2 233.1 L345.6 240.7 L336.9 253.6 L328.3 264.4 L317.4 275.3 L306.6 283.9 L295.8 290.4 L285.0 299.0 L274.2 309.9 L265.5 318.5 L256.9 327.2 L252.6 333.6 L246.1 340.1 L239.6 344.5 L235.3 350.9 L233.1 357.4 L229.9 363.9 L224.5 372.6 L223.7 373.4 L219.5 386.9 L218.5 392.1 L222.6 399.4 L226.8 403.5 L224.7 410.8 L224.7 419.1 L226.8 424.3 L228.8 432.6 L230.9 440.9 L237.2 445.0 L239.6 448.3 M239.6 448.3 L230.9 452.6 L224.5 456.9 L213.6 459.1 L202.8 461.2 L192.3 464.0 L186.2 464.5 L182.2 462.5 L178.2 461.5 L169.2 462.5 M169.2 462.5 L166.2 458.5 L164.2 452.4 L163.2 445.4 L160.2 440.3 L156.1 436.8 L148.1 436.8 L142.0 436.3 L136.0 433.3 L130.0 430.3 L123.9 426.3 L117.9 423.2 L113.9 418.2 L110.9 410.2 L107.8 404.1 L103.8 400.1 L99.8 395.1 L98.8 388.0 L98.7 381.2 L97.6 374.7 L98.7 370.4 L96.5 368.2 L94.3 359.6 L94.3 353.1 L92.2 349.8 L90.0 344.4 L94.3 333.6 L100.8 327.1 L99.7 325.0 L100.8 318.5 L103.0 305.5 L107.3 299.0 L113.8 292.5 L119.2 286.1 L116.0 281.7 L113.8 273.1 L117.0 265.5 L113.8 264.4 L107.3 262.3 L100.8 260.1 L94.3 255.8 L87.8 253.6 L81.4 252.5 L74.9 247.1 L68.4 240.6 L63.6 236.8 L59.4 230.5 L53.2 224.3 L47.0 218.1 L40.7 211.8 L32.4 205.6 L30.4 199.4 M30.4 199.4 L26.2 199.4 L20.0 198.3 L18.9 195.2 L20.0 186.9 L20.0 180.7 L15.8 176.5 L11.7 172.4 L9.6 166.1 L7.5 162.0 L7.0 161.2 L4.9 154.1 L4.9 147.0 L3.5 141.3 L1.3 138.5 L2.0 132.8 L5.6 130.0 L4.9 125.7 L5.6 122.9 L9.1 121.5 L9.8 117.2 L12.7 111.5 L13.4 113.0 M25.5 108.0 L13.4 108.7 L12.7 111.5" fill="none" stroke="#2a2a2a" stroke-width="1.1" stroke-linejoin="round"/>
<path d="M228.2 100.5 L231.2 99.5 L234.2 101.0 L238.2 104.0 L242.2 106.5 L244.2 109.0 L243.2 112.0 L239.2 112.5 L235.2 110.5 L231.2 109.0 L228.2 105.5Z" fill="#111"/><path d="M234.2 114.0 L237.2 114.5 L241.2 117.0 L245.2 119.5 L246.2 121.5 L242.2 120.0 L237.2 118.0 L233.7 116.0Z" fill="#111"/><path d="M254.2 92.0 L256.7 90.5 L259.7 92.0 L262.2 94.5 L261.7 97.0 L258.2 96.5 L255.2 95.0Z" fill="#111"/><ellipse transform="translate(226.2 99.0) rotate(0.0)" rx="1.0" ry="1.0" fill="#111"/><ellipse transform="translate(227.7 103.5) rotate(0.0)" rx="1.2" ry="1.0" fill="#111"/><ellipse transform="translate(229.2 97.5) rotate(0.0)" rx="0.8" ry="0.8" fill="#111"/><ellipse transform="translate(234.7 98.5) rotate(0.0)" rx="0.9" ry="0.9" fill="#111"/><ellipse transform="translate(246.2 110.0) rotate(0.0)" rx="0.8" ry="0.8" fill="#111"/><ellipse transform="translate(249.7 114.5) rotate(0.0)" rx="0.7" ry="0.7" fill="#111"/><ellipse transform="translate(263.2 100.5) rotate(0.0)" rx="2.0" ry="1.2" fill="#111"/><ellipse transform="translate(259.2 99.5) rotate(0.0)" rx="0.8" ry="0.8" fill="#111"/><ellipse transform="translate(267.7 113.0) rotate(0.0)" rx="1.2" ry="1.5" fill="#111"/><ellipse transform="translate(268.7 132.0) rotate(0.0)" rx="1.0" ry="2.5" fill="#111"/><ellipse transform="translate(267.2 136.0) rotate(0.0)" rx="0.6" ry="1.5" fill="#111"/><ellipse transform="translate(247.7 117.0) rotate(0.0)" rx="0.7" ry="0.7" fill="#111"/><ellipse transform="translate(247.7 73.5) rotate(0.0)" rx="0.8" ry="0.8" fill="#111"/><ellipse transform="translate(251.7 81.5) rotate(0.0)" rx="0.7" ry="0.7" fill="#111"/><ellipse transform="translate(257.7 110.5) rotate(0.0)" rx="0.8" ry="0.8" fill="#111"/><ellipse cx="265.7" cy="109.5" rx="2" ry="1.6" fill="none" stroke="#111" stroke-width="1"/><path d="M228.7 375.5 L231.7 376.0 L233.0 379.0 L232.2 383.0 L229.7 384.0 L228.2 381.0Z" fill="#111"/><path d="M223.2 387.5 L225.7 387.0 L227.7 391.0 L228.2 395.5 L226.2 396.0 L223.7 393.0 L222.7 390.0Z" fill="#9cd070" stroke="#111" stroke-width="1"/><path d="M228.2 411.0 L231.7 410.5 L232.7 413.0 L230.2 416.5 L228.2 415.0Z" fill="none" stroke="#111" stroke-width="1"/><path d="M275.7 460.0 L277.7 460.5 L279.2 464.5 L278.7 467.0 L276.2 466.5 L275.2 463.0Z" fill="none" stroke="#111" stroke-width="1"/><path d="M288.7 470.5 L291.7 469.5 L292.7 472.0 L290.2 473.5Z" fill="none" stroke="#111" stroke-width="1"/><ellipse transform="translate(282.0 472.5) rotate(0.0)" rx="1.5" ry="1.2" fill="#111"/><ellipse transform="translate(316.5 434.6) rotate(0.0)" rx="1.6" ry="0.9" fill="#111"/><ellipse transform="translate(318.2 439.3) rotate(0.0)" rx="0.7" ry="0.7" fill="#111"/><ellipse transform="translate(332.2 438.8) rotate(0.0)" rx="0.9" ry="0.8" fill="#111"/><ellipse transform="translate(334.2 443.0) rotate(0.0)" rx="0.8" ry="0.8" fill="#111"/><ellipse transform="translate(328.0 462.7) rotate(0.0)" rx="0.6" ry="0.6" fill="#111"/><ellipse transform="translate(373.2 433.6) rotate(0.0)" rx="0.6" ry="0.6" fill="#111"/><ellipse transform="translate(376.8 432.6) rotate(0.0)" rx="0.6" ry="0.6" fill="#111"/><ellipse transform="translate(378.2 444.5) rotate(0.0)" rx="0.9" ry="0.8" fill="#111"/><ellipse transform="translate(230.7 402.0) rotate(0.0)" rx="0.6" ry="0.6" fill="#111"/><ellipse transform="translate(229.2 414.0) rotate(0.0)" rx="0.5" ry="0.5" fill="#111"/><path d="M346.2 479.0 L347.2 476.0 L349.2 472.0 L353.4 467.9 L355.5 470.0 L357.2 473.0 L358.6 479.0" fill="none" stroke="#111" stroke-width="1.1"/>
</g>
<rect x="0" y="0" width="381.6" height="480.0" fill="none" stroke="#000" stroke-width="3"/>
<path d="M38.6 480.0 V499.0 M103.6 480.0 V499.0 M168.6 480.0 V499.0 M233.6 480.0 V499.0 M298.6 480.0 V499.0 M363.6 480.0 V499.0 M0 53.0 H-18 M0 117.9 H-18 M0 182.8 H-18 M0 247.7 H-18 M0 312.6 H-18 M0 377.5 H-18 M0 442.4 H-18" stroke="#000" stroke-width="3" fill="none"/>
<text x="38.6" y="522.6" text-anchor="middle" font-family="'Liberation Sans', Arial, Helvetica, sans-serif" font-size="32">25</text>
<text x="103.6" y="522.6" text-anchor="middle" font-family="'Liberation Sans', Arial, Helvetica, sans-serif" font-size="32">30</text>
<text x="168.6" y="522.6" text-anchor="middle" font-family="'Liberation Sans', Arial, Helvetica, sans-serif" font-size="32">35</text>
<text x="233.6" y="522.6" text-anchor="middle" font-family="'Liberation Sans', Arial, Helvetica, sans-serif" font-size="32">40</text>
<text x="298.6" y="522.6" text-anchor="middle" font-family="'Liberation Sans', Arial, Helvetica, sans-serif" font-size="32">45</text>
<text x="363.6" y="522.6" text-anchor="middle" font-family="'Liberation Sans', Arial, Helvetica, sans-serif" font-size="32">50</text>
<text x="190.8" y="-25.1" text-anchor="middle" font-family="'Liberation Sans', Arial, Helvetica, sans-serif" font-size="38">LET−SSEBop</text>
<text x="-20.0" y="-13.4" font-family="'Liberation Sans', Arial, Helvetica, sans-serif" font-size="35.5" font-weight="bold">H</text>
</g>
<path d="M1031 622.6 L1033.5 624.3 L1037 623.8 L1041 623.6 L1045 624.9 L1052 625.6 L1052 627 L1031 627 Z" fill="#000"/>
<text transform="translate(33.5 298) rotate(-90)" text-anchor="middle" font-family="'Liberation Sans', Arial, Helvetica, sans-serif" font-size="40">climatology (mm)</text>
<text transform="translate(33.5 867.3) rotate(-90)" text-anchor="middle" font-family="'Liberation Sans', Arial, Helvetica, sans-serif" font-size="40" textLength="262" lengthAdjust="spacingAndGlyphs">difference (mm)</text>
<rect x="1861.0" y="118.0" width="22.0" height="359.5" fill="url(#cb1)"/><rect x="1861.0" y="118.0" width="22.0" height="359.5" fill="none" stroke="#000" stroke-width="3"/><text x="1918.5" y="129.2" font-family="'Liberation Sans', Arial, Helvetica, sans-serif" font-size="32">2000</text><text x="1918.5" y="174.1" font-family="'Liberation Sans', Arial, Helvetica, sans-serif" font-size="32">1750</text><text x="1918.5" y="219.1" font-family="'Liberation Sans', Arial, Helvetica, sans-serif" font-size="32">1500</text><text x="1918.5" y="264.0" font-family="'Liberation Sans', Arial, Helvetica, sans-serif" font-size="32">1250</text><text x="1918.5" y="308.9" font-family="'Liberation Sans', Arial, Helvetica, sans-serif" font-size="32">1000</text><text x="1918.5" y="353.9" font-family="'Liberation Sans', Arial, Helvetica, sans-serif" font-size="32">750</text><text x="1918.5" y="398.8" font-family="'Liberation Sans', Arial, Helvetica, sans-serif" font-size="32">500</text><text x="1918.5" y="443.8" font-family="'Liberation Sans', Arial, Helvetica, sans-serif" font-size="32">250</text><text x="1918.5" y="488.7" font-family="'Liberation Sans', Arial, Helvetica, sans-serif" font-size="32">0</text><path d="M1883.0 118.0 H1903 M1883.0 162.9 H1903 M1883.0 207.9 H1903 M1883.0 252.8 H1903 M1883.0 297.8 H1903 M1883.0 342.7 H1903 M1883.0 387.6 H1903 M1883.0 432.6 H1903 M1883.0 477.5 H1903" stroke="#000" stroke-width="3"/><rect x="1861.0" y="686.0" width="22.0" height="361.0" fill="url(#cb2)"/><rect x="1861.0" y="686.0" width="22.0" height="361.0" fill="none" stroke="#000" stroke-width="3"/><text x="1918.5" y="697.2" font-family="'Liberation Sans', Arial, Helvetica, sans-serif" font-size="32">1500</text><text x="1918.5" y="757.4" font-family="'Liberation Sans', Arial, Helvetica, sans-serif" font-size="32">1000</text><text x="1918.5" y="817.5" font-family="'Liberation Sans', Arial, Helvetica, sans-serif" font-size="32">500</text><text x="1918.5" y="877.7" font-family="'Liberation Sans', Arial, Helvetica, sans-serif" font-size="32">0</text><text x="1918.5" y="937.9" font-family="'Liberation Sans', Arial, Helvetica, sans-serif" font-size="32" textLength="69" lengthAdjust="spacingAndGlyphs">−500</text><text x="1918.5" y="998.0" font-family="'Liberation Sans', Arial, Helvetica, sans-serif" font-size="32" textLength="85.8" lengthAdjust="spacingAndGlyphs">−1000</text><text x="1918.5" y="1058.2" font-family="'Liberation Sans', Arial, Helvetica, sans-serif" font-size="32" textLength="85.8" lengthAdjust="spacingAndGlyphs">−1500</text><path d="M1883.0 686.0 H1903 M1883.0 746.2 H1903 M1883.0 806.3 H1903 M1883.0 866.5 H1903 M1883.0 926.7 H1903 M1883.0 986.8 H1903 M1883.0 1047.0 H1903" stroke="#000" stroke-width="3"/>
</svg></body></html>
